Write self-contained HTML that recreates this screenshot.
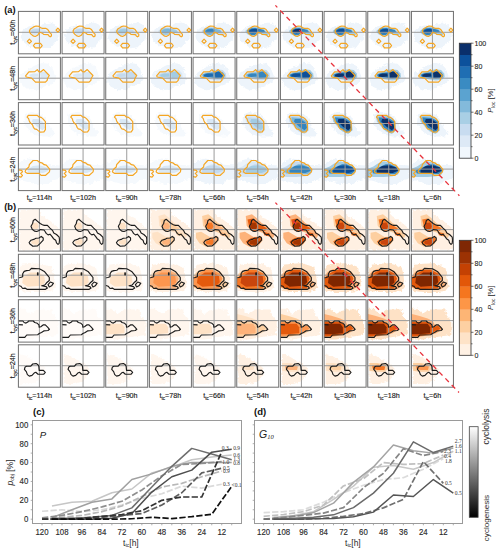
<!DOCTYPE html><html><head><meta charset="utf-8"><style>html,body{margin:0;padding:0;background:#fff;}svg{display:block;font-family:"Liberation Sans",sans-serif;}</style></head><body>
<svg width="500" height="554" viewBox="0 0 500 554">
<rect width="500" height="554" fill="#fff"/>
<defs>
<clipPath id="cA00"><rect x="18.40" y="11.40" width="42.0" height="42.4"/></clipPath>
<clipPath id="cA01"><rect x="62.07" y="11.40" width="42.0" height="42.4"/></clipPath>
<clipPath id="cA02"><rect x="105.74" y="11.40" width="42.0" height="42.4"/></clipPath>
<clipPath id="cA03"><rect x="149.41" y="11.40" width="42.0" height="42.4"/></clipPath>
<clipPath id="cA04"><rect x="193.08" y="11.40" width="42.0" height="42.4"/></clipPath>
<clipPath id="cA05"><rect x="236.75" y="11.40" width="42.0" height="42.4"/></clipPath>
<clipPath id="cA06"><rect x="280.42" y="11.40" width="42.0" height="42.4"/></clipPath>
<clipPath id="cA07"><rect x="324.09" y="11.40" width="42.0" height="42.4"/></clipPath>
<clipPath id="cA08"><rect x="367.76" y="11.40" width="42.0" height="42.4"/></clipPath>
<clipPath id="cA09"><rect x="411.43" y="11.40" width="42.0" height="42.4"/></clipPath>
<clipPath id="cA10"><rect x="18.40" y="57.30" width="42.0" height="42.4"/></clipPath>
<clipPath id="cA11"><rect x="62.07" y="57.30" width="42.0" height="42.4"/></clipPath>
<clipPath id="cA12"><rect x="105.74" y="57.30" width="42.0" height="42.4"/></clipPath>
<clipPath id="cA13"><rect x="149.41" y="57.30" width="42.0" height="42.4"/></clipPath>
<clipPath id="cA14"><rect x="193.08" y="57.30" width="42.0" height="42.4"/></clipPath>
<clipPath id="cA15"><rect x="236.75" y="57.30" width="42.0" height="42.4"/></clipPath>
<clipPath id="cA16"><rect x="280.42" y="57.30" width="42.0" height="42.4"/></clipPath>
<clipPath id="cA17"><rect x="324.09" y="57.30" width="42.0" height="42.4"/></clipPath>
<clipPath id="cA18"><rect x="367.76" y="57.30" width="42.0" height="42.4"/></clipPath>
<clipPath id="cA19"><rect x="411.43" y="57.30" width="42.0" height="42.4"/></clipPath>
<clipPath id="cA20"><rect x="18.40" y="102.60" width="42.0" height="42.4"/></clipPath>
<clipPath id="cA21"><rect x="62.07" y="102.60" width="42.0" height="42.4"/></clipPath>
<clipPath id="cA22"><rect x="105.74" y="102.60" width="42.0" height="42.4"/></clipPath>
<clipPath id="cA23"><rect x="149.41" y="102.60" width="42.0" height="42.4"/></clipPath>
<clipPath id="cA24"><rect x="193.08" y="102.60" width="42.0" height="42.4"/></clipPath>
<clipPath id="cA25"><rect x="236.75" y="102.60" width="42.0" height="42.4"/></clipPath>
<clipPath id="cA26"><rect x="280.42" y="102.60" width="42.0" height="42.4"/></clipPath>
<clipPath id="cA27"><rect x="324.09" y="102.60" width="42.0" height="42.4"/></clipPath>
<clipPath id="cA28"><rect x="367.76" y="102.60" width="42.0" height="42.4"/></clipPath>
<clipPath id="cA29"><rect x="411.43" y="102.60" width="42.0" height="42.4"/></clipPath>
<clipPath id="cA30"><rect x="18.40" y="148.20" width="42.0" height="42.4"/></clipPath>
<clipPath id="cA31"><rect x="62.07" y="148.20" width="42.0" height="42.4"/></clipPath>
<clipPath id="cA32"><rect x="105.74" y="148.20" width="42.0" height="42.4"/></clipPath>
<clipPath id="cA33"><rect x="149.41" y="148.20" width="42.0" height="42.4"/></clipPath>
<clipPath id="cA34"><rect x="193.08" y="148.20" width="42.0" height="42.4"/></clipPath>
<clipPath id="cA35"><rect x="236.75" y="148.20" width="42.0" height="42.4"/></clipPath>
<clipPath id="cA36"><rect x="280.42" y="148.20" width="42.0" height="42.4"/></clipPath>
<clipPath id="cA37"><rect x="324.09" y="148.20" width="42.0" height="42.4"/></clipPath>
<clipPath id="cA38"><rect x="367.76" y="148.20" width="42.0" height="42.4"/></clipPath>
<clipPath id="cA39"><rect x="411.43" y="148.20" width="42.0" height="42.4"/></clipPath>
<clipPath id="cB00"><rect x="18.40" y="208.70" width="42.0" height="42.4"/></clipPath>
<clipPath id="cB01"><rect x="62.07" y="208.70" width="42.0" height="42.4"/></clipPath>
<clipPath id="cB02"><rect x="105.74" y="208.70" width="42.0" height="42.4"/></clipPath>
<clipPath id="cB03"><rect x="149.41" y="208.70" width="42.0" height="42.4"/></clipPath>
<clipPath id="cB04"><rect x="193.08" y="208.70" width="42.0" height="42.4"/></clipPath>
<clipPath id="cB05"><rect x="236.75" y="208.70" width="42.0" height="42.4"/></clipPath>
<clipPath id="cB06"><rect x="280.42" y="208.70" width="42.0" height="42.4"/></clipPath>
<clipPath id="cB07"><rect x="324.09" y="208.70" width="42.0" height="42.4"/></clipPath>
<clipPath id="cB08"><rect x="367.76" y="208.70" width="42.0" height="42.4"/></clipPath>
<clipPath id="cB09"><rect x="411.43" y="208.70" width="42.0" height="42.4"/></clipPath>
<clipPath id="cB10"><rect x="18.40" y="254.30" width="42.0" height="42.4"/></clipPath>
<clipPath id="cB11"><rect x="62.07" y="254.30" width="42.0" height="42.4"/></clipPath>
<clipPath id="cB12"><rect x="105.74" y="254.30" width="42.0" height="42.4"/></clipPath>
<clipPath id="cB13"><rect x="149.41" y="254.30" width="42.0" height="42.4"/></clipPath>
<clipPath id="cB14"><rect x="193.08" y="254.30" width="42.0" height="42.4"/></clipPath>
<clipPath id="cB15"><rect x="236.75" y="254.30" width="42.0" height="42.4"/></clipPath>
<clipPath id="cB16"><rect x="280.42" y="254.30" width="42.0" height="42.4"/></clipPath>
<clipPath id="cB17"><rect x="324.09" y="254.30" width="42.0" height="42.4"/></clipPath>
<clipPath id="cB18"><rect x="367.76" y="254.30" width="42.0" height="42.4"/></clipPath>
<clipPath id="cB19"><rect x="411.43" y="254.30" width="42.0" height="42.4"/></clipPath>
<clipPath id="cB20"><rect x="18.40" y="299.70" width="42.0" height="42.4"/></clipPath>
<clipPath id="cB21"><rect x="62.07" y="299.70" width="42.0" height="42.4"/></clipPath>
<clipPath id="cB22"><rect x="105.74" y="299.70" width="42.0" height="42.4"/></clipPath>
<clipPath id="cB23"><rect x="149.41" y="299.70" width="42.0" height="42.4"/></clipPath>
<clipPath id="cB24"><rect x="193.08" y="299.70" width="42.0" height="42.4"/></clipPath>
<clipPath id="cB25"><rect x="236.75" y="299.70" width="42.0" height="42.4"/></clipPath>
<clipPath id="cB26"><rect x="280.42" y="299.70" width="42.0" height="42.4"/></clipPath>
<clipPath id="cB27"><rect x="324.09" y="299.70" width="42.0" height="42.4"/></clipPath>
<clipPath id="cB28"><rect x="367.76" y="299.70" width="42.0" height="42.4"/></clipPath>
<clipPath id="cB29"><rect x="411.43" y="299.70" width="42.0" height="42.4"/></clipPath>
<clipPath id="cB30"><rect x="18.40" y="344.80" width="42.0" height="42.4"/></clipPath>
<clipPath id="cB31"><rect x="62.07" y="344.80" width="42.0" height="42.4"/></clipPath>
<clipPath id="cB32"><rect x="105.74" y="344.80" width="42.0" height="42.4"/></clipPath>
<clipPath id="cB33"><rect x="149.41" y="344.80" width="42.0" height="42.4"/></clipPath>
<clipPath id="cB34"><rect x="193.08" y="344.80" width="42.0" height="42.4"/></clipPath>
<clipPath id="cB35"><rect x="236.75" y="344.80" width="42.0" height="42.4"/></clipPath>
<clipPath id="cB36"><rect x="280.42" y="344.80" width="42.0" height="42.4"/></clipPath>
<clipPath id="cB37"><rect x="324.09" y="344.80" width="42.0" height="42.4"/></clipPath>
<clipPath id="cB38"><rect x="367.76" y="344.80" width="42.0" height="42.4"/></clipPath>
<clipPath id="cB39"><rect x="411.43" y="344.80" width="42.0" height="42.4"/></clipPath>
<filter id="bl" x="-20%" y="-20%" width="140%" height="140%"><feGaussianBlur stdDeviation="0.45"/></filter>
<filter id="rg" x="-20%" y="-20%" width="140%" height="140%"><feTurbulence type="fractalNoise" baseFrequency="0.35" numOctaves="2" seed="3" result="n"/><feDisplacementMap in="SourceGraphic" in2="n" scale="4" xChannelSelector="R" yChannelSelector="G"/></filter>
</defs>
<g clip-path="url(#cA00)">
<g filter="url(#bl)">
<polygon points="20.74,36.70 22.50,30.54 26.90,27.02 33.06,25.26 40.10,26.14 43.63,23.50 50.67,22.62 55.07,24.38 58.59,28.78 58.59,39.34 54.19,42.86 50.67,47.26 43.63,48.15 34.82,48.15 27.78,45.50 22.50,41.10" fill="#edf4fb" filter="url(#rg)"/>
<polygon points="28.66,30.54 32.18,28.34 36.58,27.90 40.98,28.78 45.39,30.10 47.15,32.30 43.63,32.74 39.22,32.74 36.58,34.94 32.18,34.94 29.54,33.18" fill="#d9e8f5"/>
<polygon points="30.42,30.98 33.06,29.22 37.46,28.78 40.10,30.10 39.22,32.30 34.82,33.18 31.30,32.74" fill="#c4daee"/>
</g>
<line x1="39.40" y1="11.40" x2="39.40" y2="53.80" stroke="#9c9c9c" stroke-width="1"/>
<line x1="18.40" y1="32.30" x2="60.40" y2="32.30" stroke="#9c9c9c" stroke-width="1"/>
<g fill="none" stroke="#f5a623" stroke-width="1.2" stroke-linejoin="round">
<polygon points="29.40,31.10 30.40,29.00 32.50,27.80 34.30,26.60 36.10,26.00 39.10,26.30 40.60,27.80 42.40,28.40 46.00,28.40 47.80,29.60 49.00,31.40 49.90,32.90 51.40,34.10 51.40,35.90 50.20,36.80 49.00,35.90 48.10,34.70 43.60,34.40 42.40,33.20 40.00,32.30 38.80,33.50 37.60,35.30 35.20,36.50 33.10,35.90 31.00,34.10 29.80,32.60"/>
<polygon points="29.40,39.20 31.50,41.30 29.40,43.40 27.30,41.30"/>
<polygon points="33.45,45.60 35.20,43.40 40.45,43.40 42.20,45.60 40.45,47.90 35.20,47.90"/>
<polygon points="57.90,28.20 59.80,30.10 57.90,32.00 56.00,30.10"/>
</g>
</g>
<rect x="18.40" y="11.40" width="42.0" height="42.4" fill="none" stroke="#6e6e6e" stroke-width="1"/>
<g clip-path="url(#cA01)">
<g filter="url(#bl)">
<polygon points="64.41,36.70 66.17,30.54 70.57,27.02 76.73,25.26 83.77,26.14 87.30,23.50 94.34,22.62 98.74,24.38 102.26,28.78 102.26,39.34 97.86,42.86 94.34,47.26 87.30,48.15 78.49,48.15 71.45,45.50 66.17,41.10" fill="#edf4fb" filter="url(#rg)"/>
<polygon points="72.33,30.54 75.85,28.34 80.25,27.90 84.65,28.78 89.06,30.10 90.82,32.30 87.30,32.74 82.89,32.74 80.25,34.94 75.85,34.94 73.21,33.18" fill="#d9e8f5"/>
<polygon points="74.09,30.98 76.73,29.22 81.13,28.78 83.77,30.10 82.89,32.30 78.49,33.18 74.97,32.74" fill="#c4daee"/>
</g>
<line x1="83.07" y1="11.40" x2="83.07" y2="53.80" stroke="#9c9c9c" stroke-width="1"/>
<line x1="62.07" y1="32.30" x2="104.07" y2="32.30" stroke="#9c9c9c" stroke-width="1"/>
<g fill="none" stroke="#f5a623" stroke-width="1.2" stroke-linejoin="round">
<polygon points="73.07,31.10 74.07,29.00 76.17,27.80 77.97,26.60 79.77,26.00 82.77,26.30 84.27,27.80 86.07,28.40 89.67,28.40 91.47,29.60 92.67,31.40 93.57,32.90 95.07,34.10 95.07,35.90 93.87,36.80 92.67,35.90 91.77,34.70 87.27,34.40 86.07,33.20 83.67,32.30 82.47,33.50 81.27,35.30 78.87,36.50 76.77,35.90 74.67,34.10 73.47,32.60"/>
<polygon points="73.07,39.20 75.17,41.30 73.07,43.40 70.97,41.30"/>
<polygon points="77.12,45.60 78.87,43.40 84.12,43.40 85.87,45.60 84.12,47.90 78.87,47.90"/>
<polygon points="101.57,28.20 103.47,30.10 101.57,32.00 99.67,30.10"/>
</g>
</g>
<rect x="62.07" y="11.40" width="42.0" height="42.4" fill="none" stroke="#6e6e6e" stroke-width="1"/>
<g clip-path="url(#cA02)">
<g filter="url(#bl)">
<polygon points="108.08,36.70 109.84,30.54 114.24,27.02 120.40,25.26 127.44,26.14 130.97,23.50 138.01,22.62 142.41,24.38 145.93,28.78 145.93,39.34 141.53,42.86 138.01,47.26 130.97,48.15 122.16,48.15 115.12,45.50 109.84,41.10" fill="#edf4fb" filter="url(#rg)"/>
<polygon points="114.24,30.98 117.76,27.90 122.16,26.58 127.44,27.46 132.73,28.78 136.25,32.30 138.01,34.94 135.37,35.82 130.97,34.06 126.56,34.06 123.04,36.70 119.52,35.82 116.00,34.06" fill="#d9e8f5"/>
<polygon points="116.00,30.54 119.52,28.34 123.92,27.90 128.32,28.78 132.73,30.10 134.49,32.30 130.97,32.74 126.56,32.74 123.92,34.94 119.52,34.94 116.88,33.18" fill="#c4daee"/>
<polygon points="117.76,30.98 120.40,29.22 124.80,28.78 127.44,30.10 126.56,32.30 122.16,33.18 118.64,32.74" fill="#a3cce3"/>
</g>
<line x1="126.74" y1="11.40" x2="126.74" y2="53.80" stroke="#9c9c9c" stroke-width="1"/>
<line x1="105.74" y1="32.30" x2="147.74" y2="32.30" stroke="#9c9c9c" stroke-width="1"/>
<g fill="none" stroke="#f5a623" stroke-width="1.2" stroke-linejoin="round">
<polygon points="116.74,31.10 117.74,29.00 119.84,27.80 121.64,26.60 123.44,26.00 126.44,26.30 127.94,27.80 129.74,28.40 133.34,28.40 135.14,29.60 136.34,31.40 137.24,32.90 138.74,34.10 138.74,35.90 137.54,36.80 136.34,35.90 135.44,34.70 130.94,34.40 129.74,33.20 127.34,32.30 126.14,33.50 124.94,35.30 122.54,36.50 120.44,35.90 118.34,34.10 117.14,32.60"/>
<polygon points="116.74,39.20 118.84,41.30 116.74,43.40 114.64,41.30"/>
<polygon points="120.79,45.60 122.54,43.40 127.79,43.40 129.54,45.60 127.79,47.90 122.54,47.90"/>
<polygon points="145.24,28.20 147.14,30.10 145.24,32.00 143.34,30.10"/>
</g>
</g>
<rect x="105.74" y="11.40" width="42.0" height="42.4" fill="none" stroke="#6e6e6e" stroke-width="1"/>
<g clip-path="url(#cA03)">
<g filter="url(#bl)">
<polygon points="151.75,36.70 153.51,30.54 157.91,27.02 164.07,25.26 171.11,26.14 174.64,23.50 181.68,22.62 186.08,24.38 189.60,28.78 189.60,39.34 185.20,42.86 181.68,47.26 174.64,48.15 165.83,48.15 158.79,45.50 153.51,41.10" fill="#edf4fb" filter="url(#rg)"/>
<polygon points="157.91,30.98 161.43,27.90 165.83,26.58 171.11,27.46 176.40,28.78 179.92,32.30 181.68,34.94 179.04,35.82 174.64,34.06 170.23,34.06 166.71,36.70 163.19,35.82 159.67,34.06" fill="#d9e8f5"/>
<polygon points="159.67,30.54 163.19,28.34 167.59,27.90 171.99,28.78 176.40,30.10 178.16,32.30 174.64,32.74 170.23,32.74 167.59,34.94 163.19,34.94 160.55,33.18" fill="#a3cce3"/>
<polygon points="161.43,30.98 164.07,29.22 168.47,28.78 171.11,30.10 170.23,32.30 165.83,33.18 162.31,32.74" fill="#7db8da"/>
</g>
<line x1="170.41" y1="11.40" x2="170.41" y2="53.80" stroke="#9c9c9c" stroke-width="1"/>
<line x1="149.41" y1="32.30" x2="191.41" y2="32.30" stroke="#9c9c9c" stroke-width="1"/>
<g fill="none" stroke="#f5a623" stroke-width="1.2" stroke-linejoin="round">
<polygon points="160.41,31.10 161.41,29.00 163.51,27.80 165.31,26.60 167.11,26.00 170.11,26.30 171.61,27.80 173.41,28.40 177.01,28.40 178.81,29.60 180.01,31.40 180.91,32.90 182.41,34.10 182.41,35.90 181.21,36.80 180.01,35.90 179.11,34.70 174.61,34.40 173.41,33.20 171.01,32.30 169.81,33.50 168.61,35.30 166.21,36.50 164.11,35.90 162.01,34.10 160.81,32.60"/>
<polygon points="160.41,39.20 162.51,41.30 160.41,43.40 158.31,41.30"/>
<polygon points="164.46,45.60 166.21,43.40 171.46,43.40 173.21,45.60 171.46,47.90 166.21,47.90"/>
<polygon points="188.91,28.20 190.81,30.10 188.91,32.00 187.01,30.10"/>
</g>
</g>
<rect x="149.41" y="11.40" width="42.0" height="42.4" fill="none" stroke="#6e6e6e" stroke-width="1"/>
<g clip-path="url(#cA04)">
<g filter="url(#bl)">
<polygon points="195.42,36.70 197.18,30.54 201.58,27.02 207.74,25.26 214.78,26.14 218.31,23.50 225.35,22.62 229.75,24.38 233.27,28.78 233.27,39.34 228.87,42.86 225.35,47.26 218.31,48.15 209.50,48.15 202.46,45.50 197.18,41.10" fill="#edf4fb" filter="url(#rg)"/>
<polygon points="201.58,30.98 205.10,27.90 209.50,26.58 214.78,27.46 220.07,28.78 223.59,32.30 225.35,34.94 222.71,35.82 218.31,34.06 213.90,34.06 210.38,36.70 206.86,35.82 203.34,34.06" fill="#c4daee"/>
<polygon points="203.34,30.54 206.86,28.34 211.26,27.90 215.66,28.78 220.07,30.10 221.83,32.30 218.31,32.74 213.90,32.74 211.26,34.94 206.86,34.94 204.22,33.18" fill="#7db8da"/>
<polygon points="205.10,30.98 207.74,29.22 212.14,28.78 214.78,30.10 213.90,32.30 209.50,33.18 205.98,32.74" fill="#3585bf"/>
</g>
<line x1="214.08" y1="11.40" x2="214.08" y2="53.80" stroke="#9c9c9c" stroke-width="1"/>
<line x1="193.08" y1="32.30" x2="235.08" y2="32.30" stroke="#9c9c9c" stroke-width="1"/>
<g fill="none" stroke="#f5a623" stroke-width="1.2" stroke-linejoin="round">
<polygon points="204.08,31.10 205.08,29.00 207.18,27.80 208.98,26.60 210.78,26.00 213.78,26.30 215.28,27.80 217.08,28.40 220.68,28.40 222.48,29.60 223.68,31.40 224.58,32.90 226.08,34.10 226.08,35.90 224.88,36.80 223.68,35.90 222.78,34.70 218.28,34.40 217.08,33.20 214.68,32.30 213.48,33.50 212.28,35.30 209.88,36.50 207.78,35.90 205.68,34.10 204.48,32.60"/>
<polygon points="204.08,39.20 206.18,41.30 204.08,43.40 201.98,41.30"/>
<polygon points="208.13,45.60 209.88,43.40 215.13,43.40 216.88,45.60 215.13,47.90 209.88,47.90"/>
<polygon points="232.58,28.20 234.48,30.10 232.58,32.00 230.68,30.10"/>
</g>
</g>
<rect x="193.08" y="11.40" width="42.0" height="42.4" fill="none" stroke="#6e6e6e" stroke-width="1"/>
<g clip-path="url(#cA05)">
<g filter="url(#bl)">
<polygon points="239.09,36.70 240.85,30.54 245.25,27.02 251.41,25.26 258.45,26.14 261.98,23.50 269.02,22.62 273.42,24.38 276.94,28.78 276.94,39.34 272.54,42.86 269.02,47.26 261.98,48.15 253.17,48.15 246.13,45.50 240.85,41.10" fill="#edf4fb" filter="url(#rg)"/>
<polygon points="245.25,30.98 248.77,27.90 253.17,26.58 258.45,27.46 263.74,28.78 267.26,32.30 269.02,34.94 266.38,35.82 261.98,34.06 257.57,34.06 254.05,36.70 250.53,35.82 247.01,34.06" fill="#a3cce3"/>
<polygon points="247.01,30.54 250.53,28.34 254.93,27.90 259.33,28.78 263.74,30.10 265.50,32.30 261.98,32.74 257.57,32.74 254.93,34.94 250.53,34.94 247.89,33.18" fill="#3585bf"/>
<polygon points="248.77,30.98 251.41,29.22 255.81,28.78 258.45,30.10 257.57,32.30 253.17,33.18 249.65,32.74" fill="#0b4f98"/>
</g>
<line x1="257.75" y1="11.40" x2="257.75" y2="53.80" stroke="#9c9c9c" stroke-width="1"/>
<line x1="236.75" y1="32.30" x2="278.75" y2="32.30" stroke="#9c9c9c" stroke-width="1"/>
<g fill="none" stroke="#f5a623" stroke-width="1.2" stroke-linejoin="round">
<polygon points="247.75,31.10 248.75,29.00 250.85,27.80 252.65,26.60 254.45,26.00 257.45,26.30 258.95,27.80 260.75,28.40 264.35,28.40 266.15,29.60 267.35,31.40 268.25,32.90 269.75,34.10 269.75,35.90 268.55,36.80 267.35,35.90 266.45,34.70 261.95,34.40 260.75,33.20 258.35,32.30 257.15,33.50 255.95,35.30 253.55,36.50 251.45,35.90 249.35,34.10 248.15,32.60"/>
<polygon points="247.75,39.20 249.85,41.30 247.75,43.40 245.65,41.30"/>
<polygon points="251.80,45.60 253.55,43.40 258.80,43.40 260.55,45.60 258.80,47.90 253.55,47.90"/>
<polygon points="276.25,28.20 278.15,30.10 276.25,32.00 274.35,30.10"/>
</g>
</g>
<rect x="236.75" y="11.40" width="42.0" height="42.4" fill="none" stroke="#6e6e6e" stroke-width="1"/>
<g clip-path="url(#cA06)">
<g filter="url(#bl)">
<polygon points="282.76,36.70 284.52,30.54 288.92,27.02 295.08,25.26 302.12,26.14 305.65,23.50 312.69,22.62 317.09,24.38 320.61,28.78 320.61,39.34 316.21,42.86 312.69,47.26 305.65,48.15 296.84,48.15 289.80,45.50 284.52,41.10" fill="#edf4fb" filter="url(#rg)"/>
<polygon points="288.92,30.98 292.44,27.90 296.84,26.58 302.12,27.46 307.41,28.78 310.93,32.30 312.69,34.94 310.05,35.82 305.65,34.06 301.24,34.06 297.72,36.70 294.20,35.82 290.68,34.06" fill="#a3cce3"/>
<polygon points="290.68,30.54 294.20,28.34 298.60,27.90 303.00,28.78 307.41,30.10 309.17,32.30 305.65,32.74 301.24,32.74 298.60,34.94 294.20,34.94 291.56,33.18" fill="#3585bf"/>
<polygon points="292.44,30.98 295.08,29.22 299.48,28.78 302.12,30.10 301.24,32.30 296.84,33.18 293.32,32.74" fill="#08306b"/>
</g>
<line x1="301.42" y1="11.40" x2="301.42" y2="53.80" stroke="#9c9c9c" stroke-width="1"/>
<line x1="280.42" y1="32.30" x2="322.42" y2="32.30" stroke="#9c9c9c" stroke-width="1"/>
<g fill="none" stroke="#f5a623" stroke-width="1.2" stroke-linejoin="round">
<polygon points="291.42,31.10 292.42,29.00 294.52,27.80 296.32,26.60 298.12,26.00 301.12,26.30 302.62,27.80 304.42,28.40 308.02,28.40 309.82,29.60 311.02,31.40 311.92,32.90 313.42,34.10 313.42,35.90 312.22,36.80 311.02,35.90 310.12,34.70 305.62,34.40 304.42,33.20 302.02,32.30 300.82,33.50 299.62,35.30 297.22,36.50 295.12,35.90 293.02,34.10 291.82,32.60"/>
<polygon points="291.42,39.20 293.52,41.30 291.42,43.40 289.32,41.30"/>
<polygon points="295.47,45.60 297.22,43.40 302.47,43.40 304.22,45.60 302.47,47.90 297.22,47.90"/>
<polygon points="319.92,28.20 321.82,30.10 319.92,32.00 318.02,30.10"/>
</g>
</g>
<rect x="280.42" y="11.40" width="42.0" height="42.4" fill="none" stroke="#6e6e6e" stroke-width="1"/>
<g clip-path="url(#cA07)">
<g filter="url(#bl)">
<polygon points="326.43,36.70 328.19,30.54 332.59,27.02 338.75,25.26 345.79,26.14 349.32,23.50 356.36,22.62 360.76,24.38 364.28,28.78 364.28,39.34 359.88,42.86 356.36,47.26 349.32,48.15 340.51,48.15 333.47,45.50 328.19,41.10" fill="#edf4fb" filter="url(#rg)"/>
<polygon points="332.59,30.98 336.11,27.90 340.51,26.58 345.79,27.46 351.08,28.78 354.60,32.30 356.36,34.94 353.72,35.82 349.32,34.06 344.91,34.06 341.39,36.70 337.87,35.82 334.35,34.06" fill="#a3cce3"/>
<polygon points="334.35,30.54 337.87,28.34 342.27,27.90 346.67,28.78 351.08,30.10 352.84,32.30 349.32,32.74 344.91,32.74 342.27,34.94 337.87,34.94 335.23,33.18" fill="#3585bf"/>
<polygon points="336.11,30.98 338.75,29.22 343.15,28.78 345.79,30.10 344.91,32.30 340.51,33.18 336.99,32.74" fill="#0b4f98"/>
</g>
<line x1="345.09" y1="11.40" x2="345.09" y2="53.80" stroke="#9c9c9c" stroke-width="1"/>
<line x1="324.09" y1="32.30" x2="366.09" y2="32.30" stroke="#9c9c9c" stroke-width="1"/>
<g fill="none" stroke="#f5a623" stroke-width="1.2" stroke-linejoin="round">
<polygon points="335.09,31.10 336.09,29.00 338.19,27.80 339.99,26.60 341.79,26.00 344.79,26.30 346.29,27.80 348.09,28.40 351.69,28.40 353.49,29.60 354.69,31.40 355.59,32.90 357.09,34.10 357.09,35.90 355.89,36.80 354.69,35.90 353.79,34.70 349.29,34.40 348.09,33.20 345.69,32.30 344.49,33.50 343.29,35.30 340.89,36.50 338.79,35.90 336.69,34.10 335.49,32.60"/>
<polygon points="335.09,39.20 337.19,41.30 335.09,43.40 332.99,41.30"/>
<polygon points="339.14,45.60 340.89,43.40 346.14,43.40 347.89,45.60 346.14,47.90 340.89,47.90"/>
<polygon points="363.59,28.20 365.49,30.10 363.59,32.00 361.69,30.10"/>
</g>
</g>
<rect x="324.09" y="11.40" width="42.0" height="42.4" fill="none" stroke="#6e6e6e" stroke-width="1"/>
<g clip-path="url(#cA08)">
<g filter="url(#bl)">
<polygon points="370.10,36.70 371.86,30.54 376.26,27.02 382.42,25.26 389.46,26.14 392.99,23.50 400.03,22.62 404.43,24.38 407.95,28.78 407.95,39.34 403.55,42.86 400.03,47.26 392.99,48.15 384.18,48.15 377.14,45.50 371.86,41.10" fill="#edf4fb" filter="url(#rg)"/>
<polygon points="376.26,30.98 379.78,27.90 384.18,26.58 389.46,27.46 394.75,28.78 398.27,32.30 400.03,34.94 397.39,35.82 392.99,34.06 388.58,34.06 385.06,36.70 381.54,35.82 378.02,34.06" fill="#a3cce3"/>
<polygon points="378.02,30.54 381.54,28.34 385.94,27.90 390.34,28.78 394.75,30.10 396.51,32.30 392.99,32.74 388.58,32.74 385.94,34.94 381.54,34.94 378.90,33.18" fill="#3585bf"/>
<polygon points="379.78,30.98 382.42,29.22 386.82,28.78 389.46,30.10 388.58,32.30 384.18,33.18 380.66,32.74" fill="#0b4f98"/>
</g>
<line x1="388.76" y1="11.40" x2="388.76" y2="53.80" stroke="#9c9c9c" stroke-width="1"/>
<line x1="367.76" y1="32.30" x2="409.76" y2="32.30" stroke="#9c9c9c" stroke-width="1"/>
<g fill="none" stroke="#f5a623" stroke-width="1.2" stroke-linejoin="round">
<polygon points="378.76,31.10 379.76,29.00 381.86,27.80 383.66,26.60 385.46,26.00 388.46,26.30 389.96,27.80 391.76,28.40 395.36,28.40 397.16,29.60 398.36,31.40 399.26,32.90 400.76,34.10 400.76,35.90 399.56,36.80 398.36,35.90 397.46,34.70 392.96,34.40 391.76,33.20 389.36,32.30 388.16,33.50 386.96,35.30 384.56,36.50 382.46,35.90 380.36,34.10 379.16,32.60"/>
<polygon points="378.76,39.20 380.86,41.30 378.76,43.40 376.66,41.30"/>
<polygon points="382.81,45.60 384.56,43.40 389.81,43.40 391.56,45.60 389.81,47.90 384.56,47.90"/>
<polygon points="407.26,28.20 409.16,30.10 407.26,32.00 405.36,30.10"/>
</g>
</g>
<rect x="367.76" y="11.40" width="42.0" height="42.4" fill="none" stroke="#6e6e6e" stroke-width="1"/>
<g clip-path="url(#cA09)">
<g filter="url(#bl)">
<polygon points="413.77,36.70 415.53,30.54 419.93,27.02 426.09,25.26 433.13,26.14 436.66,23.50 443.70,22.62 448.10,24.38 451.62,28.78 451.62,39.34 447.22,42.86 443.70,47.26 436.66,48.15 427.85,48.15 420.81,45.50 415.53,41.10" fill="#edf4fb" filter="url(#rg)"/>
<polygon points="419.93,30.98 423.45,27.90 427.85,26.58 433.13,27.46 438.42,28.78 441.94,32.30 443.70,34.94 441.06,35.82 436.66,34.06 432.25,34.06 428.73,36.70 425.21,35.82 421.69,34.06" fill="#a3cce3"/>
<polygon points="421.69,30.54 425.21,28.34 429.61,27.90 434.01,28.78 438.42,30.10 440.18,32.30 436.66,32.74 432.25,32.74 429.61,34.94 425.21,34.94 422.57,33.18" fill="#3585bf"/>
<polygon points="423.45,30.98 426.09,29.22 430.49,28.78 433.13,30.10 432.25,32.30 427.85,33.18 424.33,32.74" fill="#0b4f98"/>
</g>
<line x1="432.43" y1="11.40" x2="432.43" y2="53.80" stroke="#9c9c9c" stroke-width="1"/>
<line x1="411.43" y1="32.30" x2="453.43" y2="32.30" stroke="#9c9c9c" stroke-width="1"/>
<g fill="none" stroke="#f5a623" stroke-width="1.2" stroke-linejoin="round">
<polygon points="422.43,31.10 423.43,29.00 425.53,27.80 427.33,26.60 429.13,26.00 432.13,26.30 433.63,27.80 435.43,28.40 439.03,28.40 440.83,29.60 442.03,31.40 442.93,32.90 444.43,34.10 444.43,35.90 443.23,36.80 442.03,35.90 441.13,34.70 436.63,34.40 435.43,33.20 433.03,32.30 431.83,33.50 430.63,35.30 428.23,36.50 426.13,35.90 424.03,34.10 422.83,32.60"/>
<polygon points="422.43,39.20 424.53,41.30 422.43,43.40 420.33,41.30"/>
<polygon points="426.48,45.60 428.23,43.40 433.48,43.40 435.23,45.60 433.48,47.90 428.23,47.90"/>
<polygon points="450.93,28.20 452.83,30.10 450.93,32.00 449.03,30.10"/>
</g>
</g>
<rect x="411.43" y="11.40" width="42.0" height="42.4" fill="none" stroke="#6e6e6e" stroke-width="1"/>
<text transform="translate(14.6,32.30) rotate(-90)" text-anchor="middle" font-size="7.2" fill="#222" stroke="#222" stroke-width="0.15">t<tspan font-size="4.6" dy="2.1">cyc</tspan><tspan dy="-2.1">=</tspan>60h</text>
<g clip-path="url(#cA10)">
<g filter="url(#bl)">
<polygon points="19.95,77.94 22.59,72.65 27.87,69.13 34.91,65.61 41.95,62.97 48.11,63.85 52.52,68.25 55.16,75.30 56.04,79.70 51.64,84.10 43.71,86.74 39.31,89.38 31.39,90.26 23.47,86.74 19.95,82.34" fill="#f5f9fd" filter="url(#rg)"/>
<polygon points="29.19,74.85 33.15,73.53 37.99,73.53 38.43,76.62 33.15,77.06 29.63,76.62" fill="#d9e8f5"/>
<polygon points="40.02,72.21 45.47,71.60 48.55,74.41 47.67,77.50 40.63,77.76" fill="#d9e8f5"/>
</g>
<line x1="39.40" y1="57.30" x2="39.40" y2="99.70" stroke="#9c9c9c" stroke-width="1"/>
<line x1="18.40" y1="78.20" x2="60.40" y2="78.20" stroke="#9c9c9c" stroke-width="1"/>
<g fill="none" stroke="#f5a623" stroke-width="1.2" stroke-linejoin="round">
<polygon points="25.60,75.80 28.90,71.90 34.90,71.60 37.30,69.60 38.80,71.60 40.60,71.90 43.60,69.60 49.30,75.50 47.50,78.50 47.20,80.30 45.40,82.10 35.50,82.10 31.60,78.20 26.20,77.00"/>
</g>
</g>
<rect x="18.40" y="57.30" width="42.0" height="42.4" fill="none" stroke="#6e6e6e" stroke-width="1"/>
<g clip-path="url(#cA11)">
<g filter="url(#bl)">
<polygon points="63.62,77.94 66.26,72.65 71.54,69.13 78.58,65.61 85.62,62.97 91.78,63.85 96.19,68.25 98.83,75.30 99.71,79.70 95.31,84.10 87.38,86.74 82.98,89.38 75.06,90.26 67.14,86.74 63.62,82.34" fill="#f5f9fd" filter="url(#rg)"/>
<polygon points="72.86,74.85 76.82,73.53 81.66,73.53 82.10,76.62 76.82,77.06 73.30,76.62" fill="#d9e8f5"/>
<polygon points="83.69,72.21 89.14,71.60 92.22,74.41 91.34,77.50 84.30,77.76" fill="#d9e8f5"/>
</g>
<line x1="83.07" y1="57.30" x2="83.07" y2="99.70" stroke="#9c9c9c" stroke-width="1"/>
<line x1="62.07" y1="78.20" x2="104.07" y2="78.20" stroke="#9c9c9c" stroke-width="1"/>
<g fill="none" stroke="#f5a623" stroke-width="1.2" stroke-linejoin="round">
<polygon points="69.27,75.80 72.57,71.90 78.57,71.60 80.97,69.60 82.47,71.60 84.27,71.90 87.27,69.60 92.97,75.50 91.17,78.50 90.87,80.30 89.07,82.10 79.17,82.10 75.27,78.20 69.87,77.00"/>
</g>
</g>
<rect x="62.07" y="57.30" width="42.0" height="42.4" fill="none" stroke="#6e6e6e" stroke-width="1"/>
<g clip-path="url(#cA12)">
<g filter="url(#bl)">
<polygon points="107.29,77.94 109.93,72.65 115.21,69.13 122.25,65.61 129.29,62.97 135.45,63.85 139.86,68.25 142.50,75.30 143.38,79.70 138.98,84.10 131.05,86.74 126.65,89.38 118.73,90.26 110.81,86.74 107.29,82.34" fill="#edf4fb" filter="url(#rg)"/>
<polygon points="114.77,74.85 118.73,73.09 125.77,72.21 131.05,70.89 135.45,72.21 137.66,75.30 136.34,77.94 130.17,78.82 122.25,77.50 116.09,77.06" fill="#d9e8f5"/>
<polygon points="116.53,74.85 120.49,73.53 125.33,73.53 125.77,76.62 120.49,77.06 116.97,76.62" fill="#c4daee"/>
<polygon points="127.36,72.21 132.81,71.60 135.89,74.41 135.01,77.50 127.97,77.76" fill="#c4daee"/>
</g>
<line x1="126.74" y1="57.30" x2="126.74" y2="99.70" stroke="#9c9c9c" stroke-width="1"/>
<line x1="105.74" y1="78.20" x2="147.74" y2="78.20" stroke="#9c9c9c" stroke-width="1"/>
<g fill="none" stroke="#f5a623" stroke-width="1.2" stroke-linejoin="round">
<polygon points="112.94,75.80 116.24,71.90 122.24,71.60 124.64,69.60 126.14,71.60 127.94,71.90 130.94,69.60 136.64,75.50 134.84,78.50 134.54,80.30 132.74,82.10 122.84,82.10 118.94,78.20 113.54,77.00"/>
</g>
</g>
<rect x="105.74" y="57.30" width="42.0" height="42.4" fill="none" stroke="#6e6e6e" stroke-width="1"/>
<g clip-path="url(#cA13)">
<g filter="url(#bl)">
<polygon points="150.96,77.94 153.60,72.65 158.88,69.13 165.92,65.61 172.96,62.97 179.12,63.85 183.53,68.25 186.17,75.30 187.05,79.70 182.65,84.10 174.72,86.74 170.32,89.38 162.40,90.26 154.48,86.74 150.96,82.34" fill="#edf4fb" filter="url(#rg)"/>
<polygon points="156.68,75.74 159.76,72.65 165.92,70.89 172.96,69.13 179.12,70.01 182.21,73.53 182.65,77.06 180.01,79.70 173.84,80.58 165.92,79.26 158.88,77.94" fill="#d9e8f5"/>
<polygon points="158.44,74.85 162.40,73.09 169.44,72.21 174.72,70.89 179.12,72.21 181.33,75.30 180.01,77.94 173.84,78.82 165.92,77.50 159.76,77.06" fill="#c4daee"/>
<polygon points="160.20,74.85 164.16,73.53 169.00,73.53 169.44,76.62 164.16,77.06 160.64,76.62" fill="#a3cce3"/>
<polygon points="171.03,72.21 176.48,71.60 179.56,74.41 178.68,77.50 171.64,77.76" fill="#a3cce3"/>
</g>
<line x1="170.41" y1="57.30" x2="170.41" y2="99.70" stroke="#9c9c9c" stroke-width="1"/>
<line x1="149.41" y1="78.20" x2="191.41" y2="78.20" stroke="#9c9c9c" stroke-width="1"/>
<g fill="none" stroke="#f5a623" stroke-width="1.2" stroke-linejoin="round">
<polygon points="156.61,75.80 159.91,71.90 165.91,71.60 168.31,69.60 169.81,71.60 171.61,71.90 174.61,69.60 180.31,75.50 178.51,78.50 178.21,80.30 176.41,82.10 166.51,82.10 162.61,78.20 157.21,77.00"/>
</g>
</g>
<rect x="149.41" y="57.30" width="42.0" height="42.4" fill="none" stroke="#6e6e6e" stroke-width="1"/>
<g clip-path="url(#cA14)">
<g filter="url(#bl)">
<polygon points="194.63,77.94 197.27,72.65 202.55,69.13 209.59,65.61 216.63,62.97 222.79,63.85 227.20,68.25 229.84,75.30 230.72,79.70 226.32,84.10 218.39,86.74 213.99,89.38 206.07,90.26 198.15,86.74 194.63,82.34" fill="#edf4fb" filter="url(#rg)"/>
<polygon points="200.35,75.74 203.43,72.65 209.59,70.89 216.63,69.13 222.79,70.01 225.88,73.53 226.32,77.06 223.68,79.70 217.51,80.58 209.59,79.26 202.55,77.94" fill="#c4daee"/>
<polygon points="202.11,74.85 206.07,73.09 213.11,72.21 218.39,70.89 222.79,72.21 225.00,75.30 223.68,77.94 217.51,78.82 209.59,77.50 203.43,77.06" fill="#559fcd"/>
<polygon points="203.87,74.85 207.83,73.53 212.67,73.53 213.11,76.62 207.83,77.06 204.31,76.62" fill="#1b69af"/>
<polygon points="214.70,72.21 220.15,71.60 223.23,74.41 222.35,77.50 215.31,77.76" fill="#1b69af"/>
</g>
<line x1="214.08" y1="57.30" x2="214.08" y2="99.70" stroke="#9c9c9c" stroke-width="1"/>
<line x1="193.08" y1="78.20" x2="235.08" y2="78.20" stroke="#9c9c9c" stroke-width="1"/>
<g fill="none" stroke="#f5a623" stroke-width="1.2" stroke-linejoin="round">
<polygon points="200.28,75.80 203.58,71.90 209.58,71.60 211.98,69.60 213.48,71.60 215.28,71.90 218.28,69.60 223.98,75.50 222.18,78.50 221.88,80.30 220.08,82.10 210.18,82.10 206.28,78.20 200.88,77.00"/>
</g>
</g>
<rect x="193.08" y="57.30" width="42.0" height="42.4" fill="none" stroke="#6e6e6e" stroke-width="1"/>
<g clip-path="url(#cA15)">
<g filter="url(#bl)">
<polygon points="238.30,77.94 240.94,72.65 246.22,69.13 253.26,65.61 260.30,62.97 266.46,63.85 270.87,68.25 273.51,75.30 274.39,79.70 269.99,84.10 262.06,86.74 257.66,89.38 249.74,90.26 241.82,86.74 238.30,82.34" fill="#edf4fb" filter="url(#rg)"/>
<polygon points="244.02,75.74 247.10,72.65 253.26,70.89 260.30,69.13 266.46,70.01 269.55,73.53 269.99,77.06 267.35,79.70 261.18,80.58 253.26,79.26 246.22,77.94" fill="#c4daee"/>
<polygon points="245.78,74.85 249.74,73.09 256.78,72.21 262.06,70.89 266.46,72.21 268.67,75.30 267.35,77.94 261.18,78.82 253.26,77.50 247.10,77.06" fill="#7db8da"/>
<polygon points="247.54,74.85 251.50,73.53 256.34,73.53 256.78,76.62 251.50,77.06 247.98,76.62" fill="#3585bf"/>
<polygon points="258.37,72.21 263.82,71.60 266.90,74.41 266.02,77.50 258.98,77.76" fill="#3585bf"/>
</g>
<line x1="257.75" y1="57.30" x2="257.75" y2="99.70" stroke="#9c9c9c" stroke-width="1"/>
<line x1="236.75" y1="78.20" x2="278.75" y2="78.20" stroke="#9c9c9c" stroke-width="1"/>
<g fill="none" stroke="#f5a623" stroke-width="1.2" stroke-linejoin="round">
<polygon points="243.95,75.80 247.25,71.90 253.25,71.60 255.65,69.60 257.15,71.60 258.95,71.90 261.95,69.60 267.65,75.50 265.85,78.50 265.55,80.30 263.75,82.10 253.85,82.10 249.95,78.20 244.55,77.00"/>
</g>
</g>
<rect x="236.75" y="57.30" width="42.0" height="42.4" fill="none" stroke="#6e6e6e" stroke-width="1"/>
<g clip-path="url(#cA16)">
<g filter="url(#bl)">
<polygon points="281.97,77.94 284.61,72.65 289.89,69.13 296.93,65.61 303.97,62.97 310.13,63.85 314.54,68.25 317.18,75.30 318.06,79.70 313.66,84.10 305.73,86.74 301.33,89.38 293.41,90.26 285.49,86.74 281.97,82.34" fill="#edf4fb" filter="url(#rg)"/>
<polygon points="287.69,75.74 290.77,72.65 296.93,70.89 303.97,69.13 310.13,70.01 313.22,73.53 313.66,77.06 311.02,79.70 304.85,80.58 296.93,79.26 289.89,77.94" fill="#a3cce3"/>
<polygon points="289.45,74.85 293.41,73.09 300.45,72.21 305.73,70.89 310.13,72.21 312.34,75.30 311.02,77.94 304.85,78.82 296.93,77.50 290.77,77.06" fill="#3585bf"/>
<polygon points="291.21,74.85 295.17,73.53 300.01,73.53 300.45,76.62 295.17,77.06 291.65,76.62" fill="#0b4f98"/>
<polygon points="302.04,72.21 307.49,71.60 310.57,74.41 309.69,77.50 302.65,77.76" fill="#0b4f98"/>
</g>
<line x1="301.42" y1="57.30" x2="301.42" y2="99.70" stroke="#9c9c9c" stroke-width="1"/>
<line x1="280.42" y1="78.20" x2="322.42" y2="78.20" stroke="#9c9c9c" stroke-width="1"/>
<g fill="none" stroke="#f5a623" stroke-width="1.2" stroke-linejoin="round">
<polygon points="287.62,75.80 290.92,71.90 296.92,71.60 299.32,69.60 300.82,71.60 302.62,71.90 305.62,69.60 311.32,75.50 309.52,78.50 309.22,80.30 307.42,82.10 297.52,82.10 293.62,78.20 288.22,77.00"/>
</g>
</g>
<rect x="280.42" y="57.30" width="42.0" height="42.4" fill="none" stroke="#6e6e6e" stroke-width="1"/>
<g clip-path="url(#cA17)">
<g filter="url(#bl)">
<polygon points="325.64,77.94 328.28,72.65 333.56,69.13 340.60,65.61 347.64,62.97 353.80,63.85 358.21,68.25 360.85,75.30 361.73,79.70 357.33,84.10 349.40,86.74 345.00,89.38 337.08,90.26 329.16,86.74 325.64,82.34" fill="#edf4fb" filter="url(#rg)"/>
<polygon points="331.36,75.74 334.44,72.65 340.60,70.89 347.64,69.13 353.80,70.01 356.89,73.53 357.33,77.06 354.69,79.70 348.52,80.58 340.60,79.26 333.56,77.94" fill="#a3cce3"/>
<polygon points="333.12,74.85 337.08,73.09 344.12,72.21 349.40,70.89 353.80,72.21 356.01,75.30 354.69,77.94 348.52,78.82 340.60,77.50 334.44,77.06" fill="#3585bf"/>
<polygon points="334.88,74.85 338.84,73.53 343.68,73.53 344.12,76.62 338.84,77.06 335.32,76.62" fill="#08306b"/>
<polygon points="345.71,72.21 351.16,71.60 354.24,74.41 353.36,77.50 346.32,77.76" fill="#08306b"/>
</g>
<line x1="345.09" y1="57.30" x2="345.09" y2="99.70" stroke="#9c9c9c" stroke-width="1"/>
<line x1="324.09" y1="78.20" x2="366.09" y2="78.20" stroke="#9c9c9c" stroke-width="1"/>
<g fill="none" stroke="#f5a623" stroke-width="1.2" stroke-linejoin="round">
<polygon points="331.29,75.80 334.59,71.90 340.59,71.60 342.99,69.60 344.49,71.60 346.29,71.90 349.29,69.60 354.99,75.50 353.19,78.50 352.89,80.30 351.09,82.10 341.19,82.10 337.29,78.20 331.89,77.00"/>
</g>
</g>
<rect x="324.09" y="57.30" width="42.0" height="42.4" fill="none" stroke="#6e6e6e" stroke-width="1"/>
<g clip-path="url(#cA18)">
<g filter="url(#bl)">
<polygon points="369.31,77.94 371.95,72.65 377.23,69.13 384.27,65.61 391.31,62.97 397.47,63.85 401.88,68.25 404.52,75.30 405.40,79.70 401.00,84.10 393.07,86.74 388.67,89.38 380.75,90.26 372.83,86.74 369.31,82.34" fill="#edf4fb" filter="url(#rg)"/>
<polygon points="375.03,75.74 378.11,72.65 384.27,70.89 391.31,69.13 397.47,70.01 400.56,73.53 401.00,77.06 398.36,79.70 392.19,80.58 384.27,79.26 377.23,77.94" fill="#a3cce3"/>
<polygon points="376.79,74.85 380.75,73.09 387.79,72.21 393.07,70.89 397.47,72.21 399.68,75.30 398.36,77.94 392.19,78.82 384.27,77.50 378.11,77.06" fill="#3585bf"/>
<polygon points="378.55,74.85 382.51,73.53 387.35,73.53 387.79,76.62 382.51,77.06 378.99,76.62" fill="#08306b"/>
<polygon points="389.38,72.21 394.83,71.60 397.91,74.41 397.03,77.50 389.99,77.76" fill="#08306b"/>
</g>
<line x1="388.76" y1="57.30" x2="388.76" y2="99.70" stroke="#9c9c9c" stroke-width="1"/>
<line x1="367.76" y1="78.20" x2="409.76" y2="78.20" stroke="#9c9c9c" stroke-width="1"/>
<g fill="none" stroke="#f5a623" stroke-width="1.2" stroke-linejoin="round">
<polygon points="374.96,75.80 378.26,71.90 384.26,71.60 386.66,69.60 388.16,71.60 389.96,71.90 392.96,69.60 398.66,75.50 396.86,78.50 396.56,80.30 394.76,82.10 384.86,82.10 380.96,78.20 375.56,77.00"/>
</g>
</g>
<rect x="367.76" y="57.30" width="42.0" height="42.4" fill="none" stroke="#6e6e6e" stroke-width="1"/>
<g clip-path="url(#cA19)">
<g filter="url(#bl)">
<polygon points="412.98,77.94 415.62,72.65 420.90,69.13 427.94,65.61 434.98,62.97 441.14,63.85 445.55,68.25 448.19,75.30 449.07,79.70 444.67,84.10 436.74,86.74 432.34,89.38 424.42,90.26 416.50,86.74 412.98,82.34" fill="#edf4fb" filter="url(#rg)"/>
<polygon points="418.70,75.74 421.78,72.65 427.94,70.89 434.98,69.13 441.14,70.01 444.23,73.53 444.67,77.06 442.03,79.70 435.86,80.58 427.94,79.26 420.90,77.94" fill="#a3cce3"/>
<polygon points="420.46,74.85 424.42,73.09 431.46,72.21 436.74,70.89 441.14,72.21 443.35,75.30 442.03,77.94 435.86,78.82 427.94,77.50 421.78,77.06" fill="#3585bf"/>
<polygon points="422.22,74.85 426.18,73.53 431.02,73.53 431.46,76.62 426.18,77.06 422.66,76.62" fill="#08306b"/>
<polygon points="433.05,72.21 438.50,71.60 441.58,74.41 440.70,77.50 433.66,77.76" fill="#08306b"/>
</g>
<line x1="432.43" y1="57.30" x2="432.43" y2="99.70" stroke="#9c9c9c" stroke-width="1"/>
<line x1="411.43" y1="78.20" x2="453.43" y2="78.20" stroke="#9c9c9c" stroke-width="1"/>
<g fill="none" stroke="#f5a623" stroke-width="1.2" stroke-linejoin="round">
<polygon points="418.63,75.80 421.93,71.90 427.93,71.60 430.33,69.60 431.83,71.60 433.63,71.90 436.63,69.60 442.33,75.50 440.53,78.50 440.23,80.30 438.43,82.10 428.53,82.10 424.63,78.20 419.23,77.00"/>
</g>
</g>
<rect x="411.43" y="57.30" width="42.0" height="42.4" fill="none" stroke="#6e6e6e" stroke-width="1"/>
<text transform="translate(14.6,78.20) rotate(-90)" text-anchor="middle" font-size="7.2" fill="#222" stroke="#222" stroke-width="0.15">t<tspan font-size="4.6" dy="2.1">cyc</tspan><tspan dy="-2.1">=</tspan>48h</text>
<g clip-path="url(#cA20)">
<g filter="url(#bl)">
<polygon points="24.88,114.52 31.04,111.88 38.96,113.64 45.12,116.28 47.76,120.68 50.40,127.73 55.69,133.01 52.16,136.53 43.36,136.53 34.56,134.77 28.40,130.37 24.00,123.32" fill="#f5f9fd" filter="url(#rg)"/>
<polygon points="32.80,118.92 38.08,118.92 43.36,122.44 45.12,127.73 42.48,130.37 37.20,126.85 31.92,121.56" fill="#d9e8f5"/>
</g>
<line x1="39.40" y1="102.60" x2="39.40" y2="145.00" stroke="#9c9c9c" stroke-width="1"/>
<line x1="18.40" y1="123.50" x2="60.40" y2="123.50" stroke="#9c9c9c" stroke-width="1"/>
<g fill="none" stroke="#f5a623" stroke-width="1.2" stroke-linejoin="round">
<polygon points="27.10,117.10 28.30,115.40 37.30,115.40 38.80,116.80 41.20,117.40 43.00,118.90 45.40,121.60 45.40,129.70 43.90,131.80 40.00,132.10 38.50,130.90 36.70,129.40 34.60,128.80 33.40,127.30 32.50,124.90 30.10,122.50 29.20,120.70 28.60,118.60"/>
</g>
</g>
<rect x="18.40" y="102.60" width="42.0" height="42.4" fill="none" stroke="#6e6e6e" stroke-width="1"/>
<g clip-path="url(#cA21)">
<g filter="url(#bl)">
<polygon points="68.55,114.52 74.71,111.88 82.63,113.64 88.79,116.28 91.43,120.68 94.07,127.73 99.36,133.01 95.83,136.53 87.03,136.53 78.23,134.77 72.07,130.37 67.67,123.32" fill="#f5f9fd" filter="url(#rg)"/>
<polygon points="76.47,118.92 81.75,118.92 87.03,122.44 88.79,127.73 86.15,130.37 80.87,126.85 75.59,121.56" fill="#d9e8f5"/>
</g>
<line x1="83.07" y1="102.60" x2="83.07" y2="145.00" stroke="#9c9c9c" stroke-width="1"/>
<line x1="62.07" y1="123.50" x2="104.07" y2="123.50" stroke="#9c9c9c" stroke-width="1"/>
<g fill="none" stroke="#f5a623" stroke-width="1.2" stroke-linejoin="round">
<polygon points="70.77,117.10 71.97,115.40 80.97,115.40 82.47,116.80 84.87,117.40 86.67,118.90 89.07,121.60 89.07,129.70 87.57,131.80 83.67,132.10 82.17,130.90 80.37,129.40 78.27,128.80 77.07,127.30 76.17,124.90 73.77,122.50 72.87,120.70 72.27,118.60"/>
</g>
</g>
<rect x="62.07" y="102.60" width="42.0" height="42.4" fill="none" stroke="#6e6e6e" stroke-width="1"/>
<g clip-path="url(#cA22)">
<g filter="url(#bl)">
<polygon points="112.22,114.52 118.38,111.88 126.30,113.64 132.46,116.28 135.10,120.68 137.74,127.73 143.03,133.01 139.50,136.53 130.70,136.53 121.90,134.77 115.74,130.37 111.34,123.32" fill="#f5f9fd" filter="url(#rg)"/>
<polygon points="120.14,118.92 125.42,118.92 130.70,122.44 132.46,127.73 129.82,130.37 124.54,126.85 119.26,121.56" fill="#d9e8f5"/>
</g>
<line x1="126.74" y1="102.60" x2="126.74" y2="145.00" stroke="#9c9c9c" stroke-width="1"/>
<line x1="105.74" y1="123.50" x2="147.74" y2="123.50" stroke="#9c9c9c" stroke-width="1"/>
<g fill="none" stroke="#f5a623" stroke-width="1.2" stroke-linejoin="round">
<polygon points="114.44,117.10 115.64,115.40 124.64,115.40 126.14,116.80 128.54,117.40 130.34,118.90 132.74,121.60 132.74,129.70 131.24,131.80 127.34,132.10 125.84,130.90 124.04,129.40 121.94,128.80 120.74,127.30 119.84,124.90 117.44,122.50 116.54,120.70 115.94,118.60"/>
</g>
</g>
<rect x="105.74" y="102.60" width="42.0" height="42.4" fill="none" stroke="#6e6e6e" stroke-width="1"/>
<g clip-path="url(#cA23)">
<g filter="url(#bl)">
<polygon points="155.89,114.52 162.05,111.88 169.97,113.64 176.13,116.28 178.77,120.68 181.41,127.73 186.70,133.01 183.17,136.53 174.37,136.53 165.57,134.77 159.41,130.37 155.01,123.32" fill="#f5f9fd" filter="url(#rg)"/>
<polygon points="163.81,118.92 169.09,118.92 174.37,122.44 176.13,127.73 173.49,130.37 168.21,126.85 162.93,121.56" fill="#d9e8f5"/>
</g>
<line x1="170.41" y1="102.60" x2="170.41" y2="145.00" stroke="#9c9c9c" stroke-width="1"/>
<line x1="149.41" y1="123.50" x2="191.41" y2="123.50" stroke="#9c9c9c" stroke-width="1"/>
<g fill="none" stroke="#f5a623" stroke-width="1.2" stroke-linejoin="round">
<polygon points="158.11,117.10 159.31,115.40 168.31,115.40 169.81,116.80 172.21,117.40 174.01,118.90 176.41,121.60 176.41,129.70 174.91,131.80 171.01,132.10 169.51,130.90 167.71,129.40 165.61,128.80 164.41,127.30 163.51,124.90 161.11,122.50 160.21,120.70 159.61,118.60"/>
</g>
</g>
<rect x="149.41" y="102.60" width="42.0" height="42.4" fill="none" stroke="#6e6e6e" stroke-width="1"/>
<g clip-path="url(#cA24)">
<g filter="url(#bl)">
<polygon points="199.56,114.52 205.72,111.88 213.64,113.64 219.80,116.28 222.44,120.68 225.08,127.73 230.37,133.01 226.84,136.53 218.04,136.53 209.24,134.77 203.08,130.37 198.68,123.32" fill="#f5f9fd" filter="url(#rg)"/>
<polygon points="207.48,118.92 212.76,118.92 218.04,122.44 219.80,127.73 217.16,130.37 211.88,126.85 206.60,121.56" fill="#d9e8f5"/>
</g>
<line x1="214.08" y1="102.60" x2="214.08" y2="145.00" stroke="#9c9c9c" stroke-width="1"/>
<line x1="193.08" y1="123.50" x2="235.08" y2="123.50" stroke="#9c9c9c" stroke-width="1"/>
<g fill="none" stroke="#f5a623" stroke-width="1.2" stroke-linejoin="round">
<polygon points="201.78,117.10 202.98,115.40 211.98,115.40 213.48,116.80 215.88,117.40 217.68,118.90 220.08,121.60 220.08,129.70 218.58,131.80 214.68,132.10 213.18,130.90 211.38,129.40 209.28,128.80 208.08,127.30 207.18,124.90 204.78,122.50 203.88,120.70 203.28,118.60"/>
</g>
</g>
<rect x="193.08" y="102.60" width="42.0" height="42.4" fill="none" stroke="#6e6e6e" stroke-width="1"/>
<g clip-path="url(#cA25)">
<g filter="url(#bl)">
<polygon points="243.23,114.52 249.39,111.88 257.31,113.64 263.47,116.28 266.11,120.68 268.75,127.73 274.04,133.01 270.51,136.53 261.71,136.53 252.91,134.77 246.75,130.37 242.35,123.32" fill="#edf4fb" filter="url(#rg)"/>
<polygon points="244.99,116.28 254.67,115.40 261.71,118.04 264.35,122.44 265.23,130.37 260.83,133.89 254.67,131.25 250.27,126.85 245.87,121.56" fill="#d9e8f5"/>
<polygon points="247.63,117.16 257.31,118.04 263.47,121.56 264.35,130.37 259.07,132.13 252.91,127.73 248.51,122.44" fill="#c4daee"/>
<polygon points="251.15,118.92 256.43,118.92 261.71,122.44 263.47,127.73 260.83,130.37 255.55,126.85 250.27,121.56" fill="#a3cce3"/>
</g>
<line x1="257.75" y1="102.60" x2="257.75" y2="145.00" stroke="#9c9c9c" stroke-width="1"/>
<line x1="236.75" y1="123.50" x2="278.75" y2="123.50" stroke="#9c9c9c" stroke-width="1"/>
<g fill="none" stroke="#f5a623" stroke-width="1.2" stroke-linejoin="round">
<polygon points="245.45,117.10 246.65,115.40 255.65,115.40 257.15,116.80 259.55,117.40 261.35,118.90 263.75,121.60 263.75,129.70 262.25,131.80 258.35,132.10 256.85,130.90 255.05,129.40 252.95,128.80 251.75,127.30 250.85,124.90 248.45,122.50 247.55,120.70 246.95,118.60"/>
</g>
</g>
<rect x="236.75" y="102.60" width="42.0" height="42.4" fill="none" stroke="#6e6e6e" stroke-width="1"/>
<g clip-path="url(#cA26)">
<g filter="url(#bl)">
<polygon points="286.90,114.52 293.06,111.88 300.98,113.64 307.14,116.28 309.78,120.68 312.42,127.73 317.71,133.01 314.18,136.53 305.38,136.53 296.58,134.77 290.42,130.37 286.02,123.32" fill="#edf4fb" filter="url(#rg)"/>
<polygon points="288.66,116.28 298.34,115.40 305.38,118.04 308.02,122.44 308.90,130.37 304.50,133.89 298.34,131.25 293.94,126.85 289.54,121.56" fill="#c4daee"/>
<polygon points="291.30,117.16 300.98,118.04 307.14,121.56 308.02,130.37 302.74,132.13 296.58,127.73 292.18,122.44" fill="#7db8da"/>
<polygon points="294.82,118.92 300.10,118.92 305.38,122.44 307.14,127.73 304.50,130.37 299.22,126.85 293.94,121.56" fill="#3585bf"/>
</g>
<line x1="301.42" y1="102.60" x2="301.42" y2="145.00" stroke="#9c9c9c" stroke-width="1"/>
<line x1="280.42" y1="123.50" x2="322.42" y2="123.50" stroke="#9c9c9c" stroke-width="1"/>
<g fill="none" stroke="#f5a623" stroke-width="1.2" stroke-linejoin="round">
<polygon points="289.12,117.10 290.32,115.40 299.32,115.40 300.82,116.80 303.22,117.40 305.02,118.90 307.42,121.60 307.42,129.70 305.92,131.80 302.02,132.10 300.52,130.90 298.72,129.40 296.62,128.80 295.42,127.30 294.52,124.90 292.12,122.50 291.22,120.70 290.62,118.60"/>
</g>
</g>
<rect x="280.42" y="102.60" width="42.0" height="42.4" fill="none" stroke="#6e6e6e" stroke-width="1"/>
<g clip-path="url(#cA27)">
<g filter="url(#bl)">
<polygon points="330.57,114.52 336.73,111.88 344.65,113.64 350.81,116.28 353.45,120.68 356.09,127.73 361.38,133.01 357.85,136.53 349.05,136.53 340.25,134.77 334.09,130.37 329.69,123.32" fill="#edf4fb" filter="url(#rg)"/>
<polygon points="332.33,116.28 342.01,115.40 349.05,118.04 351.69,122.44 352.57,130.37 348.17,133.89 342.01,131.25 337.61,126.85 333.21,121.56" fill="#a3cce3"/>
<polygon points="334.97,117.16 344.65,118.04 350.81,121.56 351.69,130.37 346.41,132.13 340.25,127.73 335.85,122.44" fill="#3585bf"/>
<polygon points="338.49,118.92 343.77,118.92 349.05,122.44 350.81,127.73 348.17,130.37 342.89,126.85 337.61,121.56" fill="#08306b"/>
</g>
<line x1="345.09" y1="102.60" x2="345.09" y2="145.00" stroke="#9c9c9c" stroke-width="1"/>
<line x1="324.09" y1="123.50" x2="366.09" y2="123.50" stroke="#9c9c9c" stroke-width="1"/>
<g fill="none" stroke="#f5a623" stroke-width="1.2" stroke-linejoin="round">
<polygon points="332.79,117.10 333.99,115.40 342.99,115.40 344.49,116.80 346.89,117.40 348.69,118.90 351.09,121.60 351.09,129.70 349.59,131.80 345.69,132.10 344.19,130.90 342.39,129.40 340.29,128.80 339.09,127.30 338.19,124.90 335.79,122.50 334.89,120.70 334.29,118.60"/>
</g>
</g>
<rect x="324.09" y="102.60" width="42.0" height="42.4" fill="none" stroke="#6e6e6e" stroke-width="1"/>
<g clip-path="url(#cA28)">
<g filter="url(#bl)">
<polygon points="374.24,114.52 380.40,111.88 388.32,113.64 394.48,116.28 397.12,120.68 399.76,127.73 405.05,133.01 401.52,136.53 392.72,136.53 383.92,134.77 377.76,130.37 373.36,123.32" fill="#edf4fb" filter="url(#rg)"/>
<polygon points="376.00,116.28 385.68,115.40 392.72,118.04 395.36,122.44 396.24,130.37 391.84,133.89 385.68,131.25 381.28,126.85 376.88,121.56" fill="#a3cce3"/>
<polygon points="378.64,117.16 388.32,118.04 394.48,121.56 395.36,130.37 390.08,132.13 383.92,127.73 379.52,122.44" fill="#3585bf"/>
<polygon points="382.16,118.92 387.44,118.92 392.72,122.44 394.48,127.73 391.84,130.37 386.56,126.85 381.28,121.56" fill="#08306b"/>
</g>
<line x1="388.76" y1="102.60" x2="388.76" y2="145.00" stroke="#9c9c9c" stroke-width="1"/>
<line x1="367.76" y1="123.50" x2="409.76" y2="123.50" stroke="#9c9c9c" stroke-width="1"/>
<g fill="none" stroke="#f5a623" stroke-width="1.2" stroke-linejoin="round">
<polygon points="376.46,117.10 377.66,115.40 386.66,115.40 388.16,116.80 390.56,117.40 392.36,118.90 394.76,121.60 394.76,129.70 393.26,131.80 389.36,132.10 387.86,130.90 386.06,129.40 383.96,128.80 382.76,127.30 381.86,124.90 379.46,122.50 378.56,120.70 377.96,118.60"/>
</g>
</g>
<rect x="367.76" y="102.60" width="42.0" height="42.4" fill="none" stroke="#6e6e6e" stroke-width="1"/>
<g clip-path="url(#cA29)">
<g filter="url(#bl)">
<polygon points="417.91,114.52 424.07,111.88 431.99,113.64 438.15,116.28 440.79,120.68 443.43,127.73 448.72,133.01 445.19,136.53 436.39,136.53 427.59,134.77 421.43,130.37 417.03,123.32" fill="#edf4fb" filter="url(#rg)"/>
<polygon points="419.67,116.28 429.35,115.40 436.39,118.04 439.03,122.44 439.91,130.37 435.51,133.89 429.35,131.25 424.95,126.85 420.55,121.56" fill="#a3cce3"/>
<polygon points="422.31,117.16 431.99,118.04 438.15,121.56 439.03,130.37 433.75,132.13 427.59,127.73 423.19,122.44" fill="#3585bf"/>
<polygon points="425.83,118.92 431.11,118.92 436.39,122.44 438.15,127.73 435.51,130.37 430.23,126.85 424.95,121.56" fill="#08306b"/>
</g>
<line x1="432.43" y1="102.60" x2="432.43" y2="145.00" stroke="#9c9c9c" stroke-width="1"/>
<line x1="411.43" y1="123.50" x2="453.43" y2="123.50" stroke="#9c9c9c" stroke-width="1"/>
<g fill="none" stroke="#f5a623" stroke-width="1.2" stroke-linejoin="round">
<polygon points="420.13,117.10 421.33,115.40 430.33,115.40 431.83,116.80 434.23,117.40 436.03,118.90 438.43,121.60 438.43,129.70 436.93,131.80 433.03,132.10 431.53,130.90 429.73,129.40 427.63,128.80 426.43,127.30 425.53,124.90 423.13,122.50 422.23,120.70 421.63,118.60"/>
</g>
</g>
<rect x="411.43" y="102.60" width="42.0" height="42.4" fill="none" stroke="#6e6e6e" stroke-width="1"/>
<text transform="translate(14.6,123.50) rotate(-90)" text-anchor="middle" font-size="7.2" fill="#222" stroke="#222" stroke-width="0.15">t<tspan font-size="4.6" dy="2.1">cyc</tspan><tspan dy="-2.1">=</tspan>36h</text>
<g clip-path="url(#cA30)">
<g filter="url(#bl)">
<polygon points="17.83,164.70 24.00,160.30 30.16,158.54 39.84,160.30 48.64,164.70 60.09,165.58 60.09,178.78 52.16,180.54 47.76,184.06 34.56,184.06 22.23,180.54 17.83,180.54" fill="#f5f9fd" filter="url(#rg)"/>
<polygon points="27.52,169.54 32.80,166.02 39.84,165.14 46.88,167.52 48.64,170.86 43.36,173.06 27.52,172.80" fill="#d9e8f5"/>
</g>
<line x1="39.40" y1="148.20" x2="39.40" y2="190.60" stroke="#9c9c9c" stroke-width="1"/>
<line x1="18.40" y1="169.10" x2="60.40" y2="169.10" stroke="#9c9c9c" stroke-width="1"/>
<g fill="none" stroke="#f5a623" stroke-width="1.2" stroke-linejoin="round">
<polygon points="25.10,171.20 26.30,169.30 28.90,167.00 29.30,164.70 33.10,160.50 37.30,160.50 39.60,162.40 41.80,162.80 44.10,164.70 46.30,165.10 49.80,169.30 49.40,171.90 45.60,175.30 41.10,175.30 39.20,173.40 27.40,173.40 25.50,172.30"/>
<polygon points="16.40,169.60 21.70,170.40 22.50,171.90 20.60,173.40 22.50,175.30 21.00,177.20 16.40,176.10"/>
</g>
</g>
<rect x="18.40" y="148.20" width="42.0" height="42.4" fill="none" stroke="#6e6e6e" stroke-width="1"/>
<g clip-path="url(#cA31)">
<g filter="url(#bl)">
<polygon points="61.50,164.70 67.67,160.30 73.83,158.54 83.51,160.30 92.31,164.70 103.76,165.58 103.76,178.78 95.83,180.54 91.43,184.06 78.23,184.06 65.90,180.54 61.50,180.54" fill="#f5f9fd" filter="url(#rg)"/>
<polygon points="71.19,169.54 76.47,166.02 83.51,165.14 90.55,167.52 92.31,170.86 87.03,173.06 71.19,172.80" fill="#d9e8f5"/>
</g>
<line x1="83.07" y1="148.20" x2="83.07" y2="190.60" stroke="#9c9c9c" stroke-width="1"/>
<line x1="62.07" y1="169.10" x2="104.07" y2="169.10" stroke="#9c9c9c" stroke-width="1"/>
<g fill="none" stroke="#f5a623" stroke-width="1.2" stroke-linejoin="round">
<polygon points="68.77,171.20 69.97,169.30 72.57,167.00 72.97,164.70 76.77,160.50 80.97,160.50 83.27,162.40 85.47,162.80 87.77,164.70 89.97,165.10 93.47,169.30 93.07,171.90 89.27,175.30 84.77,175.30 82.87,173.40 71.07,173.40 69.17,172.30"/>
<polygon points="60.07,169.60 65.37,170.40 66.17,171.90 64.27,173.40 66.17,175.30 64.67,177.20 60.07,176.10"/>
</g>
</g>
<rect x="62.07" y="148.20" width="42.0" height="42.4" fill="none" stroke="#6e6e6e" stroke-width="1"/>
<g clip-path="url(#cA32)">
<g filter="url(#bl)">
<polygon points="105.17,164.70 111.34,160.30 117.50,158.54 127.18,160.30 135.98,164.70 147.43,165.58 147.43,178.78 139.50,180.54 135.10,184.06 121.90,184.06 109.57,180.54 105.17,180.54" fill="#f5f9fd" filter="url(#rg)"/>
<polygon points="114.86,169.54 120.14,166.02 127.18,165.14 134.22,167.52 135.98,170.86 130.70,173.06 114.86,172.80" fill="#d9e8f5"/>
</g>
<line x1="126.74" y1="148.20" x2="126.74" y2="190.60" stroke="#9c9c9c" stroke-width="1"/>
<line x1="105.74" y1="169.10" x2="147.74" y2="169.10" stroke="#9c9c9c" stroke-width="1"/>
<g fill="none" stroke="#f5a623" stroke-width="1.2" stroke-linejoin="round">
<polygon points="112.44,171.20 113.64,169.30 116.24,167.00 116.64,164.70 120.44,160.50 124.64,160.50 126.94,162.40 129.14,162.80 131.44,164.70 133.64,165.10 137.14,169.30 136.74,171.90 132.94,175.30 128.44,175.30 126.54,173.40 114.74,173.40 112.84,172.30"/>
<polygon points="103.74,169.60 109.04,170.40 109.84,171.90 107.94,173.40 109.84,175.30 108.34,177.20 103.74,176.10"/>
</g>
</g>
<rect x="105.74" y="148.20" width="42.0" height="42.4" fill="none" stroke="#6e6e6e" stroke-width="1"/>
<g clip-path="url(#cA33)">
<g filter="url(#bl)">
<polygon points="148.84,164.70 155.01,160.30 161.17,158.54 170.85,160.30 179.65,164.70 191.10,165.58 191.10,178.78 183.17,180.54 178.77,184.06 165.57,184.06 153.24,180.54 148.84,180.54" fill="#f5f9fd" filter="url(#rg)"/>
<polygon points="158.53,169.54 163.81,166.02 170.85,165.14 177.89,167.52 179.65,170.86 174.37,173.06 158.53,172.80" fill="#d9e8f5"/>
</g>
<line x1="170.41" y1="148.20" x2="170.41" y2="190.60" stroke="#9c9c9c" stroke-width="1"/>
<line x1="149.41" y1="169.10" x2="191.41" y2="169.10" stroke="#9c9c9c" stroke-width="1"/>
<g fill="none" stroke="#f5a623" stroke-width="1.2" stroke-linejoin="round">
<polygon points="156.11,171.20 157.31,169.30 159.91,167.00 160.31,164.70 164.11,160.50 168.31,160.50 170.61,162.40 172.81,162.80 175.11,164.70 177.31,165.10 180.81,169.30 180.41,171.90 176.61,175.30 172.11,175.30 170.21,173.40 158.41,173.40 156.51,172.30"/>
<polygon points="147.41,169.60 152.71,170.40 153.51,171.90 151.61,173.40 153.51,175.30 152.01,177.20 147.41,176.10"/>
</g>
</g>
<rect x="149.41" y="148.20" width="42.0" height="42.4" fill="none" stroke="#6e6e6e" stroke-width="1"/>
<g clip-path="url(#cA34)">
<g filter="url(#bl)">
<polygon points="192.51,164.70 198.68,160.30 204.84,158.54 214.52,160.30 223.32,164.70 234.77,165.58 234.77,178.78 226.84,180.54 222.44,184.06 209.24,184.06 196.91,180.54 192.51,180.54" fill="#edf4fb" filter="url(#rg)"/>
<polygon points="196.91,170.86 204.84,166.90 211.00,164.26 215.40,164.26 221.56,166.90 224.64,170.42 220.68,173.94 214.52,173.94 198.68,173.50" fill="#d9e8f5"/>
<polygon points="202.20,169.54 207.48,166.02 214.52,165.14 221.56,167.52 223.32,170.86 218.04,173.06 202.20,172.80" fill="#c4daee"/>
</g>
<line x1="214.08" y1="148.20" x2="214.08" y2="190.60" stroke="#9c9c9c" stroke-width="1"/>
<line x1="193.08" y1="169.10" x2="235.08" y2="169.10" stroke="#9c9c9c" stroke-width="1"/>
<g fill="none" stroke="#f5a623" stroke-width="1.2" stroke-linejoin="round">
<polygon points="199.78,171.20 200.98,169.30 203.58,167.00 203.98,164.70 207.78,160.50 211.98,160.50 214.28,162.40 216.48,162.80 218.78,164.70 220.98,165.10 224.48,169.30 224.08,171.90 220.28,175.30 215.78,175.30 213.88,173.40 202.08,173.40 200.18,172.30"/>
<polygon points="191.08,169.60 196.38,170.40 197.18,171.90 195.28,173.40 197.18,175.30 195.68,177.20 191.08,176.10"/>
</g>
</g>
<rect x="193.08" y="148.20" width="42.0" height="42.4" fill="none" stroke="#6e6e6e" stroke-width="1"/>
<g clip-path="url(#cA35)">
<g filter="url(#bl)">
<polygon points="236.18,164.70 242.35,160.30 248.51,158.54 258.19,160.30 266.99,164.70 278.44,165.58 278.44,178.78 270.51,180.54 266.11,184.06 252.91,184.06 240.58,180.54 236.18,180.54" fill="#edf4fb" filter="url(#rg)"/>
<polygon points="236.18,169.10 242.35,166.46 247.63,162.94 252.91,161.18 258.19,162.50 265.23,165.58 268.75,169.98 266.99,174.38 261.71,176.14 252.91,177.02 242.35,177.02 236.18,176.14" fill="#d9e8f5"/>
<polygon points="240.58,170.86 248.51,166.90 254.67,164.26 259.07,164.26 265.23,166.90 268.31,170.42 264.35,173.94 258.19,173.94 242.35,173.50" fill="#c4daee"/>
<polygon points="245.87,169.54 251.15,166.02 258.19,165.14 265.23,167.52 266.99,170.86 261.71,173.06 245.87,172.80" fill="#a3cce3"/>
</g>
<line x1="257.75" y1="148.20" x2="257.75" y2="190.60" stroke="#9c9c9c" stroke-width="1"/>
<line x1="236.75" y1="169.10" x2="278.75" y2="169.10" stroke="#9c9c9c" stroke-width="1"/>
<g fill="none" stroke="#f5a623" stroke-width="1.2" stroke-linejoin="round">
<polygon points="243.45,171.20 244.65,169.30 247.25,167.00 247.65,164.70 251.45,160.50 255.65,160.50 257.95,162.40 260.15,162.80 262.45,164.70 264.65,165.10 268.15,169.30 267.75,171.90 263.95,175.30 259.45,175.30 257.55,173.40 245.75,173.40 243.85,172.30"/>
<polygon points="234.75,169.60 240.05,170.40 240.85,171.90 238.95,173.40 240.85,175.30 239.35,177.20 234.75,176.10"/>
</g>
</g>
<rect x="236.75" y="148.20" width="42.0" height="42.4" fill="none" stroke="#6e6e6e" stroke-width="1"/>
<g clip-path="url(#cA36)">
<g filter="url(#bl)">
<polygon points="279.85,164.70 286.02,160.30 292.18,158.54 301.86,160.30 310.66,164.70 322.11,165.58 322.11,178.78 314.18,180.54 309.78,184.06 296.58,184.06 284.25,180.54 279.85,180.54" fill="#edf4fb" filter="url(#rg)"/>
<polygon points="279.85,169.10 286.02,166.46 291.30,162.94 296.58,161.18 301.86,162.50 308.90,165.58 312.42,169.98 310.66,174.38 305.38,176.14 296.58,177.02 286.02,177.02 279.85,176.14" fill="#c4daee"/>
<polygon points="284.25,170.86 292.18,166.90 298.34,164.26 302.74,164.26 308.90,166.90 311.98,170.42 308.02,173.94 301.86,173.94 286.02,173.50" fill="#7db8da"/>
<polygon points="289.54,169.54 294.82,166.02 301.86,165.14 308.90,167.52 310.66,170.86 305.38,173.06 289.54,172.80" fill="#3585bf"/>
</g>
<line x1="301.42" y1="148.20" x2="301.42" y2="190.60" stroke="#9c9c9c" stroke-width="1"/>
<line x1="280.42" y1="169.10" x2="322.42" y2="169.10" stroke="#9c9c9c" stroke-width="1"/>
<g fill="none" stroke="#f5a623" stroke-width="1.2" stroke-linejoin="round">
<polygon points="287.12,171.20 288.32,169.30 290.92,167.00 291.32,164.70 295.12,160.50 299.32,160.50 301.62,162.40 303.82,162.80 306.12,164.70 308.32,165.10 311.82,169.30 311.42,171.90 307.62,175.30 303.12,175.30 301.22,173.40 289.42,173.40 287.52,172.30"/>
<polygon points="278.42,169.60 283.72,170.40 284.52,171.90 282.62,173.40 284.52,175.30 283.02,177.20 278.42,176.10"/>
</g>
</g>
<rect x="280.42" y="148.20" width="42.0" height="42.4" fill="none" stroke="#6e6e6e" stroke-width="1"/>
<g clip-path="url(#cA37)">
<g filter="url(#bl)">
<polygon points="323.52,164.70 329.69,160.30 335.85,158.54 345.53,160.30 354.33,164.70 365.78,165.58 365.78,178.78 357.85,180.54 353.45,184.06 340.25,184.06 327.92,180.54 323.52,180.54" fill="#edf4fb" filter="url(#rg)"/>
<polygon points="323.52,169.10 329.69,166.46 334.97,162.94 340.25,161.18 345.53,162.50 352.57,165.58 356.09,169.98 354.33,174.38 349.05,176.14 340.25,177.02 329.69,177.02 323.52,176.14" fill="#a3cce3"/>
<polygon points="327.92,170.86 335.85,166.90 342.01,164.26 346.41,164.26 352.57,166.90 355.65,170.42 351.69,173.94 345.53,173.94 329.69,173.50" fill="#3585bf"/>
<polygon points="333.21,169.54 338.49,166.02 345.53,165.14 352.57,167.52 354.33,170.86 349.05,173.06 333.21,172.80" fill="#0b4f98"/>
</g>
<line x1="345.09" y1="148.20" x2="345.09" y2="190.60" stroke="#9c9c9c" stroke-width="1"/>
<line x1="324.09" y1="169.10" x2="366.09" y2="169.10" stroke="#9c9c9c" stroke-width="1"/>
<g fill="none" stroke="#f5a623" stroke-width="1.2" stroke-linejoin="round">
<polygon points="330.79,171.20 331.99,169.30 334.59,167.00 334.99,164.70 338.79,160.50 342.99,160.50 345.29,162.40 347.49,162.80 349.79,164.70 351.99,165.10 355.49,169.30 355.09,171.90 351.29,175.30 346.79,175.30 344.89,173.40 333.09,173.40 331.19,172.30"/>
<polygon points="322.09,169.60 327.39,170.40 328.19,171.90 326.29,173.40 328.19,175.30 326.69,177.20 322.09,176.10"/>
</g>
</g>
<rect x="324.09" y="148.20" width="42.0" height="42.4" fill="none" stroke="#6e6e6e" stroke-width="1"/>
<g clip-path="url(#cA38)">
<g filter="url(#bl)">
<polygon points="367.19,164.70 373.36,160.30 379.52,158.54 389.20,160.30 398.00,164.70 409.45,165.58 409.45,178.78 401.52,180.54 397.12,184.06 383.92,184.06 371.59,180.54 367.19,180.54" fill="#edf4fb" filter="url(#rg)"/>
<polygon points="367.19,169.10 373.36,166.46 378.64,162.94 383.92,161.18 389.20,162.50 396.24,165.58 399.76,169.98 398.00,174.38 392.72,176.14 383.92,177.02 373.36,177.02 367.19,176.14" fill="#a3cce3"/>
<polygon points="371.59,170.86 379.52,166.90 385.68,164.26 390.08,164.26 396.24,166.90 399.32,170.42 395.36,173.94 389.20,173.94 373.36,173.50" fill="#3585bf"/>
<polygon points="376.88,169.54 382.16,166.02 389.20,165.14 396.24,167.52 398.00,170.86 392.72,173.06 376.88,172.80" fill="#08306b"/>
</g>
<line x1="388.76" y1="148.20" x2="388.76" y2="190.60" stroke="#9c9c9c" stroke-width="1"/>
<line x1="367.76" y1="169.10" x2="409.76" y2="169.10" stroke="#9c9c9c" stroke-width="1"/>
<g fill="none" stroke="#f5a623" stroke-width="1.2" stroke-linejoin="round">
<polygon points="374.46,171.20 375.66,169.30 378.26,167.00 378.66,164.70 382.46,160.50 386.66,160.50 388.96,162.40 391.16,162.80 393.46,164.70 395.66,165.10 399.16,169.30 398.76,171.90 394.96,175.30 390.46,175.30 388.56,173.40 376.76,173.40 374.86,172.30"/>
<polygon points="365.76,169.60 371.06,170.40 371.86,171.90 369.96,173.40 371.86,175.30 370.36,177.20 365.76,176.10"/>
</g>
</g>
<rect x="367.76" y="148.20" width="42.0" height="42.4" fill="none" stroke="#6e6e6e" stroke-width="1"/>
<g clip-path="url(#cA39)">
<g filter="url(#bl)">
<polygon points="410.86,164.70 417.03,160.30 423.19,158.54 432.87,160.30 441.67,164.70 453.12,165.58 453.12,178.78 445.19,180.54 440.79,184.06 427.59,184.06 415.26,180.54 410.86,180.54" fill="#edf4fb" filter="url(#rg)"/>
<polygon points="410.86,169.10 417.03,166.46 422.31,162.94 427.59,161.18 432.87,162.50 439.91,165.58 443.43,169.98 441.67,174.38 436.39,176.14 427.59,177.02 417.03,177.02 410.86,176.14" fill="#a3cce3"/>
<polygon points="415.26,170.86 423.19,166.90 429.35,164.26 433.75,164.26 439.91,166.90 442.99,170.42 439.03,173.94 432.87,173.94 417.03,173.50" fill="#3585bf"/>
<polygon points="420.55,169.54 425.83,166.02 432.87,165.14 439.91,167.52 441.67,170.86 436.39,173.06 420.55,172.80" fill="#08306b"/>
</g>
<line x1="432.43" y1="148.20" x2="432.43" y2="190.60" stroke="#9c9c9c" stroke-width="1"/>
<line x1="411.43" y1="169.10" x2="453.43" y2="169.10" stroke="#9c9c9c" stroke-width="1"/>
<g fill="none" stroke="#f5a623" stroke-width="1.2" stroke-linejoin="round">
<polygon points="418.13,171.20 419.33,169.30 421.93,167.00 422.33,164.70 426.13,160.50 430.33,160.50 432.63,162.40 434.83,162.80 437.13,164.70 439.33,165.10 442.83,169.30 442.43,171.90 438.63,175.30 434.13,175.30 432.23,173.40 420.43,173.40 418.53,172.30"/>
<polygon points="409.43,169.60 414.73,170.40 415.53,171.90 413.63,173.40 415.53,175.30 414.03,177.20 409.43,176.10"/>
</g>
</g>
<rect x="411.43" y="148.20" width="42.0" height="42.4" fill="none" stroke="#6e6e6e" stroke-width="1"/>
<text transform="translate(14.6,169.10) rotate(-90)" text-anchor="middle" font-size="7.2" fill="#222" stroke="#222" stroke-width="0.15">t<tspan font-size="4.6" dy="2.1">cyc</tspan><tspan dy="-2.1">=</tspan>24h</text>
<text x="39.40" y="199.9" text-anchor="middle" font-size="7.2" fill="#222" stroke="#222" stroke-width="0.15">t<tspan font-size="4.6" dy="2.1">tc</tspan><tspan dy="-2.1">=</tspan>114h</text>
<text x="83.07" y="199.9" text-anchor="middle" font-size="7.2" fill="#222" stroke="#222" stroke-width="0.15">t<tspan font-size="4.6" dy="2.1">tc</tspan><tspan dy="-2.1">=</tspan>102h</text>
<text x="126.74" y="199.9" text-anchor="middle" font-size="7.2" fill="#222" stroke="#222" stroke-width="0.15">t<tspan font-size="4.6" dy="2.1">tc</tspan><tspan dy="-2.1">=</tspan>90h</text>
<text x="170.41" y="199.9" text-anchor="middle" font-size="7.2" fill="#222" stroke="#222" stroke-width="0.15">t<tspan font-size="4.6" dy="2.1">tc</tspan><tspan dy="-2.1">=</tspan>78h</text>
<text x="214.08" y="199.9" text-anchor="middle" font-size="7.2" fill="#222" stroke="#222" stroke-width="0.15">t<tspan font-size="4.6" dy="2.1">tc</tspan><tspan dy="-2.1">=</tspan>66h</text>
<text x="257.75" y="199.9" text-anchor="middle" font-size="7.2" fill="#222" stroke="#222" stroke-width="0.15">t<tspan font-size="4.6" dy="2.1">tc</tspan><tspan dy="-2.1">=</tspan>54h</text>
<text x="301.42" y="199.9" text-anchor="middle" font-size="7.2" fill="#222" stroke="#222" stroke-width="0.15">t<tspan font-size="4.6" dy="2.1">tc</tspan><tspan dy="-2.1">=</tspan>42h</text>
<text x="345.09" y="199.9" text-anchor="middle" font-size="7.2" fill="#222" stroke="#222" stroke-width="0.15">t<tspan font-size="4.6" dy="2.1">tc</tspan><tspan dy="-2.1">=</tspan>30h</text>
<text x="388.76" y="199.9" text-anchor="middle" font-size="7.2" fill="#222" stroke="#222" stroke-width="0.15">t<tspan font-size="4.6" dy="2.1">tc</tspan><tspan dy="-2.1">=</tspan>18h</text>
<text x="432.43" y="199.9" text-anchor="middle" font-size="7.2" fill="#222" stroke="#222" stroke-width="0.15">t<tspan font-size="4.6" dy="2.1">tc</tspan><tspan dy="-2.1">=</tspan>6h</text>
<g clip-path="url(#cB00)">
<g filter="url(#bl)">
<polygon points="19.51,209.79 39.75,209.79 40.63,215.08 45.91,217.72 52.96,223.00 59.12,228.28 60.88,234.44 60.88,249.41 19.51,250.29" fill="#fff6ee" filter="url(#rg)"/>
<polygon points="32.71,223.00 37.11,222.56 38.87,226.52 37.11,229.60 33.59,229.16 31.83,226.52" fill="#fee2c6"/>
<polygon points="30.95,241.48 37.99,238.84 40.63,241.48 37.11,245.00 31.83,244.12" fill="#fee2c6"/>
</g>
<line x1="39.40" y1="208.70" x2="39.40" y2="251.10" stroke="#9c9c9c" stroke-width="1"/>
<line x1="18.40" y1="229.60" x2="60.40" y2="229.60" stroke="#9c9c9c" stroke-width="1"/>
<g fill="none" stroke="#1c1c1c" stroke-width="1.15" stroke-linejoin="round">
<polygon points="35.20,219.30 37.90,221.60 40.20,223.50 42.40,224.70 44.30,225.40 47.40,225.40 50.00,228.10 52.70,230.70 53.80,233.00 56.50,234.50 59.20,237.20 59.50,239.90 59.20,243.30 58.00,244.40 56.50,242.90 55.70,240.20 53.50,238.70 51.90,236.40 50.00,234.20 48.10,234.90 46.20,233.40 45.10,231.50 44.00,230.00 40.50,229.60 38.60,230.70 36.70,231.50 34.50,231.10 32.20,229.20 31.00,226.20 32.60,223.50 33.30,220.50"/>
<polygon points="29.10,242.50 31.00,240.20 34.50,239.10 36.00,238.30 39.00,238.00 41.30,236.40 43.20,238.00 43.20,240.20 40.20,243.30 37.50,245.90 32.90,246.30 29.90,244.00"/>
</g>
</g>
<rect x="18.40" y="208.70" width="42.0" height="42.4" fill="none" stroke="#6e6e6e" stroke-width="1"/>
<g clip-path="url(#cB01)">
<g filter="url(#bl)">
<polygon points="63.18,209.79 83.42,209.79 84.30,215.08 89.58,217.72 96.63,223.00 102.79,228.28 104.55,234.44 104.55,249.41 63.18,250.29" fill="#fff6ee" filter="url(#rg)"/>
<polygon points="76.38,223.00 80.78,222.56 82.54,226.52 80.78,229.60 77.26,229.16 75.50,226.52" fill="#fee2c6"/>
<polygon points="74.62,241.48 81.66,238.84 84.30,241.48 80.78,245.00 75.50,244.12" fill="#fee2c6"/>
</g>
<line x1="83.07" y1="208.70" x2="83.07" y2="251.10" stroke="#9c9c9c" stroke-width="1"/>
<line x1="62.07" y1="229.60" x2="104.07" y2="229.60" stroke="#9c9c9c" stroke-width="1"/>
<g fill="none" stroke="#1c1c1c" stroke-width="1.15" stroke-linejoin="round">
<polygon points="78.87,219.30 81.57,221.60 83.87,223.50 86.07,224.70 87.97,225.40 91.07,225.40 93.67,228.10 96.37,230.70 97.47,233.00 100.17,234.50 102.87,237.20 103.17,239.90 102.87,243.30 101.67,244.40 100.17,242.90 99.37,240.20 97.17,238.70 95.57,236.40 93.67,234.20 91.77,234.90 89.87,233.40 88.77,231.50 87.67,230.00 84.17,229.60 82.27,230.70 80.37,231.50 78.17,231.10 75.87,229.20 74.67,226.20 76.27,223.50 76.97,220.50"/>
<polygon points="72.77,242.50 74.67,240.20 78.17,239.10 79.67,238.30 82.67,238.00 84.97,236.40 86.87,238.00 86.87,240.20 83.87,243.30 81.17,245.90 76.57,246.30 73.57,244.00"/>
</g>
</g>
<rect x="62.07" y="208.70" width="42.0" height="42.4" fill="none" stroke="#6e6e6e" stroke-width="1"/>
<g clip-path="url(#cB02)">
<g filter="url(#bl)">
<polygon points="106.85,209.79 127.09,209.79 127.97,215.08 133.25,217.72 140.30,223.00 146.46,228.28 148.22,234.44 148.22,249.41 106.85,250.29" fill="#fff6ee" filter="url(#rg)"/>
<polygon points="120.05,223.00 124.45,222.56 126.21,226.52 124.45,229.60 120.93,229.16 119.17,226.52" fill="#fee2c6"/>
<polygon points="118.29,241.48 125.33,238.84 127.97,241.48 124.45,245.00 119.17,244.12" fill="#fee2c6"/>
</g>
<line x1="126.74" y1="208.70" x2="126.74" y2="251.10" stroke="#9c9c9c" stroke-width="1"/>
<line x1="105.74" y1="229.60" x2="147.74" y2="229.60" stroke="#9c9c9c" stroke-width="1"/>
<g fill="none" stroke="#1c1c1c" stroke-width="1.15" stroke-linejoin="round">
<polygon points="122.54,219.30 125.24,221.60 127.54,223.50 129.74,224.70 131.64,225.40 134.74,225.40 137.34,228.10 140.04,230.70 141.14,233.00 143.84,234.50 146.54,237.20 146.84,239.90 146.54,243.30 145.34,244.40 143.84,242.90 143.04,240.20 140.84,238.70 139.24,236.40 137.34,234.20 135.44,234.90 133.54,233.40 132.44,231.50 131.34,230.00 127.84,229.60 125.94,230.70 124.04,231.50 121.84,231.10 119.54,229.20 118.34,226.20 119.94,223.50 120.64,220.50"/>
<polygon points="116.44,242.50 118.34,240.20 121.84,239.10 123.34,238.30 126.34,238.00 128.64,236.40 130.54,238.00 130.54,240.20 127.54,243.30 124.84,245.90 120.24,246.30 117.24,244.00"/>
</g>
</g>
<rect x="105.74" y="208.70" width="42.0" height="42.4" fill="none" stroke="#6e6e6e" stroke-width="1"/>
<g clip-path="url(#cB03)">
<g filter="url(#bl)">
<polygon points="150.52,209.79 170.76,209.79 171.64,215.08 176.92,217.72 183.97,223.00 190.13,228.28 191.89,234.44 191.89,249.41 150.52,250.29" fill="#fff0e2" filter="url(#rg)"/>
<polygon points="158.44,215.96 164.60,214.20 169.88,218.60 174.28,223.00 180.45,226.52 183.97,230.92 187.49,234.44 185.73,237.96 180.45,236.20 175.16,232.68 169.88,230.92 163.72,230.92 159.32,225.64" fill="#fee2c6"/>
<polygon points="152.28,232.68 157.56,231.80 166.36,237.08 174.28,236.20 175.16,240.60 170.76,245.89 161.96,246.77 155.80,243.24 152.28,237.96" fill="#fee2c6"/>
<polygon points="160.20,219.48 165.48,218.60 169.88,223.00 175.16,225.64 179.56,228.28 177.80,230.92 171.64,230.04 166.36,230.92 161.96,227.40" fill="#fdcfa0"/>
<polygon points="158.44,241.48 163.72,237.96 170.76,237.08 174.28,238.84 172.52,243.24 167.24,245.89 161.08,245.00" fill="#fdcfa0"/>
<polygon points="176.04,231.80 182.21,233.56 182.21,236.20 176.92,235.32" fill="#fdcfa0"/>
<polygon points="163.72,223.00 168.12,222.56 169.88,226.52 168.12,229.60 164.60,229.16 162.84,226.52" fill="#fdb27a"/>
<polygon points="161.96,241.48 169.00,238.84 171.64,241.48 168.12,245.00 162.84,244.12" fill="#fdb27a"/>
</g>
<line x1="170.41" y1="208.70" x2="170.41" y2="251.10" stroke="#9c9c9c" stroke-width="1"/>
<line x1="149.41" y1="229.60" x2="191.41" y2="229.60" stroke="#9c9c9c" stroke-width="1"/>
<g fill="none" stroke="#1c1c1c" stroke-width="1.15" stroke-linejoin="round">
<polygon points="166.21,219.30 168.91,221.60 171.21,223.50 173.41,224.70 175.31,225.40 178.41,225.40 181.01,228.10 183.71,230.70 184.81,233.00 187.51,234.50 190.21,237.20 190.51,239.90 190.21,243.30 189.01,244.40 187.51,242.90 186.71,240.20 184.51,238.70 182.91,236.40 181.01,234.20 179.11,234.90 177.21,233.40 176.11,231.50 175.01,230.00 171.51,229.60 169.61,230.70 167.71,231.50 165.51,231.10 163.21,229.20 162.01,226.20 163.61,223.50 164.31,220.50"/>
<polygon points="160.11,242.50 162.01,240.20 165.51,239.10 167.01,238.30 170.01,238.00 172.31,236.40 174.21,238.00 174.21,240.20 171.21,243.30 168.51,245.90 163.91,246.30 160.91,244.00"/>
</g>
</g>
<rect x="149.41" y="208.70" width="42.0" height="42.4" fill="none" stroke="#6e6e6e" stroke-width="1"/>
<g clip-path="url(#cB04)">
<g filter="url(#bl)">
<polygon points="194.19,209.79 214.43,209.79 215.31,215.08 220.59,217.72 227.64,223.00 233.80,228.28 235.56,234.44 235.56,249.41 194.19,250.29" fill="#fff0e2" filter="url(#rg)"/>
<polygon points="202.11,215.96 208.27,214.20 213.55,218.60 217.95,223.00 224.12,226.52 227.64,230.92 231.16,234.44 229.40,237.96 224.12,236.20 218.83,232.68 213.55,230.92 207.39,230.92 202.99,225.64" fill="#fdcfa0"/>
<polygon points="195.95,232.68 201.23,231.80 210.03,237.08 217.95,236.20 218.83,240.60 214.43,245.89 205.63,246.77 199.47,243.24 195.95,237.96" fill="#fdcfa0"/>
<polygon points="203.87,219.48 209.15,218.60 213.55,223.00 218.83,225.64 223.23,228.28 221.47,230.92 215.31,230.04 210.03,230.92 205.63,227.40" fill="#fdb27a"/>
<polygon points="202.11,241.48 207.39,237.96 214.43,237.08 217.95,238.84 216.19,243.24 210.91,245.89 204.75,245.00" fill="#fdb27a"/>
<polygon points="219.71,231.80 225.88,233.56 225.88,236.20 220.59,235.32" fill="#fdb27a"/>
<polygon points="207.39,223.00 211.79,222.56 213.55,226.52 211.79,229.60 208.27,229.16 206.51,226.52" fill="#f67826"/>
<polygon points="205.63,241.48 212.67,238.84 215.31,241.48 211.79,245.00 206.51,244.12" fill="#f67826"/>
</g>
<line x1="214.08" y1="208.70" x2="214.08" y2="251.10" stroke="#9c9c9c" stroke-width="1"/>
<line x1="193.08" y1="229.60" x2="235.08" y2="229.60" stroke="#9c9c9c" stroke-width="1"/>
<g fill="none" stroke="#1c1c1c" stroke-width="1.15" stroke-linejoin="round">
<polygon points="209.88,219.30 212.58,221.60 214.88,223.50 217.08,224.70 218.98,225.40 222.08,225.40 224.68,228.10 227.38,230.70 228.48,233.00 231.18,234.50 233.88,237.20 234.18,239.90 233.88,243.30 232.68,244.40 231.18,242.90 230.38,240.20 228.18,238.70 226.58,236.40 224.68,234.20 222.78,234.90 220.88,233.40 219.78,231.50 218.68,230.00 215.18,229.60 213.28,230.70 211.38,231.50 209.18,231.10 206.88,229.20 205.68,226.20 207.28,223.50 207.98,220.50"/>
<polygon points="203.78,242.50 205.68,240.20 209.18,239.10 210.68,238.30 213.68,238.00 215.98,236.40 217.88,238.00 217.88,240.20 214.88,243.30 212.18,245.90 207.58,246.30 204.58,244.00"/>
</g>
</g>
<rect x="193.08" y="208.70" width="42.0" height="42.4" fill="none" stroke="#6e6e6e" stroke-width="1"/>
<g clip-path="url(#cB05)">
<g filter="url(#bl)">
<polygon points="237.86,209.79 258.10,209.79 258.98,215.08 264.26,217.72 271.31,223.00 277.47,228.28 279.23,234.44 279.23,249.41 237.86,250.29" fill="#fff0e2" filter="url(#rg)"/>
<polygon points="245.78,215.96 251.94,214.20 257.22,218.60 261.62,223.00 267.79,226.52 271.31,230.92 274.83,234.44 273.07,237.96 267.79,236.20 262.50,232.68 257.22,230.92 251.06,230.92 246.66,225.64" fill="#fdb27a"/>
<polygon points="239.62,232.68 244.90,231.80 253.70,237.08 261.62,236.20 262.50,240.60 258.10,245.89 249.30,246.77 243.14,243.24 239.62,237.96" fill="#fdb27a"/>
<polygon points="247.54,219.48 252.82,218.60 257.22,223.00 262.50,225.64 266.90,228.28 265.14,230.92 258.98,230.04 253.70,230.92 249.30,227.40" fill="#e45a0e"/>
<polygon points="245.78,241.48 251.06,237.96 258.10,237.08 261.62,238.84 259.86,243.24 254.58,245.89 248.42,245.00" fill="#e45a0e"/>
<polygon points="263.38,231.80 269.55,233.56 269.55,236.20 264.26,235.32" fill="#e45a0e"/>
<polygon points="251.06,223.00 255.46,222.56 257.22,226.52 255.46,229.60 251.94,229.16 250.18,226.52" fill="#a33503"/>
<polygon points="249.30,241.48 256.34,238.84 258.98,241.48 255.46,245.00 250.18,244.12" fill="#a33503"/>
</g>
<line x1="257.75" y1="208.70" x2="257.75" y2="251.10" stroke="#9c9c9c" stroke-width="1"/>
<line x1="236.75" y1="229.60" x2="278.75" y2="229.60" stroke="#9c9c9c" stroke-width="1"/>
<g fill="none" stroke="#1c1c1c" stroke-width="1.15" stroke-linejoin="round">
<polygon points="253.55,219.30 256.25,221.60 258.55,223.50 260.75,224.70 262.65,225.40 265.75,225.40 268.35,228.10 271.05,230.70 272.15,233.00 274.85,234.50 277.55,237.20 277.85,239.90 277.55,243.30 276.35,244.40 274.85,242.90 274.05,240.20 271.85,238.70 270.25,236.40 268.35,234.20 266.45,234.90 264.55,233.40 263.45,231.50 262.35,230.00 258.85,229.60 256.95,230.70 255.05,231.50 252.85,231.10 250.55,229.20 249.35,226.20 250.95,223.50 251.65,220.50"/>
<polygon points="247.45,242.50 249.35,240.20 252.85,239.10 254.35,238.30 257.35,238.00 259.65,236.40 261.55,238.00 261.55,240.20 258.55,243.30 255.85,245.90 251.25,246.30 248.25,244.00"/>
</g>
</g>
<rect x="236.75" y="208.70" width="42.0" height="42.4" fill="none" stroke="#6e6e6e" stroke-width="1"/>
<g clip-path="url(#cB06)">
<g filter="url(#bl)">
<polygon points="281.53,209.79 301.77,209.79 302.65,215.08 307.93,217.72 314.98,223.00 321.14,228.28 322.90,234.44 322.90,249.41 281.53,250.29" fill="#fff0e2" filter="url(#rg)"/>
<polygon points="289.45,215.96 295.61,214.20 300.89,218.60 305.29,223.00 311.46,226.52 314.98,230.92 318.50,234.44 316.74,237.96 311.46,236.20 306.17,232.68 300.89,230.92 294.73,230.92 290.33,225.64" fill="#fdb27a"/>
<polygon points="283.29,232.68 288.57,231.80 297.37,237.08 305.29,236.20 306.17,240.60 301.77,245.89 292.97,246.77 286.81,243.24 283.29,237.96" fill="#fdb27a"/>
<polygon points="291.21,219.48 296.49,218.60 300.89,223.00 306.17,225.64 310.57,228.28 308.81,230.92 302.65,230.04 297.37,230.92 292.97,227.40" fill="#e45a0e"/>
<polygon points="289.45,241.48 294.73,237.96 301.77,237.08 305.29,238.84 303.53,243.24 298.25,245.89 292.09,245.00" fill="#e45a0e"/>
<polygon points="307.05,231.80 313.22,233.56 313.22,236.20 307.93,235.32" fill="#e45a0e"/>
<polygon points="294.73,223.00 299.13,222.56 300.89,226.52 299.13,229.60 295.61,229.16 293.85,226.52" fill="#a33503"/>
<polygon points="292.97,241.48 300.01,238.84 302.65,241.48 299.13,245.00 293.85,244.12" fill="#a33503"/>
</g>
<line x1="301.42" y1="208.70" x2="301.42" y2="251.10" stroke="#9c9c9c" stroke-width="1"/>
<line x1="280.42" y1="229.60" x2="322.42" y2="229.60" stroke="#9c9c9c" stroke-width="1"/>
<g fill="none" stroke="#1c1c1c" stroke-width="1.15" stroke-linejoin="round">
<polygon points="297.22,219.30 299.92,221.60 302.22,223.50 304.42,224.70 306.32,225.40 309.42,225.40 312.02,228.10 314.72,230.70 315.82,233.00 318.52,234.50 321.22,237.20 321.52,239.90 321.22,243.30 320.02,244.40 318.52,242.90 317.72,240.20 315.52,238.70 313.92,236.40 312.02,234.20 310.12,234.90 308.22,233.40 307.12,231.50 306.02,230.00 302.52,229.60 300.62,230.70 298.72,231.50 296.52,231.10 294.22,229.20 293.02,226.20 294.62,223.50 295.32,220.50"/>
<polygon points="291.12,242.50 293.02,240.20 296.52,239.10 298.02,238.30 301.02,238.00 303.32,236.40 305.22,238.00 305.22,240.20 302.22,243.30 299.52,245.90 294.92,246.30 291.92,244.00"/>
</g>
</g>
<rect x="280.42" y="208.70" width="42.0" height="42.4" fill="none" stroke="#6e6e6e" stroke-width="1"/>
<g clip-path="url(#cB07)">
<g filter="url(#bl)">
<polygon points="325.20,209.79 345.44,209.79 346.32,215.08 351.60,217.72 358.65,223.00 364.81,228.28 366.57,234.44 366.57,249.41 325.20,250.29" fill="#fff0e2" filter="url(#rg)"/>
<polygon points="333.12,215.96 339.28,214.20 344.56,218.60 348.96,223.00 355.13,226.52 358.65,230.92 362.17,234.44 360.41,237.96 355.13,236.20 349.84,232.68 344.56,230.92 338.40,230.92 334.00,225.64" fill="#fdcfa0"/>
<polygon points="326.96,232.68 332.24,231.80 341.04,237.08 348.96,236.20 349.84,240.60 345.44,245.89 336.64,246.77 330.48,243.24 326.96,237.96" fill="#fdcfa0"/>
<polygon points="334.88,219.48 340.16,218.60 344.56,223.00 349.84,225.64 354.24,228.28 352.48,230.92 346.32,230.04 341.04,230.92 336.64,227.40" fill="#f67826"/>
<polygon points="333.12,241.48 338.40,237.96 345.44,237.08 348.96,238.84 347.20,243.24 341.92,245.89 335.76,245.00" fill="#f67826"/>
<polygon points="350.72,231.80 356.89,233.56 356.89,236.20 351.60,235.32" fill="#f67826"/>
<polygon points="338.40,223.00 342.80,222.56 344.56,226.52 342.80,229.60 339.28,229.16 337.52,226.52" fill="#c94407"/>
<polygon points="336.64,241.48 343.68,238.84 346.32,241.48 342.80,245.00 337.52,244.12" fill="#c94407"/>
</g>
<line x1="345.09" y1="208.70" x2="345.09" y2="251.10" stroke="#9c9c9c" stroke-width="1"/>
<line x1="324.09" y1="229.60" x2="366.09" y2="229.60" stroke="#9c9c9c" stroke-width="1"/>
<g fill="none" stroke="#1c1c1c" stroke-width="1.15" stroke-linejoin="round">
<polygon points="340.89,219.30 343.59,221.60 345.89,223.50 348.09,224.70 349.99,225.40 353.09,225.40 355.69,228.10 358.39,230.70 359.49,233.00 362.19,234.50 364.89,237.20 365.19,239.90 364.89,243.30 363.69,244.40 362.19,242.90 361.39,240.20 359.19,238.70 357.59,236.40 355.69,234.20 353.79,234.90 351.89,233.40 350.79,231.50 349.69,230.00 346.19,229.60 344.29,230.70 342.39,231.50 340.19,231.10 337.89,229.20 336.69,226.20 338.29,223.50 338.99,220.50"/>
<polygon points="334.79,242.50 336.69,240.20 340.19,239.10 341.69,238.30 344.69,238.00 346.99,236.40 348.89,238.00 348.89,240.20 345.89,243.30 343.19,245.90 338.59,246.30 335.59,244.00"/>
</g>
</g>
<rect x="324.09" y="208.70" width="42.0" height="42.4" fill="none" stroke="#6e6e6e" stroke-width="1"/>
<g clip-path="url(#cB08)">
<g filter="url(#bl)">
<polygon points="368.87,209.79 389.11,209.79 389.99,215.08 395.27,217.72 402.32,223.00 408.48,228.28 410.24,234.44 410.24,249.41 368.87,250.29" fill="#fff0e2" filter="url(#rg)"/>
<polygon points="376.79,215.96 382.95,214.20 388.23,218.60 392.63,223.00 398.80,226.52 402.32,230.92 405.84,234.44 404.08,237.96 398.80,236.20 393.51,232.68 388.23,230.92 382.07,230.92 377.67,225.64" fill="#fdcfa0"/>
<polygon points="370.63,232.68 375.91,231.80 384.71,237.08 392.63,236.20 393.51,240.60 389.11,245.89 380.31,246.77 374.15,243.24 370.63,237.96" fill="#fdcfa0"/>
<polygon points="378.55,219.48 383.83,218.60 388.23,223.00 393.51,225.64 397.91,228.28 396.15,230.92 389.99,230.04 384.71,230.92 380.31,227.40" fill="#f67826"/>
<polygon points="376.79,241.48 382.07,237.96 389.11,237.08 392.63,238.84 390.87,243.24 385.59,245.89 379.43,245.00" fill="#f67826"/>
<polygon points="394.39,231.80 400.56,233.56 400.56,236.20 395.27,235.32" fill="#f67826"/>
<polygon points="382.07,223.00 386.47,222.56 388.23,226.52 386.47,229.60 382.95,229.16 381.19,226.52" fill="#c94407"/>
<polygon points="380.31,241.48 387.35,238.84 389.99,241.48 386.47,245.00 381.19,244.12" fill="#c94407"/>
</g>
<line x1="388.76" y1="208.70" x2="388.76" y2="251.10" stroke="#9c9c9c" stroke-width="1"/>
<line x1="367.76" y1="229.60" x2="409.76" y2="229.60" stroke="#9c9c9c" stroke-width="1"/>
<g fill="none" stroke="#1c1c1c" stroke-width="1.15" stroke-linejoin="round">
<polygon points="384.56,219.30 387.26,221.60 389.56,223.50 391.76,224.70 393.66,225.40 396.76,225.40 399.36,228.10 402.06,230.70 403.16,233.00 405.86,234.50 408.56,237.20 408.86,239.90 408.56,243.30 407.36,244.40 405.86,242.90 405.06,240.20 402.86,238.70 401.26,236.40 399.36,234.20 397.46,234.90 395.56,233.40 394.46,231.50 393.36,230.00 389.86,229.60 387.96,230.70 386.06,231.50 383.86,231.10 381.56,229.20 380.36,226.20 381.96,223.50 382.66,220.50"/>
<polygon points="378.46,242.50 380.36,240.20 383.86,239.10 385.36,238.30 388.36,238.00 390.66,236.40 392.56,238.00 392.56,240.20 389.56,243.30 386.86,245.90 382.26,246.30 379.26,244.00"/>
</g>
</g>
<rect x="367.76" y="208.70" width="42.0" height="42.4" fill="none" stroke="#6e6e6e" stroke-width="1"/>
<g clip-path="url(#cB09)">
<g filter="url(#bl)">
<polygon points="412.54,209.79 432.78,209.79 433.66,215.08 438.94,217.72 445.99,223.00 452.15,228.28 453.91,234.44 453.91,249.41 412.54,250.29" fill="#fff0e2" filter="url(#rg)"/>
<polygon points="420.46,215.96 426.62,214.20 431.90,218.60 436.30,223.00 442.47,226.52 445.99,230.92 449.51,234.44 447.75,237.96 442.47,236.20 437.18,232.68 431.90,230.92 425.74,230.92 421.34,225.64" fill="#fdcfa0"/>
<polygon points="414.30,232.68 419.58,231.80 428.38,237.08 436.30,236.20 437.18,240.60 432.78,245.89 423.98,246.77 417.82,243.24 414.30,237.96" fill="#fdcfa0"/>
<polygon points="422.22,219.48 427.50,218.60 431.90,223.00 437.18,225.64 441.58,228.28 439.82,230.92 433.66,230.04 428.38,230.92 423.98,227.40" fill="#f67826"/>
<polygon points="420.46,241.48 425.74,237.96 432.78,237.08 436.30,238.84 434.54,243.24 429.26,245.89 423.10,245.00" fill="#f67826"/>
<polygon points="438.06,231.80 444.23,233.56 444.23,236.20 438.94,235.32" fill="#f67826"/>
<polygon points="425.74,223.00 430.14,222.56 431.90,226.52 430.14,229.60 426.62,229.16 424.86,226.52" fill="#c94407"/>
<polygon points="423.98,241.48 431.02,238.84 433.66,241.48 430.14,245.00 424.86,244.12" fill="#c94407"/>
</g>
<line x1="432.43" y1="208.70" x2="432.43" y2="251.10" stroke="#9c9c9c" stroke-width="1"/>
<line x1="411.43" y1="229.60" x2="453.43" y2="229.60" stroke="#9c9c9c" stroke-width="1"/>
<g fill="none" stroke="#1c1c1c" stroke-width="1.15" stroke-linejoin="round">
<polygon points="428.23,219.30 430.93,221.60 433.23,223.50 435.43,224.70 437.33,225.40 440.43,225.40 443.03,228.10 445.73,230.70 446.83,233.00 449.53,234.50 452.23,237.20 452.53,239.90 452.23,243.30 451.03,244.40 449.53,242.90 448.73,240.20 446.53,238.70 444.93,236.40 443.03,234.20 441.13,234.90 439.23,233.40 438.13,231.50 437.03,230.00 433.53,229.60 431.63,230.70 429.73,231.50 427.53,231.10 425.23,229.20 424.03,226.20 425.63,223.50 426.33,220.50"/>
<polygon points="422.13,242.50 424.03,240.20 427.53,239.10 429.03,238.30 432.03,238.00 434.33,236.40 436.23,238.00 436.23,240.20 433.23,243.30 430.53,245.90 425.93,246.30 422.93,244.00"/>
</g>
</g>
<rect x="411.43" y="208.70" width="42.0" height="42.4" fill="none" stroke="#6e6e6e" stroke-width="1"/>
<text transform="translate(14.6,229.60) rotate(-90)" text-anchor="middle" font-size="7.2" fill="#222" stroke="#222" stroke-width="0.15">t<tspan font-size="4.6" dy="2.1">cyc</tspan><tspan dy="-2.1">=</tspan>60h</text>
<g clip-path="url(#cB10)">
<g filter="url(#bl)">
<polygon points="19.59,269.04 22.23,264.64 30.16,263.76 38.96,263.32 45.12,264.64 52.16,267.28 53.92,273.44 54.80,281.36 55.69,286.64 52.16,291.05 43.36,291.93 30.16,291.93 19.59,291.05" fill="#fff6ee" filter="url(#rg)"/>
<polygon points="23.11,276.96 30.16,272.56 38.96,272.56 44.24,276.08 45.12,282.24 41.60,285.76 27.52,286.64 22.23,283.12" fill="#fee2c6"/>
</g>
<line x1="39.40" y1="254.30" x2="39.40" y2="296.70" stroke="#9c9c9c" stroke-width="1"/>
<line x1="18.40" y1="275.20" x2="60.40" y2="275.20" stroke="#9c9c9c" stroke-width="1"/>
<g fill="none" stroke="#1c1c1c" stroke-width="1.15" stroke-linejoin="round">
<polygon points="16.40,278.20 20.40,277.50 22.70,276.70 22.70,273.70 24.20,271.40 26.50,270.60 29.50,270.30 31.40,268.40 39.40,268.70 41.70,269.90 44.30,271.40 47.80,275.60 49.30,277.50 49.30,280.50 46.60,282.80 44.70,285.10 41.70,285.80 46.20,286.60 47.40,288.10 45.50,289.30 26.90,289.30 25.00,288.10 22.70,288.50 20.80,286.20 16.40,284.70"/>
<polygon points="48.10,284.70 50.40,282.00 53.50,283.20 51.60,285.80 49.30,287.00"/>
<polygon points="37.50,272.90 38.00,272.90 38.00,274.80 37.50,274.80"/>
</g>
</g>
<rect x="18.40" y="254.30" width="42.0" height="42.4" fill="none" stroke="#6e6e6e" stroke-width="1"/>
<g clip-path="url(#cB11)">
<g filter="url(#bl)">
<polygon points="63.26,269.04 65.90,264.64 73.83,263.76 82.63,263.32 88.79,264.64 95.83,267.28 97.59,273.44 98.47,281.36 99.36,286.64 95.83,291.05 87.03,291.93 73.83,291.93 63.26,291.05" fill="#fff6ee" filter="url(#rg)"/>
<polygon points="66.78,276.96 73.83,272.56 82.63,272.56 87.91,276.08 88.79,282.24 85.27,285.76 71.19,286.64 65.90,283.12" fill="#fee2c6"/>
</g>
<line x1="83.07" y1="254.30" x2="83.07" y2="296.70" stroke="#9c9c9c" stroke-width="1"/>
<line x1="62.07" y1="275.20" x2="104.07" y2="275.20" stroke="#9c9c9c" stroke-width="1"/>
<g fill="none" stroke="#1c1c1c" stroke-width="1.15" stroke-linejoin="round">
<polygon points="60.07,278.20 64.07,277.50 66.37,276.70 66.37,273.70 67.87,271.40 70.17,270.60 73.17,270.30 75.07,268.40 83.07,268.70 85.37,269.90 87.97,271.40 91.47,275.60 92.97,277.50 92.97,280.50 90.27,282.80 88.37,285.10 85.37,285.80 89.87,286.60 91.07,288.10 89.17,289.30 70.57,289.30 68.67,288.10 66.37,288.50 64.47,286.20 60.07,284.70"/>
<polygon points="91.77,284.70 94.07,282.00 97.17,283.20 95.27,285.80 92.97,287.00"/>
<polygon points="81.17,272.90 81.67,272.90 81.67,274.80 81.17,274.80"/>
</g>
</g>
<rect x="62.07" y="254.30" width="42.0" height="42.4" fill="none" stroke="#6e6e6e" stroke-width="1"/>
<g clip-path="url(#cB12)">
<g filter="url(#bl)">
<polygon points="106.93,269.04 109.57,264.64 117.50,263.76 126.30,263.32 132.46,264.64 139.50,267.28 141.26,273.44 142.14,281.36 143.03,286.64 139.50,291.05 130.70,291.93 117.50,291.93 106.93,291.05" fill="#fff6ee" filter="url(#rg)"/>
<polygon points="110.45,276.96 117.50,272.56 126.30,272.56 131.58,276.08 132.46,282.24 128.94,285.76 114.86,286.64 109.57,283.12" fill="#fee2c6"/>
</g>
<line x1="126.74" y1="254.30" x2="126.74" y2="296.70" stroke="#9c9c9c" stroke-width="1"/>
<line x1="105.74" y1="275.20" x2="147.74" y2="275.20" stroke="#9c9c9c" stroke-width="1"/>
<g fill="none" stroke="#1c1c1c" stroke-width="1.15" stroke-linejoin="round">
<polygon points="103.74,278.20 107.74,277.50 110.04,276.70 110.04,273.70 111.54,271.40 113.84,270.60 116.84,270.30 118.74,268.40 126.74,268.70 129.04,269.90 131.64,271.40 135.14,275.60 136.64,277.50 136.64,280.50 133.94,282.80 132.04,285.10 129.04,285.80 133.54,286.60 134.74,288.10 132.84,289.30 114.24,289.30 112.34,288.10 110.04,288.50 108.14,286.20 103.74,284.70"/>
<polygon points="135.44,284.70 137.74,282.00 140.84,283.20 138.94,285.80 136.64,287.00"/>
<polygon points="124.84,272.90 125.34,272.90 125.34,274.80 124.84,274.80"/>
</g>
</g>
<rect x="105.74" y="254.30" width="42.0" height="42.4" fill="none" stroke="#6e6e6e" stroke-width="1"/>
<g clip-path="url(#cB13)">
<g filter="url(#bl)">
<polygon points="150.60,269.04 153.24,264.64 161.17,263.76 169.97,263.32 176.13,264.64 183.17,267.28 184.93,273.44 185.81,281.36 186.70,286.64 183.17,291.05 174.37,291.93 161.17,291.93 150.60,291.05" fill="#fff0e2" filter="url(#rg)"/>
<polygon points="149.72,276.08 153.24,271.68 158.53,269.04 169.97,268.16 177.01,271.68 180.53,276.96 180.53,281.36 183.17,282.24 184.05,285.76 178.77,289.28 156.77,290.16 149.72,287.52" fill="#fee2c6"/>
<polygon points="149.72,278.72 153.24,274.32 161.17,269.92 169.09,269.92 176.13,273.44 178.77,278.72 176.13,284.00 176.13,288.40 156.77,289.28 149.72,286.64" fill="#fdb27a"/>
<polygon points="154.12,276.96 161.17,272.56 169.97,272.56 175.25,276.08 176.13,282.24 172.61,285.76 158.53,286.64 153.24,283.12" fill="#fd9650"/>
</g>
<line x1="170.41" y1="254.30" x2="170.41" y2="296.70" stroke="#9c9c9c" stroke-width="1"/>
<line x1="149.41" y1="275.20" x2="191.41" y2="275.20" stroke="#9c9c9c" stroke-width="1"/>
<g fill="none" stroke="#1c1c1c" stroke-width="1.15" stroke-linejoin="round">
<polygon points="147.41,278.20 151.41,277.50 153.71,276.70 153.71,273.70 155.21,271.40 157.51,270.60 160.51,270.30 162.41,268.40 170.41,268.70 172.71,269.90 175.31,271.40 178.81,275.60 180.31,277.50 180.31,280.50 177.61,282.80 175.71,285.10 172.71,285.80 177.21,286.60 178.41,288.10 176.51,289.30 157.91,289.30 156.01,288.10 153.71,288.50 151.81,286.20 147.41,284.70"/>
<polygon points="179.11,284.70 181.41,282.00 184.51,283.20 182.61,285.80 180.31,287.00"/>
<polygon points="168.51,272.90 169.01,272.90 169.01,274.80 168.51,274.80"/>
</g>
</g>
<rect x="149.41" y="254.30" width="42.0" height="42.4" fill="none" stroke="#6e6e6e" stroke-width="1"/>
<g clip-path="url(#cB14)">
<g filter="url(#bl)">
<polygon points="194.27,269.04 196.91,264.64 204.84,263.76 213.64,263.32 219.80,264.64 226.84,267.28 228.60,273.44 229.48,281.36 230.37,286.64 226.84,291.05 218.04,291.93 204.84,291.93 194.27,291.05" fill="#fff0e2" filter="url(#rg)"/>
<polygon points="193.39,276.08 196.91,271.68 202.20,269.04 213.64,268.16 220.68,271.68 224.20,276.96 224.20,281.36 226.84,282.24 227.72,285.76 222.44,289.28 200.44,290.16 193.39,287.52" fill="#fdcfa0"/>
<polygon points="193.39,278.72 196.91,274.32 204.84,269.92 212.76,269.92 219.80,273.44 222.44,278.72 219.80,284.00 219.80,288.40 200.44,289.28 193.39,286.64" fill="#fd9650"/>
<polygon points="197.79,276.96 204.84,272.56 213.64,272.56 218.92,276.08 219.80,282.24 216.28,285.76 202.20,286.64 196.91,283.12" fill="#e45a0e"/>
</g>
<line x1="214.08" y1="254.30" x2="214.08" y2="296.70" stroke="#9c9c9c" stroke-width="1"/>
<line x1="193.08" y1="275.20" x2="235.08" y2="275.20" stroke="#9c9c9c" stroke-width="1"/>
<g fill="none" stroke="#1c1c1c" stroke-width="1.15" stroke-linejoin="round">
<polygon points="191.08,278.20 195.08,277.50 197.38,276.70 197.38,273.70 198.88,271.40 201.18,270.60 204.18,270.30 206.08,268.40 214.08,268.70 216.38,269.90 218.98,271.40 222.48,275.60 223.98,277.50 223.98,280.50 221.28,282.80 219.38,285.10 216.38,285.80 220.88,286.60 222.08,288.10 220.18,289.30 201.58,289.30 199.68,288.10 197.38,288.50 195.48,286.20 191.08,284.70"/>
<polygon points="222.78,284.70 225.08,282.00 228.18,283.20 226.28,285.80 223.98,287.00"/>
<polygon points="212.18,272.90 212.68,272.90 212.68,274.80 212.18,274.80"/>
</g>
</g>
<rect x="193.08" y="254.30" width="42.0" height="42.4" fill="none" stroke="#6e6e6e" stroke-width="1"/>
<g clip-path="url(#cB15)">
<g filter="url(#bl)">
<polygon points="237.94,269.04 240.58,264.64 248.51,263.76 257.31,263.32 263.47,264.64 270.51,267.28 272.27,273.44 273.15,281.36 274.04,286.64 270.51,291.05 261.71,291.93 248.51,291.93 237.94,291.05" fill="#fff0e2" filter="url(#rg)"/>
<polygon points="237.06,276.08 240.58,271.68 245.87,269.04 257.31,268.16 264.35,271.68 267.87,276.96 267.87,281.36 270.51,282.24 271.39,285.76 266.11,289.28 244.11,290.16 237.06,287.52" fill="#fdcfa0"/>
<polygon points="237.06,278.72 240.58,274.32 248.51,269.92 256.43,269.92 263.47,273.44 266.11,278.72 263.47,284.00 263.47,288.40 244.11,289.28 237.06,286.64" fill="#f67826"/>
<polygon points="241.46,276.96 248.51,272.56 257.31,272.56 262.59,276.08 263.47,282.24 259.95,285.76 245.87,286.64 240.58,283.12" fill="#c94407"/>
</g>
<line x1="257.75" y1="254.30" x2="257.75" y2="296.70" stroke="#9c9c9c" stroke-width="1"/>
<line x1="236.75" y1="275.20" x2="278.75" y2="275.20" stroke="#9c9c9c" stroke-width="1"/>
<g fill="none" stroke="#1c1c1c" stroke-width="1.15" stroke-linejoin="round">
<polygon points="234.75,278.20 238.75,277.50 241.05,276.70 241.05,273.70 242.55,271.40 244.85,270.60 247.85,270.30 249.75,268.40 257.75,268.70 260.05,269.90 262.65,271.40 266.15,275.60 267.65,277.50 267.65,280.50 264.95,282.80 263.05,285.10 260.05,285.80 264.55,286.60 265.75,288.10 263.85,289.30 245.25,289.30 243.35,288.10 241.05,288.50 239.15,286.20 234.75,284.70"/>
<polygon points="266.45,284.70 268.75,282.00 271.85,283.20 269.95,285.80 267.65,287.00"/>
<polygon points="255.85,272.90 256.35,272.90 256.35,274.80 255.85,274.80"/>
</g>
</g>
<rect x="236.75" y="254.30" width="42.0" height="42.4" fill="none" stroke="#6e6e6e" stroke-width="1"/>
<g clip-path="url(#cB16)">
<g filter="url(#bl)">
<polygon points="281.61,269.04 284.25,264.64 292.18,263.76 300.98,263.32 307.14,264.64 314.18,267.28 315.94,273.44 316.82,281.36 317.71,286.64 314.18,291.05 305.38,291.93 292.18,291.93 281.61,291.05" fill="#fee2c6" filter="url(#rg)"/>
<polygon points="280.73,276.08 284.25,271.68 289.54,269.04 300.98,268.16 308.02,271.68 311.54,276.96 311.54,281.36 314.18,282.24 315.06,285.76 309.78,289.28 287.78,290.16 280.73,287.52" fill="#fdb27a"/>
<polygon points="280.73,278.72 284.25,274.32 292.18,269.92 300.10,269.92 307.14,273.44 309.78,278.72 307.14,284.00 307.14,288.40 287.78,289.28 280.73,286.64" fill="#e45a0e"/>
<polygon points="285.13,276.96 292.18,272.56 300.98,272.56 306.26,276.08 307.14,282.24 303.62,285.76 289.54,286.64 284.25,283.12" fill="#7f2704"/>
</g>
<line x1="301.42" y1="254.30" x2="301.42" y2="296.70" stroke="#9c9c9c" stroke-width="1"/>
<line x1="280.42" y1="275.20" x2="322.42" y2="275.20" stroke="#9c9c9c" stroke-width="1"/>
<g fill="none" stroke="#1c1c1c" stroke-width="1.15" stroke-linejoin="round">
<polygon points="278.42,278.20 282.42,277.50 284.72,276.70 284.72,273.70 286.22,271.40 288.52,270.60 291.52,270.30 293.42,268.40 301.42,268.70 303.72,269.90 306.32,271.40 309.82,275.60 311.32,277.50 311.32,280.50 308.62,282.80 306.72,285.10 303.72,285.80 308.22,286.60 309.42,288.10 307.52,289.30 288.92,289.30 287.02,288.10 284.72,288.50 282.82,286.20 278.42,284.70"/>
<polygon points="310.12,284.70 312.42,282.00 315.52,283.20 313.62,285.80 311.32,287.00"/>
<polygon points="299.52,272.90 300.02,272.90 300.02,274.80 299.52,274.80"/>
</g>
</g>
<rect x="280.42" y="254.30" width="42.0" height="42.4" fill="none" stroke="#6e6e6e" stroke-width="1"/>
<g clip-path="url(#cB17)">
<g filter="url(#bl)">
<polygon points="325.28,269.04 327.92,264.64 335.85,263.76 344.65,263.32 350.81,264.64 357.85,267.28 359.61,273.44 360.49,281.36 361.38,286.64 357.85,291.05 349.05,291.93 335.85,291.93 325.28,291.05" fill="#fee2c6" filter="url(#rg)"/>
<polygon points="324.40,276.08 327.92,271.68 333.21,269.04 344.65,268.16 351.69,271.68 355.21,276.96 355.21,281.36 357.85,282.24 358.73,285.76 353.45,289.28 331.45,290.16 324.40,287.52" fill="#fdb27a"/>
<polygon points="324.40,278.72 327.92,274.32 335.85,269.92 343.77,269.92 350.81,273.44 353.45,278.72 350.81,284.00 350.81,288.40 331.45,289.28 324.40,286.64" fill="#e45a0e"/>
<polygon points="328.80,276.96 335.85,272.56 344.65,272.56 349.93,276.08 350.81,282.24 347.29,285.76 333.21,286.64 327.92,283.12" fill="#7f2704"/>
</g>
<line x1="345.09" y1="254.30" x2="345.09" y2="296.70" stroke="#9c9c9c" stroke-width="1"/>
<line x1="324.09" y1="275.20" x2="366.09" y2="275.20" stroke="#9c9c9c" stroke-width="1"/>
<g fill="none" stroke="#1c1c1c" stroke-width="1.15" stroke-linejoin="round">
<polygon points="322.09,278.20 326.09,277.50 328.39,276.70 328.39,273.70 329.89,271.40 332.19,270.60 335.19,270.30 337.09,268.40 345.09,268.70 347.39,269.90 349.99,271.40 353.49,275.60 354.99,277.50 354.99,280.50 352.29,282.80 350.39,285.10 347.39,285.80 351.89,286.60 353.09,288.10 351.19,289.30 332.59,289.30 330.69,288.10 328.39,288.50 326.49,286.20 322.09,284.70"/>
<polygon points="353.79,284.70 356.09,282.00 359.19,283.20 357.29,285.80 354.99,287.00"/>
<polygon points="343.19,272.90 343.69,272.90 343.69,274.80 343.19,274.80"/>
</g>
</g>
<rect x="324.09" y="254.30" width="42.0" height="42.4" fill="none" stroke="#6e6e6e" stroke-width="1"/>
<g clip-path="url(#cB18)">
<g filter="url(#bl)">
<polygon points="368.95,269.04 371.59,264.64 379.52,263.76 388.32,263.32 394.48,264.64 401.52,267.28 403.28,273.44 404.16,281.36 405.05,286.64 401.52,291.05 392.72,291.93 379.52,291.93 368.95,291.05" fill="#fee2c6" filter="url(#rg)"/>
<polygon points="368.07,276.08 371.59,271.68 376.88,269.04 388.32,268.16 395.36,271.68 398.88,276.96 398.88,281.36 401.52,282.24 402.40,285.76 397.12,289.28 375.12,290.16 368.07,287.52" fill="#fdb27a"/>
<polygon points="368.07,278.72 371.59,274.32 379.52,269.92 387.44,269.92 394.48,273.44 397.12,278.72 394.48,284.00 394.48,288.40 375.12,289.28 368.07,286.64" fill="#e45a0e"/>
<polygon points="372.47,276.96 379.52,272.56 388.32,272.56 393.60,276.08 394.48,282.24 390.96,285.76 376.88,286.64 371.59,283.12" fill="#7f2704"/>
</g>
<line x1="388.76" y1="254.30" x2="388.76" y2="296.70" stroke="#9c9c9c" stroke-width="1"/>
<line x1="367.76" y1="275.20" x2="409.76" y2="275.20" stroke="#9c9c9c" stroke-width="1"/>
<g fill="none" stroke="#1c1c1c" stroke-width="1.15" stroke-linejoin="round">
<polygon points="365.76,278.20 369.76,277.50 372.06,276.70 372.06,273.70 373.56,271.40 375.86,270.60 378.86,270.30 380.76,268.40 388.76,268.70 391.06,269.90 393.66,271.40 397.16,275.60 398.66,277.50 398.66,280.50 395.96,282.80 394.06,285.10 391.06,285.80 395.56,286.60 396.76,288.10 394.86,289.30 376.26,289.30 374.36,288.10 372.06,288.50 370.16,286.20 365.76,284.70"/>
<polygon points="397.46,284.70 399.76,282.00 402.86,283.20 400.96,285.80 398.66,287.00"/>
<polygon points="386.86,272.90 387.36,272.90 387.36,274.80 386.86,274.80"/>
</g>
</g>
<rect x="367.76" y="254.30" width="42.0" height="42.4" fill="none" stroke="#6e6e6e" stroke-width="1"/>
<g clip-path="url(#cB19)">
<g filter="url(#bl)">
<polygon points="412.62,269.04 415.26,264.64 423.19,263.76 431.99,263.32 438.15,264.64 445.19,267.28 446.95,273.44 447.83,281.36 448.72,286.64 445.19,291.05 436.39,291.93 423.19,291.93 412.62,291.05" fill="#fee2c6" filter="url(#rg)"/>
<polygon points="411.74,276.08 415.26,271.68 420.55,269.04 431.99,268.16 439.03,271.68 442.55,276.96 442.55,281.36 445.19,282.24 446.07,285.76 440.79,289.28 418.79,290.16 411.74,287.52" fill="#fdb27a"/>
<polygon points="411.74,278.72 415.26,274.32 423.19,269.92 431.11,269.92 438.15,273.44 440.79,278.72 438.15,284.00 438.15,288.40 418.79,289.28 411.74,286.64" fill="#e45a0e"/>
<polygon points="416.14,276.96 423.19,272.56 431.99,272.56 437.27,276.08 438.15,282.24 434.63,285.76 420.55,286.64 415.26,283.12" fill="#7f2704"/>
</g>
<line x1="432.43" y1="254.30" x2="432.43" y2="296.70" stroke="#9c9c9c" stroke-width="1"/>
<line x1="411.43" y1="275.20" x2="453.43" y2="275.20" stroke="#9c9c9c" stroke-width="1"/>
<g fill="none" stroke="#1c1c1c" stroke-width="1.15" stroke-linejoin="round">
<polygon points="409.43,278.20 413.43,277.50 415.73,276.70 415.73,273.70 417.23,271.40 419.53,270.60 422.53,270.30 424.43,268.40 432.43,268.70 434.73,269.90 437.33,271.40 440.83,275.60 442.33,277.50 442.33,280.50 439.63,282.80 437.73,285.10 434.73,285.80 439.23,286.60 440.43,288.10 438.53,289.30 419.93,289.30 418.03,288.10 415.73,288.50 413.83,286.20 409.43,284.70"/>
<polygon points="441.13,284.70 443.43,282.00 446.53,283.20 444.63,285.80 442.33,287.00"/>
<polygon points="430.53,272.90 431.03,272.90 431.03,274.80 430.53,274.80"/>
</g>
</g>
<rect x="411.43" y="254.30" width="42.0" height="42.4" fill="none" stroke="#6e6e6e" stroke-width="1"/>
<text transform="translate(14.6,275.20) rotate(-90)" text-anchor="middle" font-size="7.2" fill="#222" stroke="#222" stroke-width="0.15">t<tspan font-size="4.6" dy="2.1">cyc</tspan><tspan dy="-2.1">=</tspan>48h</text>
<g clip-path="url(#cB20)">
<g filter="url(#bl)">
<polygon points="15.19,308.72 24.00,308.72 30.16,314.00 37.20,309.60 52.16,309.60 53.92,315.76 58.33,321.04 58.33,335.12 43.36,336.89 30.16,339.53 15.19,339.53" fill="#fffbf8" filter="url(#rg)"/>
</g>
<line x1="39.40" y1="299.70" x2="39.40" y2="342.10" stroke="#9c9c9c" stroke-width="1"/>
<line x1="18.40" y1="320.60" x2="60.40" y2="320.60" stroke="#9c9c9c" stroke-width="1"/>
<g fill="none" stroke="#1c1c1c" stroke-width="1.15" stroke-linejoin="round">
<polygon points="16.40,321.00 22.90,321.00 24.10,322.50 26.00,323.10 27.80,322.10 28.60,321.00 33.20,321.00 34.70,322.50 37.30,323.30 38.90,324.80 39.20,327.10 40.80,326.70 43.40,324.80 45.30,324.80 47.60,327.10 49.50,329.30 48.00,330.50 43.80,330.90 41.50,332.40 39.20,333.50 37.70,334.70 26.70,335.00 24.80,337.30 16.40,337.30"/>
<polyline points="16.40,324.60 22.90,324.90"/>
</g>
</g>
<rect x="18.40" y="299.70" width="42.0" height="42.4" fill="none" stroke="#6e6e6e" stroke-width="1"/>
<g clip-path="url(#cB21)">
<g filter="url(#bl)">
<polygon points="58.86,308.72 67.67,308.72 73.83,314.00 80.87,309.60 95.83,309.60 97.59,315.76 102.00,321.04 102.00,335.12 87.03,336.89 73.83,339.53 58.86,339.53" fill="#fffbf8" filter="url(#rg)"/>
</g>
<line x1="83.07" y1="299.70" x2="83.07" y2="342.10" stroke="#9c9c9c" stroke-width="1"/>
<line x1="62.07" y1="320.60" x2="104.07" y2="320.60" stroke="#9c9c9c" stroke-width="1"/>
<g fill="none" stroke="#1c1c1c" stroke-width="1.15" stroke-linejoin="round">
<polygon points="60.07,321.00 66.57,321.00 67.77,322.50 69.67,323.10 71.47,322.10 72.27,321.00 76.87,321.00 78.37,322.50 80.97,323.30 82.57,324.80 82.87,327.10 84.47,326.70 87.07,324.80 88.97,324.80 91.27,327.10 93.17,329.30 91.67,330.50 87.47,330.90 85.17,332.40 82.87,333.50 81.37,334.70 70.37,335.00 68.47,337.30 60.07,337.30"/>
<polyline points="60.07,324.60 66.57,324.90"/>
</g>
</g>
<rect x="62.07" y="299.70" width="42.0" height="42.4" fill="none" stroke="#6e6e6e" stroke-width="1"/>
<g clip-path="url(#cB22)">
<g filter="url(#bl)">
<polygon points="102.53,308.72 111.34,308.72 117.50,314.00 124.54,309.60 139.50,309.60 141.26,315.76 145.67,321.04 145.67,335.12 130.70,336.89 117.50,339.53 102.53,339.53" fill="#fff6ee" filter="url(#rg)"/>
<polygon points="102.53,323.68 113.10,323.68 121.90,323.68 124.54,327.20 124.54,333.36 113.10,334.24 102.53,334.24" fill="#fee2c6"/>
</g>
<line x1="126.74" y1="299.70" x2="126.74" y2="342.10" stroke="#9c9c9c" stroke-width="1"/>
<line x1="105.74" y1="320.60" x2="147.74" y2="320.60" stroke="#9c9c9c" stroke-width="1"/>
<g fill="none" stroke="#1c1c1c" stroke-width="1.15" stroke-linejoin="round">
<polygon points="103.74,321.00 110.24,321.00 111.44,322.50 113.34,323.10 115.14,322.10 115.94,321.00 120.54,321.00 122.04,322.50 124.64,323.30 126.24,324.80 126.54,327.10 128.14,326.70 130.74,324.80 132.64,324.80 134.94,327.10 136.84,329.30 135.34,330.50 131.14,330.90 128.84,332.40 126.54,333.50 125.04,334.70 114.04,335.00 112.14,337.30 103.74,337.30"/>
<polyline points="103.74,324.60 110.24,324.90"/>
</g>
</g>
<rect x="105.74" y="299.70" width="42.0" height="42.4" fill="none" stroke="#6e6e6e" stroke-width="1"/>
<g clip-path="url(#cB23)">
<g filter="url(#bl)">
<polygon points="146.20,308.72 155.01,308.72 161.17,314.00 168.21,309.60 183.17,309.60 184.93,315.76 189.34,321.04 189.34,335.12 174.37,336.89 161.17,339.53 146.20,339.53" fill="#fff6ee" filter="url(#rg)"/>
<polygon points="146.20,323.68 156.77,323.68 165.57,323.68 168.21,327.20 168.21,333.36 156.77,334.24 146.20,334.24" fill="#fee2c6"/>
</g>
<line x1="170.41" y1="299.70" x2="170.41" y2="342.10" stroke="#9c9c9c" stroke-width="1"/>
<line x1="149.41" y1="320.60" x2="191.41" y2="320.60" stroke="#9c9c9c" stroke-width="1"/>
<g fill="none" stroke="#1c1c1c" stroke-width="1.15" stroke-linejoin="round">
<polygon points="147.41,321.00 153.91,321.00 155.11,322.50 157.01,323.10 158.81,322.10 159.61,321.00 164.21,321.00 165.71,322.50 168.31,323.30 169.91,324.80 170.21,327.10 171.81,326.70 174.41,324.80 176.31,324.80 178.61,327.10 180.51,329.30 179.01,330.50 174.81,330.90 172.51,332.40 170.21,333.50 168.71,334.70 157.71,335.00 155.81,337.30 147.41,337.30"/>
<polyline points="147.41,324.60 153.91,324.90"/>
</g>
</g>
<rect x="149.41" y="299.70" width="42.0" height="42.4" fill="none" stroke="#6e6e6e" stroke-width="1"/>
<g clip-path="url(#cB24)">
<g filter="url(#bl)">
<polygon points="189.87,308.72 198.68,308.72 204.84,314.00 211.88,309.60 226.84,309.60 228.60,315.76 233.01,321.04 233.01,335.12 218.04,336.89 204.84,339.53 189.87,339.53" fill="#fff6ee" filter="url(#rg)"/>
<polygon points="189.87,323.68 200.44,323.68 209.24,323.68 211.88,327.20 211.88,333.36 200.44,334.24 189.87,334.24" fill="#fee2c6"/>
</g>
<line x1="214.08" y1="299.70" x2="214.08" y2="342.10" stroke="#9c9c9c" stroke-width="1"/>
<line x1="193.08" y1="320.60" x2="235.08" y2="320.60" stroke="#9c9c9c" stroke-width="1"/>
<g fill="none" stroke="#1c1c1c" stroke-width="1.15" stroke-linejoin="round">
<polygon points="191.08,321.00 197.58,321.00 198.78,322.50 200.68,323.10 202.48,322.10 203.28,321.00 207.88,321.00 209.38,322.50 211.98,323.30 213.58,324.80 213.88,327.10 215.48,326.70 218.08,324.80 219.98,324.80 222.28,327.10 224.18,329.30 222.68,330.50 218.48,330.90 216.18,332.40 213.88,333.50 212.38,334.70 201.38,335.00 199.48,337.30 191.08,337.30"/>
<polyline points="191.08,324.60 197.58,324.90"/>
</g>
</g>
<rect x="193.08" y="299.70" width="42.0" height="42.4" fill="none" stroke="#6e6e6e" stroke-width="1"/>
<g clip-path="url(#cB25)">
<g filter="url(#bl)">
<polygon points="233.54,308.72 242.35,308.72 248.51,314.00 255.55,309.60 270.51,309.60 272.27,315.76 276.68,321.04 276.68,335.12 261.71,336.89 248.51,339.53 233.54,339.53" fill="#fff0e2" filter="url(#rg)"/>
<polygon points="233.54,313.12 244.11,315.76 252.91,318.40 258.19,321.04 259.95,324.56 265.23,325.44 267.87,328.96 261.71,333.36 255.55,335.12 244.11,336.89 233.54,337.77" fill="#fee2c6"/>
<polygon points="233.54,321.92 242.35,321.92 252.91,321.92 256.43,324.56 258.19,327.20 263.47,325.44 266.11,328.96 259.95,331.60 255.55,334.24 244.11,336.00 233.54,336.89" fill="#fdcfa0"/>
<polygon points="233.54,323.68 244.11,323.68 252.91,323.68 255.55,327.20 255.55,333.36 244.11,334.24 233.54,334.24" fill="#fdb27a"/>
</g>
<line x1="257.75" y1="299.70" x2="257.75" y2="342.10" stroke="#9c9c9c" stroke-width="1"/>
<line x1="236.75" y1="320.60" x2="278.75" y2="320.60" stroke="#9c9c9c" stroke-width="1"/>
<g fill="none" stroke="#1c1c1c" stroke-width="1.15" stroke-linejoin="round">
<polygon points="234.75,321.00 241.25,321.00 242.45,322.50 244.35,323.10 246.15,322.10 246.95,321.00 251.55,321.00 253.05,322.50 255.65,323.30 257.25,324.80 257.55,327.10 259.15,326.70 261.75,324.80 263.65,324.80 265.95,327.10 267.85,329.30 266.35,330.50 262.15,330.90 259.85,332.40 257.55,333.50 256.05,334.70 245.05,335.00 243.15,337.30 234.75,337.30"/>
<polyline points="234.75,324.60 241.25,324.90"/>
</g>
</g>
<rect x="236.75" y="299.70" width="42.0" height="42.4" fill="none" stroke="#6e6e6e" stroke-width="1"/>
<g clip-path="url(#cB26)">
<g filter="url(#bl)">
<polygon points="277.21,308.72 286.02,308.72 292.18,314.00 299.22,309.60 314.18,309.60 315.94,315.76 320.35,321.04 320.35,335.12 305.38,336.89 292.18,339.53 277.21,339.53" fill="#fff0e2" filter="url(#rg)"/>
<polygon points="277.21,313.12 287.78,315.76 296.58,318.40 301.86,321.04 303.62,324.56 308.90,325.44 311.54,328.96 305.38,333.36 299.22,335.12 287.78,336.89 277.21,337.77" fill="#fdcfa0"/>
<polygon points="277.21,321.92 286.02,321.92 296.58,321.92 300.10,324.56 301.86,327.20 307.14,325.44 309.78,328.96 303.62,331.60 299.22,334.24 287.78,336.00 277.21,336.89" fill="#fd9650"/>
<polygon points="277.21,323.68 287.78,323.68 296.58,323.68 299.22,327.20 299.22,333.36 287.78,334.24 277.21,334.24" fill="#e45a0e"/>
</g>
<line x1="301.42" y1="299.70" x2="301.42" y2="342.10" stroke="#9c9c9c" stroke-width="1"/>
<line x1="280.42" y1="320.60" x2="322.42" y2="320.60" stroke="#9c9c9c" stroke-width="1"/>
<g fill="none" stroke="#1c1c1c" stroke-width="1.15" stroke-linejoin="round">
<polygon points="278.42,321.00 284.92,321.00 286.12,322.50 288.02,323.10 289.82,322.10 290.62,321.00 295.22,321.00 296.72,322.50 299.32,323.30 300.92,324.80 301.22,327.10 302.82,326.70 305.42,324.80 307.32,324.80 309.62,327.10 311.52,329.30 310.02,330.50 305.82,330.90 303.52,332.40 301.22,333.50 299.72,334.70 288.72,335.00 286.82,337.30 278.42,337.30"/>
<polyline points="278.42,324.60 284.92,324.90"/>
</g>
</g>
<rect x="280.42" y="299.70" width="42.0" height="42.4" fill="none" stroke="#6e6e6e" stroke-width="1"/>
<g clip-path="url(#cB27)">
<g filter="url(#bl)">
<polygon points="320.88,308.72 329.69,308.72 335.85,314.00 342.89,309.60 357.85,309.60 359.61,315.76 364.02,321.04 364.02,335.12 349.05,336.89 335.85,339.53 320.88,339.53" fill="#fee2c6" filter="url(#rg)"/>
<polygon points="320.88,313.12 331.45,315.76 340.25,318.40 345.53,321.04 347.29,324.56 352.57,325.44 355.21,328.96 349.05,333.36 342.89,335.12 331.45,336.89 320.88,337.77" fill="#fdb27a"/>
<polygon points="320.88,321.92 329.69,321.92 340.25,321.92 343.77,324.56 345.53,327.20 350.81,325.44 353.45,328.96 347.29,331.60 342.89,334.24 331.45,336.00 320.88,336.89" fill="#e45a0e"/>
<polygon points="320.88,323.68 331.45,323.68 340.25,323.68 342.89,327.20 342.89,333.36 331.45,334.24 320.88,334.24" fill="#7f2704"/>
</g>
<line x1="345.09" y1="299.70" x2="345.09" y2="342.10" stroke="#9c9c9c" stroke-width="1"/>
<line x1="324.09" y1="320.60" x2="366.09" y2="320.60" stroke="#9c9c9c" stroke-width="1"/>
<g fill="none" stroke="#1c1c1c" stroke-width="1.15" stroke-linejoin="round">
<polygon points="322.09,321.00 328.59,321.00 329.79,322.50 331.69,323.10 333.49,322.10 334.29,321.00 338.89,321.00 340.39,322.50 342.99,323.30 344.59,324.80 344.89,327.10 346.49,326.70 349.09,324.80 350.99,324.80 353.29,327.10 355.19,329.30 353.69,330.50 349.49,330.90 347.19,332.40 344.89,333.50 343.39,334.70 332.39,335.00 330.49,337.30 322.09,337.30"/>
<polyline points="322.09,324.60 328.59,324.90"/>
</g>
</g>
<rect x="324.09" y="299.70" width="42.0" height="42.4" fill="none" stroke="#6e6e6e" stroke-width="1"/>
<g clip-path="url(#cB28)">
<g filter="url(#bl)">
<polygon points="364.55,308.72 373.36,308.72 379.52,314.00 386.56,309.60 401.52,309.60 403.28,315.76 407.69,321.04 407.69,335.12 392.72,336.89 379.52,339.53 364.55,339.53" fill="#fee2c6" filter="url(#rg)"/>
<polygon points="364.55,313.12 375.12,315.76 383.92,318.40 389.20,321.04 390.96,324.56 396.24,325.44 398.88,328.96 392.72,333.36 386.56,335.12 375.12,336.89 364.55,337.77" fill="#fdb27a"/>
<polygon points="364.55,321.92 373.36,321.92 383.92,321.92 387.44,324.56 389.20,327.20 394.48,325.44 397.12,328.96 390.96,331.60 386.56,334.24 375.12,336.00 364.55,336.89" fill="#e45a0e"/>
<polygon points="364.55,323.68 375.12,323.68 383.92,323.68 386.56,327.20 386.56,333.36 375.12,334.24 364.55,334.24" fill="#7f2704"/>
</g>
<line x1="388.76" y1="299.70" x2="388.76" y2="342.10" stroke="#9c9c9c" stroke-width="1"/>
<line x1="367.76" y1="320.60" x2="409.76" y2="320.60" stroke="#9c9c9c" stroke-width="1"/>
<g fill="none" stroke="#1c1c1c" stroke-width="1.15" stroke-linejoin="round">
<polygon points="365.76,321.00 372.26,321.00 373.46,322.50 375.36,323.10 377.16,322.10 377.96,321.00 382.56,321.00 384.06,322.50 386.66,323.30 388.26,324.80 388.56,327.10 390.16,326.70 392.76,324.80 394.66,324.80 396.96,327.10 398.86,329.30 397.36,330.50 393.16,330.90 390.86,332.40 388.56,333.50 387.06,334.70 376.06,335.00 374.16,337.30 365.76,337.30"/>
<polyline points="365.76,324.60 372.26,324.90"/>
</g>
</g>
<rect x="367.76" y="299.70" width="42.0" height="42.4" fill="none" stroke="#6e6e6e" stroke-width="1"/>
<g clip-path="url(#cB29)">
<g filter="url(#bl)">
<polygon points="408.22,308.72 417.03,308.72 423.19,314.00 430.23,309.60 445.19,309.60 446.95,315.76 451.36,321.04 451.36,335.12 436.39,336.89 423.19,339.53 408.22,339.53" fill="#fee2c6" filter="url(#rg)"/>
<polygon points="408.22,313.12 418.79,315.76 427.59,318.40 432.87,321.04 434.63,324.56 439.91,325.44 442.55,328.96 436.39,333.36 430.23,335.12 418.79,336.89 408.22,337.77" fill="#fdb27a"/>
<polygon points="408.22,321.92 417.03,321.92 427.59,321.92 431.11,324.56 432.87,327.20 438.15,325.44 440.79,328.96 434.63,331.60 430.23,334.24 418.79,336.00 408.22,336.89" fill="#e45a0e"/>
<polygon points="408.22,323.68 418.79,323.68 427.59,323.68 430.23,327.20 430.23,333.36 418.79,334.24 408.22,334.24" fill="#7f2704"/>
</g>
<line x1="432.43" y1="299.70" x2="432.43" y2="342.10" stroke="#9c9c9c" stroke-width="1"/>
<line x1="411.43" y1="320.60" x2="453.43" y2="320.60" stroke="#9c9c9c" stroke-width="1"/>
<g fill="none" stroke="#1c1c1c" stroke-width="1.15" stroke-linejoin="round">
<polygon points="409.43,321.00 415.93,321.00 417.13,322.50 419.03,323.10 420.83,322.10 421.63,321.00 426.23,321.00 427.73,322.50 430.33,323.30 431.93,324.80 432.23,327.10 433.83,326.70 436.43,324.80 438.33,324.80 440.63,327.10 442.53,329.30 441.03,330.50 436.83,330.90 434.53,332.40 432.23,333.50 430.73,334.70 419.73,335.00 417.83,337.30 409.43,337.30"/>
<polyline points="409.43,324.60 415.93,324.90"/>
</g>
</g>
<rect x="411.43" y="299.70" width="42.0" height="42.4" fill="none" stroke="#6e6e6e" stroke-width="1"/>
<text transform="translate(14.6,320.60) rotate(-90)" text-anchor="middle" font-size="7.2" fill="#222" stroke="#222" stroke-width="0.15">t<tspan font-size="4.6" dy="2.1">cyc</tspan><tspan dy="-2.1">=</tspan>36h</text>
<g clip-path="url(#cB30)">
<g filter="url(#bl)">
<polygon points="20.03,354.08 26.20,355.84 35.00,361.12 40.28,363.76 45.56,369.05 43.80,376.09 39.40,381.37 30.60,384.01 20.03,384.01" fill="#fffbf8" filter="url(#rg)"/>
</g>
<line x1="39.40" y1="344.80" x2="39.40" y2="387.20" stroke="#9c9c9c" stroke-width="1"/>
<line x1="18.40" y1="365.70" x2="60.40" y2="365.70" stroke="#9c9c9c" stroke-width="1"/>
<g fill="none" stroke="#1c1c1c" stroke-width="1.15" stroke-linejoin="round">
<polygon points="25.10,367.00 26.60,366.20 30.80,366.20 32.70,364.00 36.10,363.60 38.00,364.70 38.80,366.20 39.20,370.40 43.40,370.40 45.30,372.30 43.80,374.20 38.00,374.20 35.80,372.30 34.60,372.70 32.00,375.40 29.30,376.10 27.40,374.60 26.30,371.60 24.40,369.30"/>
</g>
</g>
<rect x="18.40" y="344.80" width="42.0" height="42.4" fill="none" stroke="#6e6e6e" stroke-width="1"/>
<g clip-path="url(#cB31)">
<g filter="url(#bl)">
<polygon points="63.70,354.08 69.87,355.84 78.67,361.12 83.95,363.76 89.23,369.05 87.47,376.09 83.07,381.37 74.27,384.01 63.70,384.01" fill="#fff6ee" filter="url(#rg)"/>
</g>
<line x1="83.07" y1="344.80" x2="83.07" y2="387.20" stroke="#9c9c9c" stroke-width="1"/>
<line x1="62.07" y1="365.70" x2="104.07" y2="365.70" stroke="#9c9c9c" stroke-width="1"/>
<g fill="none" stroke="#1c1c1c" stroke-width="1.15" stroke-linejoin="round">
<polygon points="68.77,367.00 70.27,366.20 74.47,366.20 76.37,364.00 79.77,363.60 81.67,364.70 82.47,366.20 82.87,370.40 87.07,370.40 88.97,372.30 87.47,374.20 81.67,374.20 79.47,372.30 78.27,372.70 75.67,375.40 72.97,376.10 71.07,374.60 69.97,371.60 68.07,369.30"/>
</g>
</g>
<rect x="62.07" y="344.80" width="42.0" height="42.4" fill="none" stroke="#6e6e6e" stroke-width="1"/>
<g clip-path="url(#cB32)">
<g filter="url(#bl)">
<polygon points="107.37,354.08 113.54,355.84 122.34,361.12 127.62,363.76 132.90,369.05 131.14,376.09 126.74,381.37 117.94,384.01 107.37,384.01" fill="#fff6ee" filter="url(#rg)"/>
</g>
<line x1="126.74" y1="344.80" x2="126.74" y2="387.20" stroke="#9c9c9c" stroke-width="1"/>
<line x1="105.74" y1="365.70" x2="147.74" y2="365.70" stroke="#9c9c9c" stroke-width="1"/>
<g fill="none" stroke="#1c1c1c" stroke-width="1.15" stroke-linejoin="round">
<polygon points="112.44,367.00 113.94,366.20 118.14,366.20 120.04,364.00 123.44,363.60 125.34,364.70 126.14,366.20 126.54,370.40 130.74,370.40 132.64,372.30 131.14,374.20 125.34,374.20 123.14,372.30 121.94,372.70 119.34,375.40 116.64,376.10 114.74,374.60 113.64,371.60 111.74,369.30"/>
</g>
</g>
<rect x="105.74" y="344.80" width="42.0" height="42.4" fill="none" stroke="#6e6e6e" stroke-width="1"/>
<g clip-path="url(#cB33)">
<g filter="url(#bl)">
<polygon points="151.04,354.08 157.21,355.84 166.01,361.12 171.29,363.76 176.57,369.05 174.81,376.09 170.41,381.37 161.61,384.01 151.04,384.01" fill="#fff6ee" filter="url(#rg)"/>
</g>
<line x1="170.41" y1="344.80" x2="170.41" y2="387.20" stroke="#9c9c9c" stroke-width="1"/>
<line x1="149.41" y1="365.70" x2="191.41" y2="365.70" stroke="#9c9c9c" stroke-width="1"/>
<g fill="none" stroke="#1c1c1c" stroke-width="1.15" stroke-linejoin="round">
<polygon points="156.11,367.00 157.61,366.20 161.81,366.20 163.71,364.00 167.11,363.60 169.01,364.70 169.81,366.20 170.21,370.40 174.41,370.40 176.31,372.30 174.81,374.20 169.01,374.20 166.81,372.30 165.61,372.70 163.01,375.40 160.31,376.10 158.41,374.60 157.31,371.60 155.41,369.30"/>
</g>
</g>
<rect x="149.41" y="344.80" width="42.0" height="42.4" fill="none" stroke="#6e6e6e" stroke-width="1"/>
<g clip-path="url(#cB34)">
<g filter="url(#bl)">
<polygon points="194.71,354.08 200.88,355.84 209.68,361.12 214.96,363.76 220.24,369.05 218.48,376.09 214.08,381.37 205.28,384.01 194.71,384.01" fill="#fff6ee" filter="url(#rg)"/>
</g>
<line x1="214.08" y1="344.80" x2="214.08" y2="387.20" stroke="#9c9c9c" stroke-width="1"/>
<line x1="193.08" y1="365.70" x2="235.08" y2="365.70" stroke="#9c9c9c" stroke-width="1"/>
<g fill="none" stroke="#1c1c1c" stroke-width="1.15" stroke-linejoin="round">
<polygon points="199.78,367.00 201.28,366.20 205.48,366.20 207.38,364.00 210.78,363.60 212.68,364.70 213.48,366.20 213.88,370.40 218.08,370.40 219.98,372.30 218.48,374.20 212.68,374.20 210.48,372.30 209.28,372.70 206.68,375.40 203.98,376.10 202.08,374.60 200.98,371.60 199.08,369.30"/>
</g>
</g>
<rect x="193.08" y="344.80" width="42.0" height="42.4" fill="none" stroke="#6e6e6e" stroke-width="1"/>
<g clip-path="url(#cB35)">
<g filter="url(#bl)">
<polygon points="238.38,354.08 244.55,355.84 253.35,361.12 258.63,363.76 263.91,369.05 262.15,376.09 257.75,381.37 248.95,384.01 238.38,384.01" fill="#fff0e2" filter="url(#rg)"/>
<polygon points="241.02,365.52 247.19,364.64 254.23,366.40 253.35,369.93 246.31,369.93 241.90,369.05" fill="#fee2c6"/>
</g>
<line x1="257.75" y1="344.80" x2="257.75" y2="387.20" stroke="#9c9c9c" stroke-width="1"/>
<line x1="236.75" y1="365.70" x2="278.75" y2="365.70" stroke="#9c9c9c" stroke-width="1"/>
<g fill="none" stroke="#1c1c1c" stroke-width="1.15" stroke-linejoin="round">
<polygon points="243.45,367.00 244.95,366.20 249.15,366.20 251.05,364.00 254.45,363.60 256.35,364.70 257.15,366.20 257.55,370.40 261.75,370.40 263.65,372.30 262.15,374.20 256.35,374.20 254.15,372.30 252.95,372.70 250.35,375.40 247.65,376.10 245.75,374.60 244.65,371.60 242.75,369.30"/>
</g>
</g>
<rect x="236.75" y="344.80" width="42.0" height="42.4" fill="none" stroke="#6e6e6e" stroke-width="1"/>
<g clip-path="url(#cB36)">
<g filter="url(#bl)">
<polygon points="282.05,354.08 288.22,355.84 297.02,361.12 302.30,363.76 307.58,369.05 305.82,376.09 301.42,381.37 292.62,384.01 282.05,384.01" fill="#fff0e2" filter="url(#rg)"/>
<polygon points="282.05,362.88 289.98,362.88 298.78,364.64 300.54,369.05 297.02,371.69 288.22,371.69 282.05,370.81" fill="#fee2c6"/>
<polygon points="284.69,365.52 290.86,364.64 297.90,366.40 297.02,369.93 289.98,369.93 285.57,369.05" fill="#fdb27a"/>
</g>
<line x1="301.42" y1="344.80" x2="301.42" y2="387.20" stroke="#9c9c9c" stroke-width="1"/>
<line x1="280.42" y1="365.70" x2="322.42" y2="365.70" stroke="#9c9c9c" stroke-width="1"/>
<g fill="none" stroke="#1c1c1c" stroke-width="1.15" stroke-linejoin="round">
<polygon points="287.12,367.00 288.62,366.20 292.82,366.20 294.72,364.00 298.12,363.60 300.02,364.70 300.82,366.20 301.22,370.40 305.42,370.40 307.32,372.30 305.82,374.20 300.02,374.20 297.82,372.30 296.62,372.70 294.02,375.40 291.32,376.10 289.42,374.60 288.32,371.60 286.42,369.30"/>
</g>
</g>
<rect x="280.42" y="344.80" width="42.0" height="42.4" fill="none" stroke="#6e6e6e" stroke-width="1"/>
<g clip-path="url(#cB37)">
<g filter="url(#bl)">
<polygon points="325.72,354.08 331.89,355.84 340.69,361.12 345.97,363.76 351.25,369.05 349.49,376.09 345.09,381.37 336.29,384.01 325.72,384.01" fill="#fff0e2" filter="url(#rg)"/>
<polygon points="325.72,362.88 333.65,362.88 342.45,364.64 344.21,369.05 340.69,371.69 331.89,371.69 325.72,370.81" fill="#fee2c6"/>
<polygon points="328.36,365.52 334.53,364.64 341.57,366.40 340.69,369.93 333.65,369.93 329.24,369.05" fill="#fdcfa0"/>
</g>
<line x1="345.09" y1="344.80" x2="345.09" y2="387.20" stroke="#9c9c9c" stroke-width="1"/>
<line x1="324.09" y1="365.70" x2="366.09" y2="365.70" stroke="#9c9c9c" stroke-width="1"/>
<g fill="none" stroke="#1c1c1c" stroke-width="1.15" stroke-linejoin="round">
<polygon points="330.79,367.00 332.29,366.20 336.49,366.20 338.39,364.00 341.79,363.60 343.69,364.70 344.49,366.20 344.89,370.40 349.09,370.40 350.99,372.30 349.49,374.20 343.69,374.20 341.49,372.30 340.29,372.70 337.69,375.40 334.99,376.10 333.09,374.60 331.99,371.60 330.09,369.30"/>
</g>
</g>
<rect x="324.09" y="344.80" width="42.0" height="42.4" fill="none" stroke="#6e6e6e" stroke-width="1"/>
<g clip-path="url(#cB38)">
<g filter="url(#bl)">
<polygon points="369.39,354.08 375.56,355.84 384.36,361.12 389.64,363.76 394.92,369.05 393.16,376.09 388.76,381.37 379.96,384.01 369.39,384.01" fill="#fff0e2" filter="url(#rg)"/>
<polygon points="369.39,362.88 377.32,362.88 386.12,364.64 387.88,369.05 384.36,371.69 375.56,371.69 369.39,370.81" fill="#fdcfa0"/>
<polygon points="372.03,365.52 378.20,364.64 385.24,366.40 384.36,369.93 377.32,369.93 372.91,369.05" fill="#f67826"/>
</g>
<line x1="388.76" y1="344.80" x2="388.76" y2="387.20" stroke="#9c9c9c" stroke-width="1"/>
<line x1="367.76" y1="365.70" x2="409.76" y2="365.70" stroke="#9c9c9c" stroke-width="1"/>
<g fill="none" stroke="#1c1c1c" stroke-width="1.15" stroke-linejoin="round">
<polygon points="374.46,367.00 375.96,366.20 380.16,366.20 382.06,364.00 385.46,363.60 387.36,364.70 388.16,366.20 388.56,370.40 392.76,370.40 394.66,372.30 393.16,374.20 387.36,374.20 385.16,372.30 383.96,372.70 381.36,375.40 378.66,376.10 376.76,374.60 375.66,371.60 373.76,369.30"/>
</g>
</g>
<rect x="367.76" y="344.80" width="42.0" height="42.4" fill="none" stroke="#6e6e6e" stroke-width="1"/>
<g clip-path="url(#cB39)">
<g filter="url(#bl)">
<polygon points="413.06,354.08 419.23,355.84 428.03,361.12 433.31,363.76 438.59,369.05 436.83,376.09 432.43,381.37 423.63,384.01 413.06,384.01" fill="#fff0e2" filter="url(#rg)"/>
<polygon points="413.06,362.88 420.99,362.88 429.79,364.64 431.55,369.05 428.03,371.69 419.23,371.69 413.06,370.81" fill="#fdcfa0"/>
<polygon points="415.70,365.52 421.87,364.64 428.91,366.40 428.03,369.93 420.99,369.93 416.58,369.05" fill="#fd9650"/>
</g>
<line x1="432.43" y1="344.80" x2="432.43" y2="387.20" stroke="#9c9c9c" stroke-width="1"/>
<line x1="411.43" y1="365.70" x2="453.43" y2="365.70" stroke="#9c9c9c" stroke-width="1"/>
<g fill="none" stroke="#1c1c1c" stroke-width="1.15" stroke-linejoin="round">
<polygon points="418.13,367.00 419.63,366.20 423.83,366.20 425.73,364.00 429.13,363.60 431.03,364.70 431.83,366.20 432.23,370.40 436.43,370.40 438.33,372.30 436.83,374.20 431.03,374.20 428.83,372.30 427.63,372.70 425.03,375.40 422.33,376.10 420.43,374.60 419.33,371.60 417.43,369.30"/>
</g>
</g>
<rect x="411.43" y="344.80" width="42.0" height="42.4" fill="none" stroke="#6e6e6e" stroke-width="1"/>
<text transform="translate(14.6,365.70) rotate(-90)" text-anchor="middle" font-size="7.2" fill="#222" stroke="#222" stroke-width="0.15">t<tspan font-size="4.6" dy="2.1">cyc</tspan><tspan dy="-2.1">=</tspan>24h</text>
<text x="39.40" y="397.5" text-anchor="middle" font-size="7.2" fill="#222" stroke="#222" stroke-width="0.15">t<tspan font-size="4.6" dy="2.1">tc</tspan><tspan dy="-2.1">=</tspan>114h</text>
<text x="83.07" y="397.5" text-anchor="middle" font-size="7.2" fill="#222" stroke="#222" stroke-width="0.15">t<tspan font-size="4.6" dy="2.1">tc</tspan><tspan dy="-2.1">=</tspan>102h</text>
<text x="126.74" y="397.5" text-anchor="middle" font-size="7.2" fill="#222" stroke="#222" stroke-width="0.15">t<tspan font-size="4.6" dy="2.1">tc</tspan><tspan dy="-2.1">=</tspan>90h</text>
<text x="170.41" y="397.5" text-anchor="middle" font-size="7.2" fill="#222" stroke="#222" stroke-width="0.15">t<tspan font-size="4.6" dy="2.1">tc</tspan><tspan dy="-2.1">=</tspan>78h</text>
<text x="214.08" y="397.5" text-anchor="middle" font-size="7.2" fill="#222" stroke="#222" stroke-width="0.15">t<tspan font-size="4.6" dy="2.1">tc</tspan><tspan dy="-2.1">=</tspan>66h</text>
<text x="257.75" y="397.5" text-anchor="middle" font-size="7.2" fill="#222" stroke="#222" stroke-width="0.15">t<tspan font-size="4.6" dy="2.1">tc</tspan><tspan dy="-2.1">=</tspan>54h</text>
<text x="301.42" y="397.5" text-anchor="middle" font-size="7.2" fill="#222" stroke="#222" stroke-width="0.15">t<tspan font-size="4.6" dy="2.1">tc</tspan><tspan dy="-2.1">=</tspan>42h</text>
<text x="345.09" y="397.5" text-anchor="middle" font-size="7.2" fill="#222" stroke="#222" stroke-width="0.15">t<tspan font-size="4.6" dy="2.1">tc</tspan><tspan dy="-2.1">=</tspan>30h</text>
<text x="388.76" y="397.5" text-anchor="middle" font-size="7.2" fill="#222" stroke="#222" stroke-width="0.15">t<tspan font-size="4.6" dy="2.1">tc</tspan><tspan dy="-2.1">=</tspan>18h</text>
<text x="432.43" y="397.5" text-anchor="middle" font-size="7.2" fill="#222" stroke="#222" stroke-width="0.15">t<tspan font-size="4.6" dy="2.1">tc</tspan><tspan dy="-2.1">=</tspan>6h</text>
<text x="4.2" y="13.1" font-size="9.3" font-weight="bold" fill="#111">(a)</text>
<text x="4.2" y="209.6" font-size="9.3" font-weight="bold" fill="#111">(b)</text>
<line x1="275.4" y1="5.4" x2="459.4" y2="195.8" stroke="#e8323c" stroke-width="1.3" stroke-dasharray="5,4.14" stroke-dashoffset="2.24"/>
<line x1="275.4" y1="202.6" x2="459" y2="392.5" stroke="#e8323c" stroke-width="1.3" stroke-dasharray="5,4.14" stroke-dashoffset="2.24"/>
<rect x="459.3" y="146.70" width="11.7" height="11.80" fill="#f1f7fd"/>
<rect x="459.3" y="135.20" width="11.7" height="11.80" fill="#dde9f6"/>
<rect x="459.3" y="123.70" width="11.7" height="11.80" fill="#c8dcf0"/>
<rect x="459.3" y="112.20" width="11.7" height="11.80" fill="#a9cfe5"/>
<rect x="459.3" y="100.70" width="11.7" height="11.80" fill="#83badb"/>
<rect x="459.3" y="89.20" width="11.7" height="11.80" fill="#5ba3d0"/>
<rect x="459.3" y="77.70" width="11.7" height="11.80" fill="#3a8bc2"/>
<rect x="459.3" y="66.20" width="11.7" height="11.80" fill="#1f6eb3"/>
<rect x="459.3" y="54.70" width="11.7" height="11.80" fill="#0c519c"/>
<rect x="459.3" y="43.20" width="11.7" height="11.80" fill="#0a2f6b"/>
<rect x="459.3" y="43.2" width="11.7" height="115.0" fill="none" stroke="#333" stroke-width="0.8"/>
<line x1="471.00" y1="158.20" x2="473.50" y2="158.20" stroke="#333" stroke-width="0.7"/>
<text transform="translate(474.50,161.00) scale(0.88,1)" font-size="8" fill="#222" stroke="#222" stroke-width="0.1">0</text>
<line x1="471.00" y1="146.70" x2="472.50" y2="146.70" stroke="#333" stroke-width="0.7"/>
<line x1="471.00" y1="135.20" x2="473.50" y2="135.20" stroke="#333" stroke-width="0.7"/>
<text transform="translate(474.50,138.00) scale(0.88,1)" font-size="8" fill="#222" stroke="#222" stroke-width="0.1">20</text>
<line x1="471.00" y1="123.70" x2="472.50" y2="123.70" stroke="#333" stroke-width="0.7"/>
<line x1="471.00" y1="112.20" x2="473.50" y2="112.20" stroke="#333" stroke-width="0.7"/>
<text transform="translate(474.50,115.00) scale(0.88,1)" font-size="8" fill="#222" stroke="#222" stroke-width="0.1">40</text>
<line x1="471.00" y1="100.70" x2="472.50" y2="100.70" stroke="#333" stroke-width="0.7"/>
<line x1="471.00" y1="89.20" x2="473.50" y2="89.20" stroke="#333" stroke-width="0.7"/>
<text transform="translate(474.50,92.00) scale(0.88,1)" font-size="8" fill="#222" stroke="#222" stroke-width="0.1">60</text>
<line x1="471.00" y1="77.70" x2="472.50" y2="77.70" stroke="#333" stroke-width="0.7"/>
<line x1="471.00" y1="66.20" x2="473.50" y2="66.20" stroke="#333" stroke-width="0.7"/>
<text transform="translate(474.50,69.00) scale(0.88,1)" font-size="8" fill="#222" stroke="#222" stroke-width="0.1">80</text>
<line x1="471.00" y1="54.70" x2="472.50" y2="54.70" stroke="#333" stroke-width="0.7"/>
<line x1="471.00" y1="43.20" x2="473.50" y2="43.20" stroke="#333" stroke-width="0.7"/>
<text transform="translate(474.50,46.00) scale(0.88,1)" font-size="8" fill="#222" stroke="#222" stroke-width="0.1">100</text>
<text transform="translate(493,100.7) rotate(-90)" text-anchor="middle" font-size="7.5" fill="#222"><tspan font-style="italic">P</tspan><tspan font-size="5" dy="1.5">loc</tspan><tspan dy="-1.5"> [%]</tspan></text>
<rect x="459.3" y="343.80" width="11.7" height="11.80" fill="#fff1e4"/>
<rect x="459.3" y="332.30" width="11.7" height="11.80" fill="#fee3c8"/>
<rect x="459.3" y="320.80" width="11.7" height="11.80" fill="#fdd0a2"/>
<rect x="459.3" y="309.30" width="11.7" height="11.80" fill="#fdb575"/>
<rect x="459.3" y="297.80" width="11.7" height="11.80" fill="#fd9647"/>
<rect x="459.3" y="286.30" width="11.7" height="11.80" fill="#f5761f"/>
<rect x="459.3" y="274.80" width="11.7" height="11.80" fill="#e25709"/>
<rect x="459.3" y="263.30" width="11.7" height="11.80" fill="#c44103"/>
<rect x="459.3" y="251.80" width="11.7" height="11.80" fill="#9c3203"/>
<rect x="459.3" y="240.30" width="11.7" height="11.80" fill="#7f2704"/>
<rect x="459.3" y="240.3" width="11.7" height="115.0" fill="none" stroke="#333" stroke-width="0.8"/>
<line x1="471.00" y1="355.30" x2="473.50" y2="355.30" stroke="#333" stroke-width="0.7"/>
<text transform="translate(474.50,358.10) scale(0.88,1)" font-size="8" fill="#222" stroke="#222" stroke-width="0.1">0</text>
<line x1="471.00" y1="343.80" x2="472.50" y2="343.80" stroke="#333" stroke-width="0.7"/>
<line x1="471.00" y1="332.30" x2="473.50" y2="332.30" stroke="#333" stroke-width="0.7"/>
<text transform="translate(474.50,335.10) scale(0.88,1)" font-size="8" fill="#222" stroke="#222" stroke-width="0.1">20</text>
<line x1="471.00" y1="320.80" x2="472.50" y2="320.80" stroke="#333" stroke-width="0.7"/>
<line x1="471.00" y1="309.30" x2="473.50" y2="309.30" stroke="#333" stroke-width="0.7"/>
<text transform="translate(474.50,312.10) scale(0.88,1)" font-size="8" fill="#222" stroke="#222" stroke-width="0.1">40</text>
<line x1="471.00" y1="297.80" x2="472.50" y2="297.80" stroke="#333" stroke-width="0.7"/>
<line x1="471.00" y1="286.30" x2="473.50" y2="286.30" stroke="#333" stroke-width="0.7"/>
<text transform="translate(474.50,289.10) scale(0.88,1)" font-size="8" fill="#222" stroke="#222" stroke-width="0.1">60</text>
<line x1="471.00" y1="274.80" x2="472.50" y2="274.80" stroke="#333" stroke-width="0.7"/>
<line x1="471.00" y1="263.30" x2="473.50" y2="263.30" stroke="#333" stroke-width="0.7"/>
<text transform="translate(474.50,266.10) scale(0.88,1)" font-size="8" fill="#222" stroke="#222" stroke-width="0.1">80</text>
<line x1="471.00" y1="251.80" x2="472.50" y2="251.80" stroke="#333" stroke-width="0.7"/>
<line x1="471.00" y1="240.30" x2="473.50" y2="240.30" stroke="#333" stroke-width="0.7"/>
<text transform="translate(474.50,243.10) scale(0.88,1)" font-size="8" fill="#222" stroke="#222" stroke-width="0.1">100</text>
<text transform="translate(493,297.8) rotate(-90)" text-anchor="middle" font-size="7.5" fill="#222"><tspan font-style="italic">P</tspan><tspan font-size="5" dy="1.5">loc</tspan><tspan dy="-1.5"> [%]</tspan></text>
<rect x="32.5" y="420.5" width="209.0" height="103.0" fill="none" stroke="#9a9a9a" stroke-width="1"/>
<line x1="30.7" y1="519.20" x2="32.5" y2="519.20" stroke="#9a9a9a" stroke-width="0.8"/>
<text transform="translate(28.3,522.10) scale(0.85,1)" text-anchor="end" font-size="9.2" fill="#2a2a2a" stroke="#2a2a2a" stroke-width="0.15">0</text>
<line x1="30.7" y1="509.76" x2="32.5" y2="509.76" stroke="#9a9a9a" stroke-width="0.8"/>
<line x1="30.7" y1="500.32" x2="32.5" y2="500.32" stroke="#9a9a9a" stroke-width="0.8"/>
<text transform="translate(28.3,503.22) scale(0.85,1)" text-anchor="end" font-size="9.2" fill="#2a2a2a" stroke="#2a2a2a" stroke-width="0.15">20</text>
<line x1="30.7" y1="490.88" x2="32.5" y2="490.88" stroke="#9a9a9a" stroke-width="0.8"/>
<line x1="30.7" y1="481.44" x2="32.5" y2="481.44" stroke="#9a9a9a" stroke-width="0.8"/>
<text transform="translate(28.3,484.34) scale(0.85,1)" text-anchor="end" font-size="9.2" fill="#2a2a2a" stroke="#2a2a2a" stroke-width="0.15">40</text>
<line x1="30.7" y1="472.00" x2="32.5" y2="472.00" stroke="#9a9a9a" stroke-width="0.8"/>
<line x1="30.7" y1="462.56" x2="32.5" y2="462.56" stroke="#9a9a9a" stroke-width="0.8"/>
<text transform="translate(28.3,465.46) scale(0.85,1)" text-anchor="end" font-size="9.2" fill="#2a2a2a" stroke="#2a2a2a" stroke-width="0.15">60</text>
<line x1="30.7" y1="453.12" x2="32.5" y2="453.12" stroke="#9a9a9a" stroke-width="0.8"/>
<line x1="30.7" y1="443.68" x2="32.5" y2="443.68" stroke="#9a9a9a" stroke-width="0.8"/>
<text transform="translate(28.3,446.58) scale(0.85,1)" text-anchor="end" font-size="9.2" fill="#2a2a2a" stroke="#2a2a2a" stroke-width="0.15">80</text>
<line x1="30.7" y1="434.24" x2="32.5" y2="434.24" stroke="#9a9a9a" stroke-width="0.8"/>
<line x1="30.7" y1="424.80" x2="32.5" y2="424.80" stroke="#9a9a9a" stroke-width="0.8"/>
<text transform="translate(28.3,427.70) scale(0.85,1)" text-anchor="end" font-size="9.2" fill="#2a2a2a" stroke="#2a2a2a" stroke-width="0.15">100</text>
<line x1="42.00" y1="523.5" x2="42.00" y2="525.3" stroke="#9a9a9a" stroke-width="0.8"/>
<line x1="51.98" y1="523.5" x2="51.98" y2="525.3" stroke="#9a9a9a" stroke-width="0.8"/>
<line x1="61.97" y1="523.5" x2="61.97" y2="525.3" stroke="#9a9a9a" stroke-width="0.8"/>
<line x1="71.95" y1="523.5" x2="71.95" y2="525.3" stroke="#9a9a9a" stroke-width="0.8"/>
<line x1="81.94" y1="523.5" x2="81.94" y2="525.3" stroke="#9a9a9a" stroke-width="0.8"/>
<line x1="91.92" y1="523.5" x2="91.92" y2="525.3" stroke="#9a9a9a" stroke-width="0.8"/>
<line x1="101.91" y1="523.5" x2="101.91" y2="525.3" stroke="#9a9a9a" stroke-width="0.8"/>
<line x1="111.89" y1="523.5" x2="111.89" y2="525.3" stroke="#9a9a9a" stroke-width="0.8"/>
<line x1="121.88" y1="523.5" x2="121.88" y2="525.3" stroke="#9a9a9a" stroke-width="0.8"/>
<line x1="131.87" y1="523.5" x2="131.87" y2="525.3" stroke="#9a9a9a" stroke-width="0.8"/>
<line x1="141.85" y1="523.5" x2="141.85" y2="525.3" stroke="#9a9a9a" stroke-width="0.8"/>
<line x1="151.83" y1="523.5" x2="151.83" y2="525.3" stroke="#9a9a9a" stroke-width="0.8"/>
<line x1="161.82" y1="523.5" x2="161.82" y2="525.3" stroke="#9a9a9a" stroke-width="0.8"/>
<line x1="171.81" y1="523.5" x2="171.81" y2="525.3" stroke="#9a9a9a" stroke-width="0.8"/>
<line x1="181.79" y1="523.5" x2="181.79" y2="525.3" stroke="#9a9a9a" stroke-width="0.8"/>
<line x1="191.77" y1="523.5" x2="191.77" y2="525.3" stroke="#9a9a9a" stroke-width="0.8"/>
<line x1="201.76" y1="523.5" x2="201.76" y2="525.3" stroke="#9a9a9a" stroke-width="0.8"/>
<line x1="211.75" y1="523.5" x2="211.75" y2="525.3" stroke="#9a9a9a" stroke-width="0.8"/>
<line x1="221.73" y1="523.5" x2="221.73" y2="525.3" stroke="#9a9a9a" stroke-width="0.8"/>
<line x1="231.71" y1="523.5" x2="231.71" y2="525.3" stroke="#9a9a9a" stroke-width="0.8"/>
<text transform="translate(42.00,534.8) scale(0.85,1)" text-anchor="middle" font-size="9.2" fill="#2a2a2a" stroke="#2a2a2a" stroke-width="0.15">120</text>
<text transform="translate(61.97,534.8) scale(0.85,1)" text-anchor="middle" font-size="9.2" fill="#2a2a2a" stroke="#2a2a2a" stroke-width="0.15">108</text>
<text transform="translate(81.94,534.8) scale(0.85,1)" text-anchor="middle" font-size="9.2" fill="#2a2a2a" stroke="#2a2a2a" stroke-width="0.15">96</text>
<text transform="translate(101.91,534.8) scale(0.85,1)" text-anchor="middle" font-size="9.2" fill="#2a2a2a" stroke="#2a2a2a" stroke-width="0.15">84</text>
<text transform="translate(121.88,534.8) scale(0.85,1)" text-anchor="middle" font-size="9.2" fill="#2a2a2a" stroke="#2a2a2a" stroke-width="0.15">72</text>
<text transform="translate(141.85,534.8) scale(0.85,1)" text-anchor="middle" font-size="9.2" fill="#2a2a2a" stroke="#2a2a2a" stroke-width="0.15">60</text>
<text transform="translate(161.82,534.8) scale(0.85,1)" text-anchor="middle" font-size="9.2" fill="#2a2a2a" stroke="#2a2a2a" stroke-width="0.15">48</text>
<text transform="translate(181.79,534.8) scale(0.85,1)" text-anchor="middle" font-size="9.2" fill="#2a2a2a" stroke="#2a2a2a" stroke-width="0.15">36</text>
<text transform="translate(201.76,534.8) scale(0.85,1)" text-anchor="middle" font-size="9.2" fill="#2a2a2a" stroke="#2a2a2a" stroke-width="0.15">24</text>
<text transform="translate(221.73,534.8) scale(0.85,1)" text-anchor="middle" font-size="9.2" fill="#2a2a2a" stroke="#2a2a2a" stroke-width="0.15">12</text>
<polyline points="42.00,511.27 61.97,509.76 81.94,511.65 101.91,509.76 121.88,505.04 141.85,498.43 161.82,493.71 181.79,486.16 201.76,488.05 221.73,484.27" fill="none" stroke="#dadada" stroke-width="1.7" stroke-dasharray="6.3,2.2" stroke-linejoin="round"/>
<polyline points="42.00,519.20 61.97,517.31 81.94,515.42 101.91,511.65 121.88,505.98 141.85,496.54 161.82,487.10 181.79,483.33 201.76,476.72 221.73,471.06" fill="none" stroke="#b8b8b8" stroke-width="1.7" stroke-dasharray="6.3,2.2" stroke-linejoin="round"/>
<polyline points="51.98,505.98 71.95,502.21 91.92,501.26 111.89,492.77 131.87,488.99 151.83,472.94 171.81,467.28 191.77,459.73 211.75,456.90 231.71,455.01" fill="none" stroke="#c6c6c6" stroke-width="1.5" stroke-linejoin="round"/>
<polyline points="51.98,517.78 71.95,509.76 91.92,502.21 111.89,498.90 131.87,479.55 151.83,473.89 171.81,466.34 191.77,462.56 211.75,462.56 231.71,462.56" fill="none" stroke="#a0a0a0" stroke-width="1.5" stroke-linejoin="round"/>
<polyline points="42.00,517.78 61.97,515.42 81.94,511.65 101.91,506.93 121.88,501.26 141.85,489.94 161.82,475.78 181.79,464.45 201.76,463.50 221.73,461.62" fill="none" stroke="#8e8e8e" stroke-width="1.7" stroke-dasharray="6.3,2.2" stroke-linejoin="round"/>
<polyline points="51.98,518.26 71.95,518.26 91.92,517.31 111.89,515.42 131.87,507.87 151.83,487.10 171.81,466.34 191.77,448.40 211.75,454.06 231.71,459.73" fill="none" stroke="#6e6e6e" stroke-width="1.5" stroke-linejoin="round"/>
<polyline points="42.00,519.20 61.97,519.20 81.94,519.20 101.91,517.31 121.88,515.42 141.85,513.54 161.82,505.04 181.79,492.77 201.76,472.94 221.73,468.22" fill="none" stroke="#5e5e5e" stroke-width="1.7" stroke-dasharray="6.3,2.2" stroke-linejoin="round"/>
<polyline points="51.98,519.20 71.95,519.20 91.92,519.20 111.89,518.26 131.87,513.54 151.83,492.11 171.81,476.72 191.77,470.11 211.75,452.18 231.71,449.34" fill="none" stroke="#4e4e4e" stroke-width="1.5" stroke-linejoin="round"/>
<polyline points="42.00,519.20 61.97,519.20 81.94,518.26 101.91,516.37 121.88,514.48 141.85,510.70 161.82,500.32 181.79,497.02 201.76,497.02 221.73,451.70" fill="none" stroke="#333333" stroke-width="1.7" stroke-dasharray="6.3,2.2" stroke-linejoin="round"/>
<polyline points="51.98,519.20 71.95,519.20 91.92,519.20 111.89,519.20 131.87,518.73 151.83,517.31 171.81,518.54 191.77,516.65 211.75,514.29 231.71,486.35" fill="none" stroke="#111111" stroke-width="1.7" stroke-dasharray="6.3,2.2" stroke-linejoin="round"/>
<text x="225.2" y="449.7" text-anchor="middle" font-family="Liberation Serif" font-size="5.5" fill="#333">0.3</text>
<text x="236.6" y="450.3" text-anchor="middle" font-family="Liberation Serif" font-size="5.5" fill="#333">0.9</text>
<text x="236.6" y="456.9" text-anchor="middle" font-family="Liberation Serif" font-size="5.5" fill="#333">0.6</text>
<text x="236.6" y="461.1" text-anchor="middle" font-family="Liberation Serif" font-size="5.5" fill="#333">1.3</text>
<text x="225.8" y="464.1" text-anchor="middle" font-family="Liberation Serif" font-size="5.5" fill="#333">1.0</text>
<text x="236.6" y="465.3" text-anchor="middle" font-family="Liberation Serif" font-size="5.5" fill="#333">0.8</text>
<text x="226.4" y="469.5" text-anchor="middle" font-family="Liberation Serif" font-size="5.5" fill="#333">0.5</text>
<text x="226.4" y="473.1" text-anchor="middle" font-family="Liberation Serif" font-size="5.5" fill="#333">0.9</text>
<text x="226.4" y="486.3" text-anchor="middle" font-family="Liberation Serif" font-size="5.5" fill="#333">0.3</text>
<text x="236.6" y="486.9" text-anchor="middle" font-family="Liberation Serif" font-size="5.5" fill="#333">&lt;0.1</text>
<text x="33" y="414.9" font-size="9.5" font-weight="bold" fill="#111">(c)</text>
<text x="39.8" y="437.6" font-size="9.6" font-style="italic" fill="#222">P</text>
<rect x="254.5" y="420.5" width="208.0" height="103.0" fill="none" stroke="#9a9a9a" stroke-width="1"/>
<line x1="252.7" y1="519.20" x2="254.5" y2="519.20" stroke="#9a9a9a" stroke-width="0.8"/>
<line x1="252.7" y1="509.76" x2="254.5" y2="509.76" stroke="#9a9a9a" stroke-width="0.8"/>
<line x1="252.7" y1="500.32" x2="254.5" y2="500.32" stroke="#9a9a9a" stroke-width="0.8"/>
<line x1="252.7" y1="490.88" x2="254.5" y2="490.88" stroke="#9a9a9a" stroke-width="0.8"/>
<line x1="252.7" y1="481.44" x2="254.5" y2="481.44" stroke="#9a9a9a" stroke-width="0.8"/>
<line x1="252.7" y1="472.00" x2="254.5" y2="472.00" stroke="#9a9a9a" stroke-width="0.8"/>
<line x1="252.7" y1="462.56" x2="254.5" y2="462.56" stroke="#9a9a9a" stroke-width="0.8"/>
<line x1="252.7" y1="453.12" x2="254.5" y2="453.12" stroke="#9a9a9a" stroke-width="0.8"/>
<line x1="252.7" y1="443.68" x2="254.5" y2="443.68" stroke="#9a9a9a" stroke-width="0.8"/>
<line x1="252.7" y1="434.24" x2="254.5" y2="434.24" stroke="#9a9a9a" stroke-width="0.8"/>
<line x1="252.7" y1="424.80" x2="254.5" y2="424.80" stroke="#9a9a9a" stroke-width="0.8"/>
<line x1="263.60" y1="523.5" x2="263.60" y2="525.3" stroke="#9a9a9a" stroke-width="0.8"/>
<line x1="273.59" y1="523.5" x2="273.59" y2="525.3" stroke="#9a9a9a" stroke-width="0.8"/>
<line x1="283.57" y1="523.5" x2="283.57" y2="525.3" stroke="#9a9a9a" stroke-width="0.8"/>
<line x1="293.56" y1="523.5" x2="293.56" y2="525.3" stroke="#9a9a9a" stroke-width="0.8"/>
<line x1="303.54" y1="523.5" x2="303.54" y2="525.3" stroke="#9a9a9a" stroke-width="0.8"/>
<line x1="313.53" y1="523.5" x2="313.53" y2="525.3" stroke="#9a9a9a" stroke-width="0.8"/>
<line x1="323.51" y1="523.5" x2="323.51" y2="525.3" stroke="#9a9a9a" stroke-width="0.8"/>
<line x1="333.50" y1="523.5" x2="333.50" y2="525.3" stroke="#9a9a9a" stroke-width="0.8"/>
<line x1="343.48" y1="523.5" x2="343.48" y2="525.3" stroke="#9a9a9a" stroke-width="0.8"/>
<line x1="353.47" y1="523.5" x2="353.47" y2="525.3" stroke="#9a9a9a" stroke-width="0.8"/>
<line x1="363.45" y1="523.5" x2="363.45" y2="525.3" stroke="#9a9a9a" stroke-width="0.8"/>
<line x1="373.44" y1="523.5" x2="373.44" y2="525.3" stroke="#9a9a9a" stroke-width="0.8"/>
<line x1="383.42" y1="523.5" x2="383.42" y2="525.3" stroke="#9a9a9a" stroke-width="0.8"/>
<line x1="393.41" y1="523.5" x2="393.41" y2="525.3" stroke="#9a9a9a" stroke-width="0.8"/>
<line x1="403.39" y1="523.5" x2="403.39" y2="525.3" stroke="#9a9a9a" stroke-width="0.8"/>
<line x1="413.38" y1="523.5" x2="413.38" y2="525.3" stroke="#9a9a9a" stroke-width="0.8"/>
<line x1="423.36" y1="523.5" x2="423.36" y2="525.3" stroke="#9a9a9a" stroke-width="0.8"/>
<line x1="433.35" y1="523.5" x2="433.35" y2="525.3" stroke="#9a9a9a" stroke-width="0.8"/>
<line x1="443.33" y1="523.5" x2="443.33" y2="525.3" stroke="#9a9a9a" stroke-width="0.8"/>
<line x1="453.31" y1="523.5" x2="453.31" y2="525.3" stroke="#9a9a9a" stroke-width="0.8"/>
<text transform="translate(263.60,534.8) scale(0.85,1)" text-anchor="middle" font-size="9.2" fill="#2a2a2a" stroke="#2a2a2a" stroke-width="0.15">120</text>
<text transform="translate(283.57,534.8) scale(0.85,1)" text-anchor="middle" font-size="9.2" fill="#2a2a2a" stroke="#2a2a2a" stroke-width="0.15">108</text>
<text transform="translate(303.54,534.8) scale(0.85,1)" text-anchor="middle" font-size="9.2" fill="#2a2a2a" stroke="#2a2a2a" stroke-width="0.15">96</text>
<text transform="translate(323.51,534.8) scale(0.85,1)" text-anchor="middle" font-size="9.2" fill="#2a2a2a" stroke="#2a2a2a" stroke-width="0.15">84</text>
<text transform="translate(343.48,534.8) scale(0.85,1)" text-anchor="middle" font-size="9.2" fill="#2a2a2a" stroke="#2a2a2a" stroke-width="0.15">72</text>
<text transform="translate(363.45,534.8) scale(0.85,1)" text-anchor="middle" font-size="9.2" fill="#2a2a2a" stroke="#2a2a2a" stroke-width="0.15">60</text>
<text transform="translate(383.42,534.8) scale(0.85,1)" text-anchor="middle" font-size="9.2" fill="#2a2a2a" stroke="#2a2a2a" stroke-width="0.15">48</text>
<text transform="translate(403.39,534.8) scale(0.85,1)" text-anchor="middle" font-size="9.2" fill="#2a2a2a" stroke="#2a2a2a" stroke-width="0.15">36</text>
<text transform="translate(423.36,534.8) scale(0.85,1)" text-anchor="middle" font-size="9.2" fill="#2a2a2a" stroke="#2a2a2a" stroke-width="0.15">24</text>
<text transform="translate(443.33,534.8) scale(0.85,1)" text-anchor="middle" font-size="9.2" fill="#2a2a2a" stroke="#2a2a2a" stroke-width="0.15">12</text>
<polyline points="263.60,512.59 283.57,511.65 303.54,509.76 323.51,502.21 343.48,492.77 363.45,485.22 383.42,479.55 403.39,477.66 423.36,469.17 443.33,458.78" fill="none" stroke="#dcdcdc" stroke-width="1.7" stroke-dasharray="6.3,2.2" stroke-linejoin="round"/>
<polyline points="273.59,517.31 293.56,515.42 313.53,511.65 333.50,499.38 353.47,486.16 373.44,467.28 393.41,465.39 413.38,469.17 433.35,462.56 453.31,451.23" fill="none" stroke="#c8c8c8" stroke-width="1.5" stroke-linejoin="round"/>
<polyline points="263.60,516.37 283.57,514.48 303.54,511.65 323.51,505.04 343.48,485.97 363.45,478.70 383.42,462.56 403.39,464.45 423.36,463.50 443.33,455.01" fill="none" stroke="#c0c0c0" stroke-width="1.7" stroke-dasharray="6.3,2.2" stroke-linejoin="round"/>
<polyline points="273.59,518.26 293.56,516.37 313.53,512.59 333.50,503.15 353.47,482.38 373.44,466.90 393.41,445.00 413.38,450.67 433.35,453.12 453.31,447.93" fill="none" stroke="#a4a4a4" stroke-width="1.5" stroke-linejoin="round"/>
<polyline points="263.60,519.20 283.57,517.31 303.54,515.42 323.51,513.06 343.48,507.59 363.45,487.76 383.42,473.32 403.39,448.78 423.36,455.48 443.33,451.52" fill="none" stroke="#868686" stroke-width="1.7" stroke-dasharray="6.3,2.2" stroke-linejoin="round"/>
<polyline points="273.59,519.20 293.56,518.26 313.53,517.31 333.50,514.86 353.47,507.59 373.44,493.15 393.41,473.23 413.38,441.79 433.35,452.55 453.31,446.13" fill="none" stroke="#6a6a6a" stroke-width="1.5" stroke-linejoin="round"/>
<polyline points="263.60,519.20 283.57,519.20 303.54,519.20 323.51,518.26 343.48,516.37 363.45,513.54 383.42,507.87 403.39,499.38 423.36,461.43 443.33,483.33" fill="none" stroke="#707070" stroke-width="1.7" stroke-dasharray="6.3,2.2" stroke-linejoin="round"/>
<polyline points="273.59,519.20 293.56,519.20 313.53,518.73 333.50,518.44 353.47,516.65 373.44,512.12 393.41,495.03 413.38,496.54 433.35,479.55 453.31,493.15" fill="none" stroke="#555555" stroke-width="1.5" stroke-linejoin="round"/>
<text x="458.3" y="442.7" text-anchor="middle" font-family="Liberation Serif" font-size="5.5" fill="#333">2.7</text>
<text x="458.3" y="447.7" text-anchor="middle" font-family="Liberation Serif" font-size="5.5" fill="#333">1.6</text>
<text x="447.5" y="452.6" text-anchor="middle" font-family="Liberation Serif" font-size="5.5" fill="#333">2.3</text>
<text x="458.3" y="452.6" text-anchor="middle" font-family="Liberation Serif" font-size="5.5" fill="#333">1.1</text>
<text x="447.5" y="458.0" text-anchor="middle" font-family="Liberation Serif" font-size="5.5" fill="#333">0.4</text>
<text x="448.4" y="462.5" text-anchor="middle" font-family="Liberation Serif" font-size="5.5" fill="#333">1.8</text>
<text x="448.4" y="484.6" text-anchor="middle" font-family="Liberation Serif" font-size="5.5" fill="#333">0.5</text>
<text x="458.3" y="494.9" text-anchor="middle" font-family="Liberation Serif" font-size="5.5" fill="#333">0.5</text>
<text x="254" y="414.9" font-size="9.5" font-weight="bold" fill="#111">(d)</text>
<text x="259" y="437.8" font-size="10.5" font-style="italic" fill="#222">G<tspan font-size="6.5" font-family="Liberation Serif" dy="1">10</tspan></text>
<text x="123" y="545.5" font-size="8.5" fill="#2a2a2a">t<tspan font-size="5" dy="1.8">tc</tspan><tspan dy="-1.8">[h]</tspan></text>
<text x="345" y="545.5" font-size="8.5" fill="#2a2a2a">t<tspan font-size="5" dy="1.8">tc</tspan><tspan dy="-1.8">[h]</tspan></text>
<text transform="translate(12.5,472.5) rotate(-90)" text-anchor="middle" font-size="8.5" fill="#2a2a2a"><tspan font-style="italic">p</tspan><tspan font-size="5" dy="1.8">obj</tspan><tspan dy="-1.8"> [%]</tspan></text>
<defs><linearGradient id="gg" x1="0" y1="0" x2="0" y2="1"><stop offset="0" stop-color="#ffffff"/><stop offset="1" stop-color="#000000"/></linearGradient></defs>
<rect x="469.3" y="426.7" width="8.8" height="90.6" fill="url(#gg)" stroke="#444" stroke-width="0.8"/>
<text transform="translate(488.5,426.5) rotate(-90)" text-anchor="middle" font-size="8.5" fill="#2a2a2a">cyclolysis</text>
<text transform="translate(488.5,518) rotate(-90)" text-anchor="middle" font-size="8.1" fill="#2a2a2a">cyclogenesis</text>
</svg></body></html>
